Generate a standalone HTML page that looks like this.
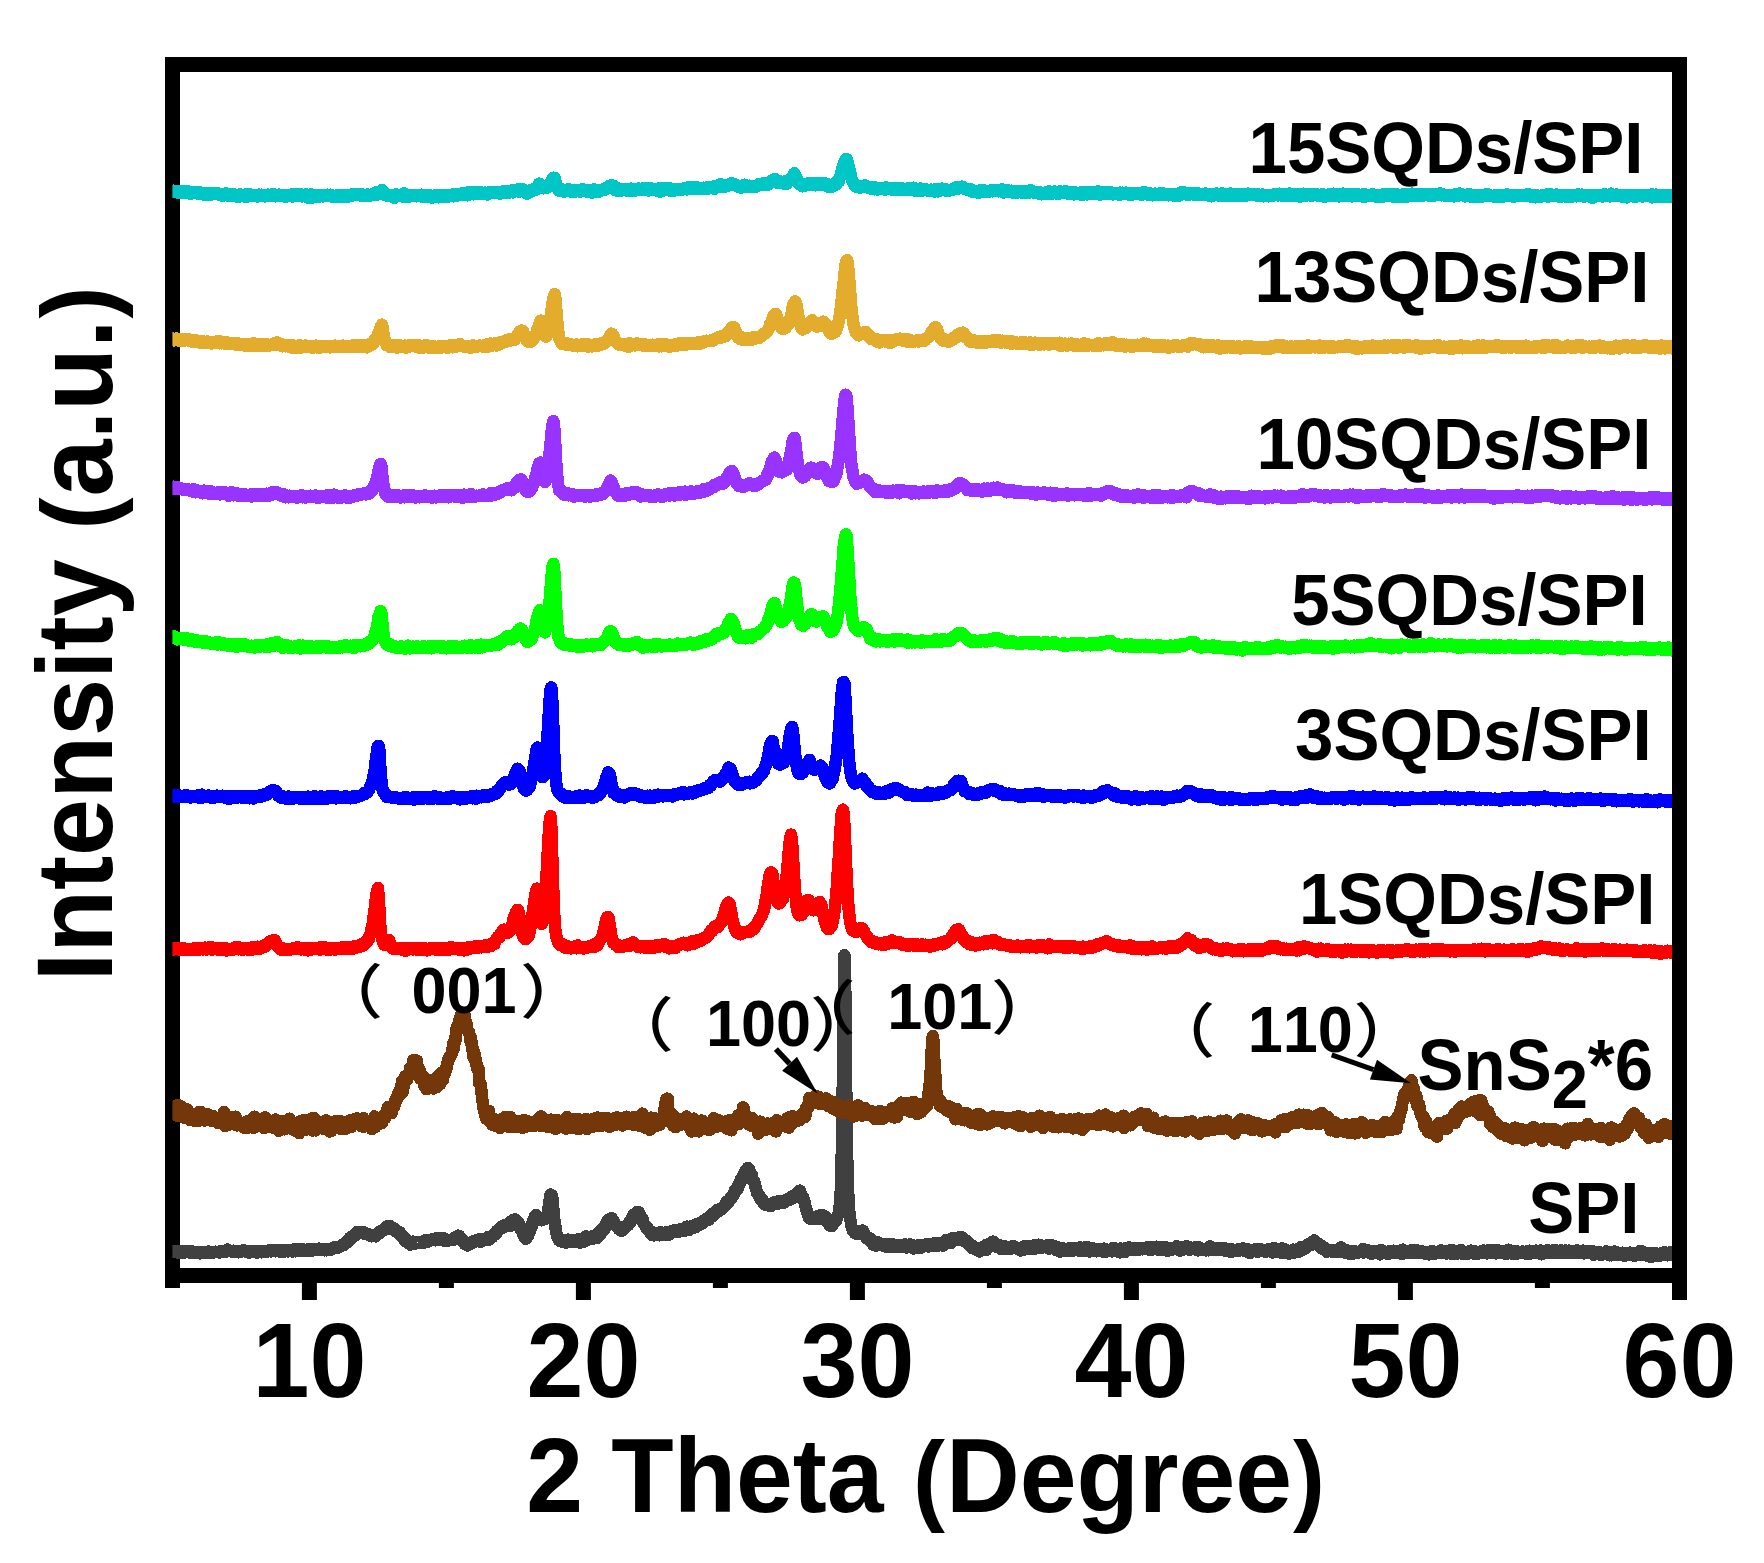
<!DOCTYPE html>
<html><head><meta charset="utf-8"><title>XRD</title>
<style>html,body{margin:0;padding:0;background:#fff}svg{display:block}</style></head>
<body>
<svg width="1764" height="1563" viewBox="0 0 1764 1563">
<rect width="1764" height="1563" fill="#fff"/>
<g fill="#000">
<rect x="165" y="57" width="15" height="1231"/>
</g>
<clipPath id="cp"><rect x="172.4" y="60" width="1507.0" height="1215"/></clipPath>
<g fill="none" stroke-linejoin="round" stroke-linecap="butt" clip-path="url(#cp)" shape-rendering="crispEdges">
<polyline stroke="#404040" stroke-width="12.5" points="172.4,1251.3 173.1,1251.3 173.8,1251.3 174.5,1252.2 175.1,1251.3 175.8,1251.5 176.5,1252.2 177.2,1252.3 177.9,1252.2 178.6,1251.8 179.3,1252.7 179.9,1253.2 180.6,1251.7 181.3,1252.0 182.0,1252.1 182.7,1252.1 183.4,1251.7 184.0,1250.9 184.7,1252.4 185.4,1252.1 186.1,1252.0 186.8,1251.5 187.5,1252.1 188.2,1252.2 188.8,1252.3 189.5,1252.5 190.2,1251.6 190.9,1250.9 191.6,1252.2 192.3,1252.1 193.0,1252.5 193.6,1252.3 194.3,1253.2 195.0,1253.0 195.7,1252.8 196.4,1252.5 197.1,1252.3 197.7,1252.8 198.4,1252.3 199.1,1252.3 199.8,1253.4 200.5,1253.0 201.2,1252.7 201.9,1252.1 202.5,1252.3 203.2,1252.4 203.9,1252.5 204.6,1251.9 205.3,1252.7 206.0,1252.5 206.7,1252.4 207.3,1252.8 208.0,1252.7 208.7,1251.5 209.4,1252.0 210.1,1252.4 210.8,1252.5 211.4,1253.0 212.1,1252.0 212.8,1252.4 213.5,1252.4 214.2,1252.1 214.9,1251.9 215.6,1251.7 216.2,1252.0 216.9,1251.8 217.6,1252.2 218.3,1251.8 219.0,1252.3 219.7,1252.4 220.4,1251.7 221.0,1251.2 221.7,1251.9 222.4,1251.9 223.1,1252.1 223.8,1251.2 224.5,1251.4 225.1,1251.4 225.8,1251.5 226.5,1251.1 227.2,1249.6 227.9,1251.3 228.6,1250.4 229.3,1251.1 229.9,1250.7 230.6,1251.1 231.3,1251.4 232.0,1251.4 232.7,1251.2 233.4,1250.8 234.1,1251.4 234.7,1251.6 235.4,1251.8 236.1,1251.5 236.8,1251.9 237.5,1251.1 238.2,1251.2 238.8,1252.3 239.5,1250.8 240.2,1250.8 240.9,1251.0 241.6,1250.9 242.3,1251.3 243.0,1250.7 243.6,1250.2 244.3,1250.7 245.0,1251.4 245.7,1251.0 246.4,1251.2 247.1,1251.4 247.8,1251.7 248.4,1252.2 249.1,1252.7 249.8,1251.4 250.5,1251.1 251.2,1251.3 251.9,1251.6 252.5,1251.3 253.2,1251.2 253.9,1251.2 254.6,1251.0 255.3,1251.1 256.0,1252.1 256.7,1252.0 257.3,1252.5 258.0,1251.1 258.7,1251.0 259.4,1251.6 260.1,1251.7 260.8,1252.0 261.5,1252.3 262.1,1251.7 262.8,1251.4 263.5,1251.0 264.2,1251.9 264.9,1251.4 265.6,1251.0 266.2,1251.9 266.9,1250.9 267.6,1250.8 268.3,1250.5 269.0,1251.1 269.7,1250.0 270.4,1250.4 271.0,1251.4 271.7,1250.6 272.4,1249.9 273.1,1250.7 273.8,1250.5 274.5,1250.2 275.2,1250.4 275.8,1251.2 276.5,1250.9 277.2,1250.5 277.9,1250.3 278.6,1251.2 279.3,1251.5 279.9,1251.0 280.6,1250.5 281.3,1250.2 282.0,1251.7 282.7,1250.9 283.4,1250.7 284.1,1250.8 284.7,1251.3 285.4,1250.8 286.1,1250.6 286.8,1249.8 287.5,1251.0 288.2,1251.3 288.9,1250.5 289.5,1250.2 290.2,1250.7 290.9,1250.8 291.6,1251.3 292.3,1251.4 293.0,1250.1 293.6,1249.4 294.3,1249.6 295.0,1249.7 295.7,1251.3 296.4,1249.9 297.1,1250.0 297.8,1249.5 298.4,1250.1 299.1,1250.4 299.8,1249.6 300.5,1249.9 301.2,1250.5 301.9,1250.1 302.6,1249.0 303.2,1249.8 303.9,1250.4 304.6,1249.7 305.3,1250.8 306.0,1249.8 306.7,1250.2 307.3,1249.6 308.0,1250.4 308.7,1250.5 309.4,1249.7 310.1,1249.4 310.8,1250.4 311.5,1249.5 312.1,1249.6 312.8,1250.4 313.5,1249.9 314.2,1249.3 314.9,1249.4 315.6,1250.1 316.3,1250.0 316.9,1249.4 317.6,1249.8 318.3,1250.0 319.0,1248.7 319.7,1249.6 320.4,1250.0 321.0,1249.8 321.7,1249.9 322.4,1250.1 323.1,1250.0 323.8,1249.7 324.5,1250.3 325.2,1249.1 325.8,1249.3 326.5,1250.3 327.2,1249.6 327.9,1249.2 328.6,1249.1 329.3,1248.9 330.0,1249.2 330.6,1248.9 331.3,1249.5 332.0,1248.5 332.7,1248.2 333.4,1247.9 334.1,1248.0 334.7,1248.3 335.4,1247.0 336.1,1247.1 336.8,1247.6 337.5,1247.8 338.2,1247.0 338.9,1246.8 339.5,1246.5 340.2,1246.6 340.9,1246.5 341.6,1245.6 342.3,1244.9 343.0,1245.4 343.7,1244.2 344.3,1244.0 345.0,1243.0 345.7,1242.9 346.4,1241.6 347.1,1241.7 347.8,1240.8 348.4,1241.8 349.1,1239.1 349.8,1237.9 350.5,1239.0 351.2,1237.4 351.9,1236.2 352.6,1237.4 353.2,1235.8 353.9,1235.2 354.6,1234.9 355.3,1235.5 356.0,1233.7 356.7,1233.8 357.4,1232.1 358.0,1232.2 358.7,1232.2 359.4,1233.0 360.1,1232.7 360.8,1232.6 361.5,1232.9 362.1,1232.4 362.8,1232.9 363.5,1232.1 364.2,1233.5 364.9,1233.5 365.6,1233.4 366.3,1234.0 366.9,1233.9 367.6,1234.1 368.3,1234.0 369.0,1234.7 369.7,1234.9 370.4,1235.7 371.1,1236.3 371.7,1235.3 372.4,1235.7 373.1,1235.7 373.8,1235.9 374.5,1236.1 375.2,1235.7 375.8,1236.4 376.5,1234.4 377.2,1234.5 377.9,1233.9 378.6,1233.2 379.3,1233.3 380.0,1231.7 380.6,1231.1 381.3,1230.8 382.0,1230.5 382.7,1230.5 383.4,1229.4 384.1,1229.5 384.8,1229.6 385.4,1229.1 386.1,1227.0 386.8,1226.9 387.5,1226.9 388.2,1226.0 388.9,1227.5 389.5,1228.4 390.2,1226.2 390.9,1227.1 391.6,1227.2 392.3,1227.9 393.0,1228.7 393.7,1229.1 394.3,1229.7 395.0,1229.1 395.7,1229.9 396.4,1231.8 397.1,1231.3 397.8,1232.4 398.5,1233.5 399.1,1233.7 399.8,1232.2 400.5,1235.0 401.2,1235.9 401.9,1236.5 402.6,1236.6 403.2,1238.3 403.9,1237.1 404.6,1238.8 405.3,1241.4 406.0,1239.0 406.7,1241.1 407.4,1241.4 408.0,1241.0 408.7,1242.3 409.4,1242.7 410.1,1244.5 410.8,1242.3 411.5,1242.7 412.2,1242.4 412.8,1241.6 413.5,1241.8 414.2,1242.3 414.9,1242.4 415.6,1243.4 416.3,1242.9 416.9,1243.2 417.6,1242.6 418.3,1241.9 419.0,1242.7 419.7,1242.9 420.4,1243.0 421.1,1242.5 421.7,1241.9 422.4,1241.9 423.1,1243.2 423.8,1241.2 424.5,1241.5 425.2,1241.2 425.9,1241.9 426.5,1239.9 427.2,1242.2 427.9,1241.2 428.6,1240.8 429.3,1240.3 430.0,1240.4 430.6,1239.9 431.3,1239.5 432.0,1239.5 432.7,1239.0 433.4,1238.9 434.1,1239.6 434.8,1239.5 435.4,1240.3 436.1,1238.9 436.8,1238.2 437.5,1239.5 438.2,1240.0 438.9,1238.1 439.6,1240.1 440.2,1240.2 440.9,1239.9 441.6,1237.8 442.3,1239.0 443.0,1240.2 443.7,1240.4 444.3,1239.9 445.0,1238.6 445.7,1240.1 446.4,1239.5 447.1,1241.2 447.8,1240.2 448.5,1240.5 449.1,1240.0 449.8,1240.3 450.5,1239.8 451.2,1239.6 451.9,1239.3 452.6,1239.8 453.3,1239.9 453.9,1238.4 454.6,1238.6 455.3,1238.5 456.0,1236.8 456.7,1237.4 457.4,1237.5 458.0,1235.6 458.7,1235.9 459.4,1236.1 460.1,1238.3 460.8,1238.6 461.5,1239.2 462.2,1241.1 462.8,1240.1 463.5,1241.0 464.2,1242.6 464.9,1244.2 465.6,1244.5 466.3,1243.3 467.0,1245.0 467.6,1245.5 468.3,1243.9 469.0,1243.7 469.7,1242.7 470.4,1244.0 471.1,1243.5 471.7,1242.8 472.4,1242.9 473.1,1241.8 473.8,1241.7 474.5,1240.7 475.2,1241.1 475.9,1241.1 476.5,1241.3 477.2,1240.3 477.9,1239.7 478.6,1240.9 479.3,1239.5 480.0,1240.1 480.7,1241.7 481.3,1240.2 482.0,1240.6 482.7,1239.8 483.4,1239.4 484.1,1239.6 484.8,1240.2 485.4,1238.8 486.1,1238.4 486.8,1238.9 487.5,1237.3 488.2,1238.1 488.9,1239.7 489.6,1238.7 490.2,1237.0 490.9,1237.0 491.6,1237.7 492.3,1236.1 493.0,1234.9 493.7,1235.5 494.4,1233.6 495.0,1232.9 495.7,1233.4 496.4,1233.7 497.1,1230.7 497.8,1230.5 498.5,1230.1 499.1,1229.1 499.8,1229.0 500.5,1228.0 501.2,1227.0 501.9,1228.4 502.6,1226.2 503.3,1226.6 503.9,1225.3 504.6,1226.4 505.3,1225.5 506.0,1226.2 506.7,1225.7 507.4,1225.0 508.1,1225.3 508.7,1225.7 509.4,1226.2 510.1,1221.9 510.8,1224.3 511.5,1223.2 512.2,1222.0 512.8,1222.8 513.5,1219.9 514.2,1219.6 514.9,1219.5 515.6,1219.8 516.3,1221.4 517.0,1221.7 517.6,1222.1 518.3,1222.6 519.0,1224.5 519.7,1226.7 520.4,1228.8 521.1,1230.2 521.8,1231.0 522.4,1232.2 523.1,1234.0 523.8,1235.5 524.5,1236.7 525.2,1238.4 525.9,1238.9 526.5,1237.7 527.2,1235.5 527.9,1236.4 528.6,1232.5 529.3,1232.7 530.0,1230.1 530.7,1226.2 531.3,1227.7 532.0,1225.9 532.7,1222.3 533.4,1219.7 534.1,1218.7 534.8,1216.3 535.5,1217.0 536.1,1215.1 536.8,1216.5 537.5,1216.8 538.2,1219.3 538.9,1219.2 539.6,1219.0 540.2,1219.3 540.9,1219.0 541.6,1220.3 542.3,1219.5 543.0,1219.6 543.7,1219.1 544.4,1218.9 545.0,1217.4 545.7,1218.7 546.4,1216.7 547.1,1215.2 547.8,1212.0 548.5,1209.0 549.2,1203.1 549.8,1199.0 550.5,1194.6 551.2,1194.9 551.9,1195.7 552.6,1200.1 553.3,1209.1 553.9,1215.7 554.6,1222.4 555.3,1226.1 556.0,1231.1 556.7,1234.4 557.4,1237.3 558.1,1238.3 558.7,1240.1 559.4,1239.7 560.1,1240.7 560.8,1241.4 561.5,1241.4 562.2,1241.8 562.9,1242.1 563.5,1241.2 564.2,1241.3 564.9,1242.0 565.6,1239.9 566.3,1242.7 567.0,1241.1 567.6,1241.0 568.3,1239.7 569.0,1241.7 569.7,1241.5 570.4,1241.8 571.1,1241.7 571.8,1240.6 572.4,1241.7 573.1,1240.6 573.8,1241.0 574.5,1242.0 575.2,1241.4 575.9,1241.2 576.6,1240.1 577.2,1240.4 577.9,1241.0 578.6,1239.3 579.3,1239.9 580.0,1242.5 580.7,1240.0 581.3,1240.9 582.0,1241.8 582.7,1239.8 583.4,1240.1 584.1,1239.0 584.8,1241.4 585.5,1239.7 586.1,1236.3 586.8,1238.6 587.5,1239.3 588.2,1239.5 588.9,1239.2 589.6,1239.1 590.3,1238.1 590.9,1236.7 591.6,1237.5 592.3,1238.8 593.0,1238.4 593.7,1237.0 594.4,1236.9 595.0,1236.3 595.7,1236.9 596.4,1237.3 597.1,1237.9 597.8,1233.4 598.5,1235.0 599.2,1233.3 599.8,1231.3 600.5,1234.2 601.2,1231.3 601.9,1229.6 602.6,1230.3 603.3,1227.8 604.0,1230.0 604.6,1228.3 605.3,1227.0 606.0,1226.6 606.7,1222.2 607.4,1221.0 608.1,1222.7 608.7,1219.7 609.4,1221.7 610.1,1220.1 610.8,1220.1 611.5,1218.0 612.2,1221.2 612.9,1221.1 613.5,1220.5 614.2,1222.4 614.9,1223.8 615.6,1224.6 616.3,1226.4 617.0,1225.9 617.7,1226.3 618.3,1227.2 619.0,1229.3 619.7,1229.1 620.4,1230.4 621.1,1229.9 621.8,1230.7 622.4,1228.9 623.1,1229.3 623.8,1229.1 624.5,1227.8 625.2,1227.8 625.9,1227.0 626.6,1226.2 627.2,1224.7 627.9,1224.4 628.6,1224.8 629.3,1221.7 630.0,1222.3 630.7,1221.8 631.4,1219.2 632.0,1219.7 632.7,1218.0 633.4,1214.9 634.1,1215.3 634.8,1214.3 635.5,1214.1 636.1,1213.0 636.8,1212.0 637.5,1212.5 638.2,1213.3 638.9,1212.2 639.6,1215.7 640.3,1215.8 640.9,1217.3 641.6,1219.2 642.3,1218.0 643.0,1220.6 643.7,1223.5 644.4,1224.3 645.1,1225.6 645.7,1226.0 646.4,1227.8 647.1,1228.7 647.8,1227.9 648.5,1230.6 649.2,1230.9 649.8,1231.3 650.5,1233.7 651.2,1231.4 651.9,1235.1 652.6,1233.9 653.3,1235.3 654.0,1235.0 654.6,1235.3 655.3,1233.7 656.0,1234.0 656.7,1234.9 657.4,1233.8 658.1,1233.4 658.8,1232.8 659.4,1235.3 660.1,1234.8 660.8,1232.2 661.5,1234.6 662.2,1235.2 662.9,1233.6 663.5,1233.7 664.2,1234.8 664.9,1234.1 665.6,1232.6 666.3,1234.4 667.0,1233.4 667.7,1234.6 668.3,1234.7 669.0,1233.5 669.7,1233.0 670.4,1233.7 671.1,1231.5 671.8,1232.0 672.5,1230.8 673.1,1231.4 673.8,1231.1 674.5,1231.7 675.2,1229.8 675.9,1230.0 676.6,1231.3 677.2,1231.1 677.9,1231.9 678.6,1230.1 679.3,1230.7 680.0,1230.8 680.7,1229.1 681.4,1230.4 682.0,1230.2 682.7,1230.3 683.4,1230.5 684.1,1230.7 684.8,1229.2 685.5,1229.5 686.2,1229.3 686.8,1226.7 687.5,1228.9 688.2,1228.2 688.9,1228.6 689.6,1229.7 690.3,1227.3 690.9,1227.5 691.6,1226.3 692.3,1227.8 693.0,1227.8 693.7,1226.1 694.4,1226.2 695.1,1226.1 695.7,1227.1 696.4,1224.2 697.1,1226.0 697.8,1225.5 698.5,1224.5 699.2,1223.8 699.9,1223.4 700.5,1222.9 701.2,1223.6 701.9,1223.5 702.6,1223.1 703.3,1220.6 704.0,1222.2 704.6,1220.8 705.3,1221.2 706.0,1219.1 706.7,1219.5 707.4,1218.3 708.1,1218.8 708.8,1219.7 709.4,1217.0 710.1,1216.2 710.8,1216.2 711.5,1216.3 712.2,1214.1 712.9,1215.4 713.6,1215.7 714.2,1213.8 714.9,1212.3 715.6,1212.9 716.3,1211.8 717.0,1212.1 717.7,1209.7 718.3,1211.4 719.0,1211.0 719.7,1209.6 720.4,1209.4 721.1,1209.5 721.8,1209.1 722.5,1207.8 723.1,1207.5 723.8,1206.5 724.5,1205.7 725.2,1205.0 725.9,1204.9 726.6,1201.5 727.3,1202.0 727.9,1202.6 728.6,1201.8 729.3,1200.7 730.0,1200.0 730.7,1197.9 731.4,1197.9 732.0,1197.4 732.7,1196.4 733.4,1195.5 734.1,1193.5 734.8,1190.7 735.5,1191.2 736.2,1189.6 736.8,1188.0 737.5,1188.9 738.2,1186.9 738.9,1183.7 739.6,1182.5 740.3,1183.1 741.0,1179.3 741.6,1178.4 742.3,1179.0 743.0,1175.4 743.7,1176.9 744.4,1174.1 745.1,1171.4 745.7,1172.6 746.4,1172.6 747.1,1171.6 747.8,1167.9 748.5,1168.7 749.2,1169.7 749.9,1171.6 750.5,1173.1 751.2,1175.0 751.9,1175.0 752.6,1180.3 753.3,1181.3 754.0,1180.8 754.7,1184.2 755.3,1186.0 756.0,1188.9 756.7,1190.9 757.4,1193.6 758.1,1194.5 758.8,1195.8 759.4,1195.4 760.1,1197.9 760.8,1200.0 761.5,1199.2 762.2,1200.7 762.9,1200.6 763.6,1203.1 764.2,1203.4 764.9,1204.6 765.6,1203.3 766.3,1204.9 767.0,1205.2 767.7,1205.1 768.4,1204.9 769.0,1205.5 769.7,1205.0 770.4,1205.8 771.1,1206.2 771.8,1204.0 772.5,1204.3 773.1,1204.1 773.8,1204.0 774.5,1202.2 775.2,1203.3 775.9,1202.9 776.6,1202.4 777.3,1204.2 777.9,1202.4 778.6,1201.1 779.3,1201.7 780.0,1201.9 780.7,1201.8 781.4,1201.6 782.1,1201.5 782.7,1202.4 783.4,1203.0 784.1,1201.8 784.8,1201.2 785.5,1201.6 786.2,1201.3 786.8,1199.7 787.5,1200.3 788.2,1198.8 788.9,1200.0 789.6,1199.7 790.3,1198.1 791.0,1197.0 791.6,1198.6 792.3,1197.8 793.0,1198.1 793.7,1195.4 794.4,1197.3 795.1,1196.8 795.8,1194.6 796.4,1193.4 797.1,1193.7 797.8,1193.3 798.5,1193.0 799.2,1193.1 799.9,1190.6 800.5,1192.7 801.2,1195.3 801.9,1195.9 802.6,1196.6 803.3,1197.9 804.0,1200.2 804.7,1202.9 805.3,1205.3 806.0,1209.2 806.7,1209.6 807.4,1212.8 808.1,1214.7 808.8,1217.8 809.5,1216.8 810.1,1217.9 810.8,1216.2 811.5,1219.2 812.2,1217.3 812.9,1217.7 813.6,1218.4 814.2,1219.0 814.9,1219.0 815.6,1217.3 816.3,1216.8 817.0,1216.5 817.7,1217.4 818.4,1217.3 819.0,1216.0 819.7,1218.8 820.4,1216.2 821.1,1214.9 821.8,1215.3 822.5,1215.9 823.2,1215.6 823.8,1216.2 824.5,1217.6 825.2,1217.8 825.9,1216.8 826.6,1219.3 827.3,1220.0 827.9,1222.4 828.6,1222.5 829.3,1223.4 830.0,1225.8 830.7,1225.1 831.4,1224.2 832.1,1226.0 832.7,1223.3 833.4,1221.7 834.1,1221.7 834.8,1222.1 835.5,1219.8 836.2,1220.3 836.9,1218.5 837.5,1216.7 838.2,1214.2 838.9,1212.3 839.6,1207.2 840.3,1199.7 841.0,1186.3 841.6,1163.3 842.3,1124.2 843.0,1067.1 843.7,997.7 844.4,955.3 845.1,976.1 845.8,1040.7 846.4,1106.2 847.1,1152.7 847.8,1183.1 848.5,1199.8 849.2,1211.0 849.9,1218.2 850.6,1220.7 851.2,1225.7 851.9,1227.5 852.6,1230.0 853.3,1229.9 854.0,1231.1 854.7,1232.9 855.3,1233.0 856.0,1232.6 856.7,1232.5 857.4,1234.1 858.1,1231.1 858.8,1232.5 859.5,1232.8 860.1,1234.2 860.8,1234.0 861.5,1232.9 862.2,1232.8 862.9,1230.6 863.6,1233.3 864.3,1233.7 864.9,1235.3 865.6,1236.1 866.3,1238.2 867.0,1237.5 867.7,1239.2 868.4,1237.9 869.0,1238.9 869.7,1238.4 870.4,1238.9 871.1,1241.4 871.8,1240.0 872.5,1241.9 873.2,1244.6 873.8,1243.5 874.5,1243.9 875.2,1244.5 875.9,1245.6 876.6,1242.0 877.3,1244.7 878.0,1244.7 878.6,1245.0 879.3,1245.1 880.0,1243.4 880.7,1244.6 881.4,1243.7 882.1,1243.8 882.7,1244.8 883.4,1245.9 884.1,1245.9 884.8,1244.1 885.5,1244.9 886.2,1244.0 886.9,1246.9 887.5,1246.8 888.2,1245.2 888.9,1245.3 889.6,1246.8 890.3,1246.5 891.0,1244.9 891.7,1243.9 892.3,1245.3 893.0,1246.5 893.7,1244.7 894.4,1245.2 895.1,1245.5 895.8,1245.2 896.4,1245.5 897.1,1246.9 897.8,1246.2 898.5,1245.2 899.2,1246.9 899.9,1246.7 900.6,1246.4 901.2,1246.4 901.9,1246.7 902.6,1245.1 903.3,1245.4 904.0,1245.4 904.7,1244.3 905.4,1245.3 906.0,1246.8 906.7,1247.5 907.4,1247.2 908.1,1245.5 908.8,1245.3 909.5,1245.6 910.1,1244.4 910.8,1245.7 911.5,1246.0 912.2,1245.0 912.9,1245.5 913.6,1248.4 914.3,1248.2 914.9,1246.5 915.6,1247.8 916.3,1246.2 917.0,1245.7 917.7,1246.1 918.4,1246.6 919.1,1247.6 919.7,1248.1 920.4,1245.1 921.1,1245.7 921.8,1245.0 922.5,1246.6 923.2,1246.1 923.8,1246.4 924.5,1245.3 925.2,1245.2 925.9,1244.6 926.6,1245.0 927.3,1246.3 928.0,1246.4 928.6,1244.1 929.3,1245.1 930.0,1246.3 930.7,1245.3 931.4,1244.4 932.1,1245.5 932.8,1245.9 933.4,1245.1 934.1,1245.8 934.8,1243.1 935.5,1245.7 936.2,1245.2 936.9,1246.2 937.5,1243.5 938.2,1243.6 938.9,1245.2 939.6,1244.0 940.3,1243.4 941.0,1243.8 941.7,1244.5 942.3,1243.5 943.0,1245.6 943.7,1243.5 944.4,1243.2 945.1,1242.8 945.8,1243.8 946.5,1239.8 947.1,1242.6 947.8,1243.1 948.5,1241.4 949.2,1241.3 949.9,1242.1 950.6,1241.9 951.2,1242.8 951.9,1241.2 952.6,1238.0 953.3,1238.8 954.0,1240.2 954.7,1239.4 955.4,1239.6 956.0,1239.1 956.7,1238.3 957.4,1238.9 958.1,1238.7 958.8,1239.7 959.5,1237.1 960.2,1238.0 960.8,1239.9 961.5,1238.1 962.2,1239.7 962.9,1237.7 963.6,1239.1 964.3,1240.8 964.9,1240.7 965.6,1240.0 966.3,1240.9 967.0,1242.0 967.7,1243.4 968.4,1243.1 969.1,1243.7 969.7,1244.7 970.4,1245.8 971.1,1244.8 971.8,1247.8 972.5,1245.8 973.2,1247.3 973.9,1247.5 974.5,1247.2 975.2,1249.4 975.9,1249.6 976.6,1248.8 977.3,1250.4 978.0,1250.4 978.6,1248.7 979.3,1251.4 980.0,1247.9 980.7,1249.0 981.4,1249.9 982.1,1248.9 982.8,1246.8 983.4,1248.7 984.1,1246.3 984.8,1247.3 985.5,1247.2 986.2,1250.1 986.9,1244.6 987.6,1244.8 988.2,1245.0 988.9,1243.9 989.6,1243.5 990.3,1244.1 991.0,1243.1 991.7,1242.1 992.3,1242.7 993.0,1241.6 993.7,1243.3 994.4,1243.4 995.1,1243.5 995.8,1245.7 996.5,1246.8 997.1,1245.0 997.8,1247.3 998.5,1245.9 999.2,1247.7 999.9,1245.7 1000.6,1245.6 1001.3,1249.0 1001.9,1246.3 1002.6,1248.7 1003.3,1247.9 1004.0,1246.6 1004.7,1246.4 1005.4,1248.0 1006.0,1248.5 1006.7,1248.4 1007.4,1247.5 1008.1,1247.5 1008.8,1248.2 1009.5,1249.0 1010.2,1248.9 1010.8,1247.5 1011.5,1247.4 1012.2,1246.1 1012.9,1246.0 1013.6,1247.5 1014.3,1247.4 1015.0,1247.8 1015.6,1247.3 1016.3,1248.5 1017.0,1247.9 1017.7,1248.4 1018.4,1248.8 1019.1,1248.5 1019.7,1249.1 1020.4,1250.4 1021.1,1249.3 1021.8,1249.3 1022.5,1247.3 1023.2,1250.0 1023.9,1246.3 1024.5,1247.9 1025.2,1247.1 1025.9,1248.4 1026.6,1249.2 1027.3,1246.2 1028.0,1248.0 1028.7,1247.0 1029.3,1246.7 1030.0,1247.6 1030.7,1248.1 1031.4,1248.9 1032.1,1248.5 1032.8,1246.5 1033.4,1245.6 1034.1,1247.2 1034.8,1246.9 1035.5,1248.4 1036.2,1246.8 1036.9,1245.1 1037.6,1246.9 1038.2,1244.7 1038.9,1246.9 1039.6,1244.8 1040.3,1248.2 1041.0,1245.6 1041.7,1247.0 1042.4,1245.7 1043.0,1245.7 1043.7,1246.2 1044.4,1247.2 1045.1,1246.5 1045.8,1247.2 1046.5,1246.0 1047.1,1245.2 1047.8,1247.7 1048.5,1248.6 1049.2,1245.5 1049.9,1245.7 1050.6,1245.4 1051.3,1245.2 1051.9,1245.6 1052.6,1247.1 1053.3,1246.4 1054.0,1246.9 1054.7,1246.1 1055.4,1246.5 1056.1,1249.9 1056.7,1249.5 1057.4,1248.6 1058.1,1247.4 1058.8,1251.2 1059.5,1248.9 1060.2,1251.7 1060.8,1250.4 1061.5,1250.1 1062.2,1248.2 1062.9,1249.2 1063.6,1250.8 1064.3,1249.3 1065.0,1250.8 1065.6,1249.7 1066.3,1250.4 1067.0,1250.0 1067.7,1248.7 1068.4,1249.6 1069.1,1250.2 1069.8,1248.3 1070.4,1251.2 1071.1,1250.2 1071.8,1251.0 1072.5,1248.6 1073.2,1248.9 1073.9,1249.8 1074.5,1249.1 1075.2,1248.7 1075.9,1248.8 1076.6,1248.1 1077.3,1248.8 1078.0,1248.7 1078.7,1248.3 1079.3,1250.6 1080.0,1247.5 1080.7,1248.7 1081.4,1249.9 1082.1,1248.8 1082.8,1248.3 1083.5,1250.7 1084.1,1247.6 1084.8,1248.4 1085.5,1248.7 1086.2,1249.3 1086.9,1248.7 1087.6,1247.3 1088.2,1248.6 1088.9,1250.1 1089.6,1251.5 1090.3,1248.9 1091.0,1248.2 1091.7,1250.8 1092.4,1251.1 1093.0,1248.4 1093.7,1249.1 1094.4,1248.8 1095.1,1250.1 1095.8,1250.6 1096.5,1251.3 1097.2,1250.2 1097.8,1251.1 1098.5,1250.2 1099.2,1249.4 1099.9,1250.7 1100.6,1250.1 1101.3,1250.1 1101.9,1249.4 1102.6,1249.3 1103.3,1251.8 1104.0,1248.6 1104.7,1252.2 1105.4,1250.3 1106.1,1251.5 1106.7,1251.4 1107.4,1250.3 1108.1,1250.4 1108.8,1250.3 1109.5,1249.7 1110.2,1250.5 1110.9,1250.2 1111.5,1249.7 1112.2,1251.4 1112.9,1250.9 1113.6,1247.9 1114.3,1251.2 1115.0,1250.1 1115.6,1249.6 1116.3,1249.6 1117.0,1249.5 1117.7,1251.6 1118.4,1250.3 1119.1,1249.6 1119.8,1252.4 1120.4,1248.5 1121.1,1249.0 1121.8,1250.1 1122.5,1249.2 1123.2,1248.9 1123.9,1249.0 1124.6,1248.6 1125.2,1251.8 1125.9,1249.0 1126.6,1250.4 1127.3,1249.3 1128.0,1248.5 1128.7,1247.4 1129.3,1249.1 1130.0,1250.2 1130.7,1250.1 1131.4,1247.9 1132.1,1248.9 1132.8,1248.2 1133.5,1248.3 1134.1,1249.2 1134.8,1249.9 1135.5,1249.3 1136.2,1248.6 1136.9,1248.8 1137.6,1248.1 1138.3,1250.0 1138.9,1248.9 1139.6,1247.8 1140.3,1248.8 1141.0,1249.1 1141.7,1248.9 1142.4,1249.3 1143.0,1249.2 1143.7,1247.8 1144.4,1248.4 1145.1,1248.0 1145.8,1248.8 1146.5,1248.1 1147.2,1248.8 1147.8,1246.9 1148.5,1249.5 1149.2,1249.1 1149.9,1248.4 1150.6,1248.5 1151.3,1248.4 1152.0,1249.7 1152.6,1247.3 1153.3,1249.3 1154.0,1249.3 1154.7,1247.6 1155.4,1247.8 1156.1,1247.3 1156.7,1246.7 1157.4,1247.9 1158.1,1249.6 1158.8,1249.6 1159.5,1247.4 1160.2,1249.0 1160.9,1249.1 1161.5,1248.7 1162.2,1249.6 1162.9,1248.7 1163.6,1247.4 1164.3,1248.6 1165.0,1249.5 1165.7,1249.4 1166.3,1248.8 1167.0,1247.6 1167.7,1250.8 1168.4,1249.2 1169.1,1250.3 1169.8,1248.3 1170.4,1249.7 1171.1,1248.2 1171.8,1249.2 1172.5,1248.5 1173.2,1247.7 1173.9,1249.3 1174.6,1248.6 1175.2,1247.9 1175.9,1248.7 1176.6,1246.2 1177.3,1249.3 1178.0,1246.8 1178.7,1249.3 1179.4,1248.0 1180.0,1250.6 1180.7,1248.7 1181.4,1247.0 1182.1,1249.3 1182.8,1248.2 1183.5,1249.5 1184.1,1247.8 1184.8,1247.7 1185.5,1246.5 1186.2,1249.0 1186.9,1246.2 1187.6,1248.3 1188.3,1247.4 1188.9,1248.2 1189.6,1249.8 1190.3,1248.4 1191.0,1248.9 1191.7,1247.7 1192.4,1248.2 1193.1,1247.9 1193.7,1248.8 1194.4,1248.0 1195.1,1249.1 1195.8,1247.3 1196.5,1248.7 1197.2,1249.1 1197.8,1250.4 1198.5,1247.7 1199.2,1247.6 1199.9,1249.2 1200.6,1248.5 1201.3,1249.0 1202.0,1249.8 1202.6,1249.9 1203.3,1250.1 1204.0,1249.5 1204.7,1250.0 1205.4,1249.6 1206.1,1250.3 1206.8,1250.0 1207.4,1248.8 1208.1,1248.6 1208.8,1250.3 1209.5,1249.8 1210.2,1246.3 1210.9,1248.4 1211.5,1247.5 1212.2,1250.1 1212.9,1249.0 1213.6,1249.7 1214.3,1249.1 1215.0,1249.7 1215.7,1248.4 1216.3,1248.2 1217.0,1248.5 1217.7,1250.2 1218.4,1248.5 1219.1,1249.4 1219.8,1250.0 1220.5,1248.2 1221.1,1249.3 1221.8,1249.4 1222.5,1249.1 1223.2,1249.3 1223.9,1248.6 1224.6,1248.1 1225.2,1249.5 1225.9,1251.1 1226.6,1250.5 1227.3,1249.3 1228.0,1250.4 1228.7,1250.3 1229.4,1249.3 1230.0,1251.6 1230.7,1251.0 1231.4,1251.5 1232.1,1249.5 1232.8,1250.0 1233.5,1251.3 1234.2,1250.0 1234.8,1250.7 1235.5,1249.8 1236.2,1250.7 1236.9,1251.0 1237.6,1251.1 1238.3,1249.3 1238.9,1249.0 1239.6,1249.1 1240.3,1249.4 1241.0,1250.2 1241.7,1249.3 1242.4,1249.9 1243.1,1248.5 1243.7,1249.5 1244.4,1251.0 1245.1,1249.2 1245.8,1250.1 1246.5,1250.2 1247.2,1250.7 1247.9,1251.6 1248.5,1249.4 1249.2,1252.8 1249.9,1252.9 1250.6,1250.6 1251.3,1251.3 1252.0,1250.6 1252.6,1250.7 1253.3,1250.8 1254.0,1250.6 1254.7,1250.7 1255.4,1249.0 1256.1,1250.4 1256.8,1250.2 1257.4,1251.8 1258.1,1250.9 1258.8,1251.0 1259.5,1250.9 1260.2,1249.4 1260.9,1250.8 1261.6,1249.6 1262.2,1250.8 1262.9,1249.9 1263.6,1250.7 1264.3,1251.5 1265.0,1250.4 1265.7,1251.6 1266.3,1250.8 1267.0,1251.3 1267.7,1250.0 1268.4,1250.7 1269.1,1248.8 1269.8,1249.2 1270.5,1248.8 1271.1,1251.7 1271.8,1248.7 1272.5,1252.4 1273.2,1249.5 1273.9,1248.9 1274.6,1248.2 1275.3,1251.4 1275.9,1249.1 1276.6,1249.5 1277.3,1251.5 1278.0,1250.1 1278.7,1250.7 1279.4,1249.9 1280.0,1250.2 1280.7,1250.1 1281.4,1252.9 1282.1,1248.5 1282.8,1250.9 1283.5,1249.8 1284.2,1251.0 1284.8,1249.4 1285.5,1253.2 1286.2,1250.0 1286.9,1251.9 1287.6,1250.9 1288.3,1251.9 1289.0,1253.5 1289.6,1252.3 1290.3,1252.2 1291.0,1251.7 1291.7,1251.8 1292.4,1252.7 1293.1,1249.6 1293.7,1251.4 1294.4,1251.2 1295.1,1252.3 1295.8,1252.3 1296.5,1249.6 1297.2,1250.2 1297.9,1250.7 1298.5,1252.1 1299.2,1249.9 1299.9,1249.1 1300.6,1248.0 1301.3,1246.8 1302.0,1250.1 1302.7,1249.7 1303.3,1248.3 1304.0,1248.2 1304.7,1248.2 1305.4,1248.7 1306.1,1247.1 1306.8,1245.2 1307.4,1245.1 1308.1,1244.6 1308.8,1244.4 1309.5,1243.5 1310.2,1244.5 1310.9,1245.0 1311.6,1243.5 1312.2,1243.7 1312.9,1244.4 1313.6,1243.3 1314.3,1240.4 1315.0,1242.1 1315.7,1242.6 1316.4,1243.1 1317.0,1244.7 1317.7,1243.2 1318.4,1245.0 1319.1,1244.5 1319.8,1245.2 1320.5,1245.2 1321.1,1248.3 1321.8,1247.8 1322.5,1247.4 1323.2,1247.0 1323.9,1249.4 1324.6,1248.0 1325.3,1248.9 1325.9,1249.6 1326.6,1251.9 1327.3,1250.7 1328.0,1250.7 1328.7,1251.0 1329.4,1250.2 1330.1,1250.9 1330.7,1249.8 1331.4,1251.0 1332.1,1251.0 1332.8,1251.8 1333.5,1251.0 1334.2,1251.7 1334.8,1252.2 1335.5,1251.5 1336.2,1251.3 1336.9,1249.8 1337.6,1251.0 1338.3,1251.7 1339.0,1252.1 1339.6,1251.4 1340.3,1250.6 1341.0,1247.4 1341.7,1250.3 1342.4,1250.7 1343.1,1251.7 1343.8,1252.3 1344.4,1251.9 1345.1,1252.4 1345.8,1252.3 1346.5,1250.4 1347.2,1253.3 1347.9,1252.8 1348.5,1251.4 1349.2,1252.3 1349.9,1252.8 1350.6,1254.1 1351.3,1252.1 1352.0,1254.0 1352.7,1253.1 1353.3,1251.9 1354.0,1251.2 1354.7,1251.9 1355.4,1253.0 1356.1,1252.3 1356.8,1252.3 1357.5,1252.9 1358.1,1251.7 1358.8,1251.7 1359.5,1251.5 1360.2,1252.0 1360.9,1251.0 1361.6,1250.7 1362.2,1249.8 1362.9,1249.0 1363.6,1252.4 1364.3,1251.9 1365.0,1252.1 1365.7,1250.6 1366.4,1250.7 1367.0,1250.4 1367.7,1251.8 1368.4,1251.5 1369.1,1250.7 1369.8,1251.5 1370.5,1252.0 1371.2,1253.8 1371.8,1251.9 1372.5,1253.2 1373.2,1252.4 1373.9,1251.1 1374.6,1252.8 1375.3,1252.4 1375.9,1251.2 1376.6,1252.7 1377.3,1252.8 1378.0,1251.2 1378.7,1252.4 1379.4,1252.8 1380.1,1254.3 1380.7,1250.0 1381.4,1252.6 1382.1,1251.9 1382.8,1252.1 1383.5,1251.5 1384.2,1253.0 1384.9,1251.6 1385.5,1252.3 1386.2,1252.7 1386.9,1252.3 1387.6,1251.8 1388.3,1254.2 1389.0,1251.5 1389.6,1252.1 1390.3,1252.4 1391.0,1251.1 1391.7,1251.5 1392.4,1251.3 1393.1,1250.7 1393.8,1252.3 1394.4,1252.1 1395.1,1252.4 1395.8,1251.7 1396.5,1251.6 1397.2,1251.2 1397.9,1253.2 1398.6,1252.0 1399.2,1252.9 1399.9,1250.7 1400.6,1251.6 1401.3,1253.7 1402.0,1254.0 1402.7,1249.7 1403.3,1250.7 1404.0,1253.1 1404.7,1251.8 1405.4,1251.5 1406.1,1253.0 1406.8,1252.7 1407.5,1253.1 1408.1,1252.4 1408.8,1252.3 1409.5,1251.6 1410.2,1250.5 1410.9,1250.6 1411.6,1251.0 1412.3,1251.6 1412.9,1253.1 1413.6,1250.6 1414.3,1251.6 1415.0,1252.3 1415.7,1252.5 1416.4,1250.4 1417.0,1251.1 1417.7,1251.9 1418.4,1250.7 1419.1,1251.1 1419.8,1253.1 1420.5,1251.4 1421.2,1251.7 1421.8,1253.0 1422.5,1252.4 1423.2,1251.7 1423.9,1252.7 1424.6,1253.4 1425.3,1252.9 1426.0,1253.3 1426.6,1251.9 1427.3,1253.7 1428.0,1253.1 1428.7,1254.4 1429.4,1254.4 1430.1,1253.3 1430.7,1252.9 1431.4,1252.6 1432.1,1251.1 1432.8,1252.3 1433.5,1253.0 1434.2,1252.5 1434.9,1253.6 1435.5,1251.9 1436.2,1252.5 1436.9,1251.8 1437.6,1251.8 1438.3,1251.6 1439.0,1252.1 1439.7,1252.9 1440.3,1252.0 1441.0,1250.5 1441.7,1252.0 1442.4,1252.6 1443.1,1251.8 1443.8,1251.0 1444.4,1251.8 1445.1,1252.6 1445.8,1250.8 1446.5,1253.6 1447.2,1251.8 1447.9,1252.6 1448.6,1252.7 1449.2,1252.7 1449.9,1253.4 1450.6,1252.7 1451.3,1249.9 1452.0,1254.0 1452.7,1251.5 1453.4,1252.4 1454.0,1253.2 1454.7,1251.9 1455.4,1254.0 1456.1,1251.9 1456.8,1250.8 1457.5,1253.2 1458.1,1253.4 1458.8,1252.3 1459.5,1252.8 1460.2,1252.2 1460.9,1249.9 1461.6,1253.5 1462.3,1252.5 1462.9,1254.1 1463.6,1252.0 1464.3,1252.2 1465.0,1252.8 1465.7,1252.5 1466.4,1252.9 1467.1,1252.7 1467.7,1253.0 1468.4,1253.6 1469.1,1251.3 1469.8,1252.2 1470.5,1251.2 1471.2,1250.6 1471.8,1252.6 1472.5,1252.5 1473.2,1252.9 1473.9,1251.7 1474.6,1253.9 1475.3,1251.8 1476.0,1251.7 1476.6,1252.5 1477.3,1252.6 1478.0,1253.7 1478.7,1253.2 1479.4,1251.8 1480.1,1252.2 1480.8,1252.9 1481.4,1251.6 1482.1,1251.8 1482.8,1253.0 1483.5,1250.6 1484.2,1250.7 1484.9,1251.2 1485.5,1251.3 1486.2,1251.2 1486.9,1253.3 1487.6,1251.7 1488.3,1252.0 1489.0,1250.2 1489.7,1250.5 1490.3,1250.5 1491.0,1252.0 1491.7,1252.8 1492.4,1250.0 1493.1,1250.6 1493.8,1251.9 1494.5,1250.1 1495.1,1253.3 1495.8,1250.1 1496.5,1253.3 1497.2,1250.6 1497.9,1250.2 1498.6,1252.2 1499.2,1251.1 1499.9,1252.5 1500.6,1253.0 1501.3,1252.7 1502.0,1252.4 1502.7,1250.9 1503.4,1253.0 1504.0,1251.4 1504.7,1252.5 1505.4,1253.9 1506.1,1252.7 1506.8,1250.7 1507.5,1253.5 1508.2,1249.7 1508.8,1252.4 1509.5,1251.5 1510.2,1253.3 1510.9,1251.8 1511.6,1252.7 1512.3,1253.6 1512.9,1253.8 1513.6,1251.9 1514.3,1251.2 1515.0,1252.2 1515.7,1252.0 1516.4,1251.2 1517.1,1253.7 1517.7,1252.3 1518.4,1252.7 1519.1,1252.6 1519.8,1252.3 1520.5,1252.0 1521.2,1251.8 1521.9,1252.3 1522.5,1251.5 1523.2,1251.8 1523.9,1253.2 1524.6,1252.7 1525.3,1253.6 1526.0,1252.9 1526.6,1253.5 1527.3,1251.4 1528.0,1253.0 1528.7,1251.7 1529.4,1250.7 1530.1,1253.7 1530.8,1252.8 1531.4,1252.7 1532.1,1252.1 1532.8,1252.4 1533.5,1251.9 1534.2,1252.9 1534.9,1251.4 1535.6,1251.0 1536.2,1250.6 1536.9,1253.2 1537.6,1253.0 1538.3,1252.3 1539.0,1251.9 1539.7,1250.9 1540.3,1250.6 1541.0,1252.2 1541.7,1254.3 1542.4,1250.9 1543.1,1252.6 1543.8,1251.6 1544.5,1251.2 1545.1,1252.3 1545.8,1251.8 1546.5,1250.6 1547.2,1252.7 1547.9,1250.4 1548.6,1252.1 1549.3,1251.7 1549.9,1252.5 1550.6,1253.2 1551.3,1251.9 1552.0,1252.8 1552.7,1250.5 1553.4,1252.2 1554.0,1252.9 1554.7,1249.8 1555.4,1251.8 1556.1,1250.7 1556.8,1252.0 1557.5,1252.2 1558.2,1251.5 1558.8,1252.5 1559.5,1251.4 1560.2,1251.7 1560.9,1250.5 1561.6,1251.9 1562.3,1253.0 1563.0,1253.1 1563.6,1251.6 1564.3,1252.2 1565.0,1252.7 1565.7,1250.5 1566.4,1251.1 1567.1,1251.9 1567.7,1251.0 1568.4,1250.9 1569.1,1250.6 1569.8,1252.8 1570.5,1252.7 1571.2,1250.9 1571.9,1252.6 1572.5,1251.9 1573.2,1251.7 1573.9,1251.2 1574.6,1252.0 1575.3,1252.6 1576.0,1252.4 1576.7,1250.4 1577.3,1252.8 1578.0,1251.1 1578.7,1251.5 1579.4,1252.1 1580.1,1252.1 1580.8,1252.8 1581.4,1251.5 1582.1,1251.6 1582.8,1250.6 1583.5,1253.2 1584.2,1253.3 1584.9,1252.5 1585.6,1251.3 1586.2,1252.9 1586.9,1251.3 1587.6,1252.6 1588.3,1251.4 1589.0,1251.1 1589.7,1251.2 1590.4,1252.9 1591.0,1252.7 1591.7,1252.4 1592.4,1251.5 1593.1,1253.1 1593.8,1254.9 1594.5,1251.7 1595.1,1251.8 1595.8,1252.8 1596.5,1253.3 1597.2,1251.9 1597.9,1253.8 1598.6,1253.7 1599.3,1252.1 1599.9,1254.3 1600.6,1253.4 1601.3,1255.1 1602.0,1253.1 1602.7,1253.3 1603.4,1254.2 1604.1,1252.9 1604.7,1254.0 1605.4,1253.3 1606.1,1251.5 1606.8,1253.9 1607.5,1253.4 1608.2,1254.7 1608.8,1253.0 1609.5,1255.3 1610.2,1254.2 1610.9,1253.8 1611.6,1255.3 1612.3,1253.7 1613.0,1251.9 1613.6,1254.8 1614.3,1251.6 1615.0,1254.5 1615.7,1254.3 1616.4,1254.8 1617.1,1253.8 1617.8,1253.9 1618.4,1252.7 1619.1,1253.5 1619.8,1254.4 1620.5,1254.7 1621.2,1253.3 1621.9,1253.1 1622.5,1252.7 1623.2,1254.6 1623.9,1253.2 1624.6,1255.8 1625.3,1255.0 1626.0,1254.1 1626.7,1255.3 1627.3,1253.7 1628.0,1253.9 1628.7,1253.2 1629.4,1253.0 1630.1,1252.6 1630.8,1255.2 1631.5,1253.1 1632.1,1254.2 1632.8,1253.1 1633.5,1255.6 1634.2,1253.8 1634.9,1255.8 1635.6,1252.8 1636.2,1252.8 1636.9,1252.9 1637.6,1252.5 1638.3,1253.9 1639.0,1254.2 1639.7,1254.3 1640.4,1250.9 1641.0,1254.0 1641.7,1255.1 1642.4,1252.1 1643.1,1254.7 1643.8,1253.9 1644.5,1252.6 1645.2,1253.4 1645.8,1253.6 1646.5,1255.4 1647.2,1253.9 1647.9,1252.8 1648.6,1255.1 1649.3,1255.1 1649.9,1253.0 1650.6,1257.1 1651.3,1254.6 1652.0,1253.0 1652.7,1255.2 1653.4,1254.2 1654.1,1255.4 1654.7,1253.5 1655.4,1255.8 1656.1,1254.5 1656.8,1253.6 1657.5,1255.9 1658.2,1255.7 1658.9,1255.7 1659.5,1255.8 1660.2,1254.0 1660.9,1253.4 1661.6,1254.8 1662.3,1254.7 1663.0,1253.9 1663.6,1253.3 1664.3,1252.2 1665.0,1254.6 1665.7,1254.6 1666.4,1253.1 1667.1,1255.3 1667.8,1255.0 1668.4,1254.5 1669.1,1253.5 1669.8,1252.7 1670.5,1252.4 1671.2,1254.2 1671.9,1255.2 1672.6,1254.7 1673.2,1253.8 1673.9,1255.5 1674.6,1254.5 1675.3,1255.3 1676.0,1254.2 1676.7,1255.8 1677.3,1254.4 1678.0,1255.8 1678.7,1255.0 1679.4,1255.0"/>
<polyline stroke="#73370a" stroke-width="12.5" points="172.4,1106.8 173.1,1106.8 173.8,1107.5 174.5,1108.9 175.1,1112.4 175.8,1108.0 176.5,1108.5 177.2,1115.7 177.9,1104.8 178.6,1108.9 179.3,1113.3 179.9,1109.8 180.6,1110.1 181.3,1106.9 182.0,1106.8 182.7,1115.6 183.4,1117.4 184.0,1113.9 184.7,1111.5 185.4,1109.5 186.1,1113.7 186.8,1115.3 187.5,1109.6 188.2,1116.5 188.8,1114.2 189.5,1119.7 190.2,1117.5 190.9,1118.3 191.6,1115.9 192.3,1115.0 193.0,1114.3 193.6,1120.6 194.3,1118.5 195.0,1117.0 195.7,1116.6 196.4,1116.5 197.1,1119.8 197.7,1120.6 198.4,1121.1 199.1,1111.9 199.8,1117.4 200.5,1111.8 201.2,1116.2 201.9,1118.2 202.5,1115.9 203.2,1116.3 203.9,1117.9 204.6,1120.4 205.3,1115.8 206.0,1119.0 206.7,1113.9 207.3,1115.2 208.0,1119.8 208.7,1119.3 209.4,1116.2 210.1,1119.7 210.8,1115.7 211.4,1115.9 212.1,1121.2 212.8,1116.0 213.5,1116.6 214.2,1117.7 214.9,1120.0 215.6,1119.5 216.2,1121.0 216.9,1120.8 217.6,1122.7 218.3,1117.9 219.0,1119.4 219.7,1118.9 220.4,1121.8 221.0,1117.8 221.7,1121.2 222.4,1121.5 223.1,1120.1 223.8,1112.0 224.5,1118.9 225.1,1126.1 225.8,1122.4 226.5,1118.0 227.2,1119.1 227.9,1118.6 228.6,1116.6 229.3,1124.5 229.9,1121.7 230.6,1122.1 231.3,1121.8 232.0,1121.0 232.7,1120.2 233.4,1123.0 234.1,1119.3 234.7,1123.9 235.4,1116.7 236.1,1120.4 236.8,1125.4 237.5,1121.0 238.2,1124.4 238.8,1122.7 239.5,1124.0 240.2,1123.8 240.9,1124.6 241.6,1125.9 242.3,1125.4 243.0,1124.7 243.6,1127.4 244.3,1124.3 245.0,1122.4 245.7,1127.6 246.4,1121.6 247.1,1127.8 247.8,1127.2 248.4,1125.0 249.1,1120.8 249.8,1122.9 250.5,1122.9 251.2,1126.9 251.9,1120.7 252.5,1119.0 253.2,1127.8 253.9,1124.0 254.6,1116.7 255.3,1126.0 256.0,1121.4 256.7,1126.4 257.3,1121.1 258.0,1123.0 258.7,1123.7 259.4,1122.8 260.1,1119.3 260.8,1126.0 261.5,1122.5 262.1,1125.2 262.8,1123.4 263.5,1124.9 264.2,1128.1 264.9,1117.5 265.6,1123.8 266.2,1122.0 266.9,1123.2 267.6,1121.4 268.3,1124.9 269.0,1126.2 269.7,1122.4 270.4,1121.3 271.0,1125.0 271.7,1125.9 272.4,1120.9 273.1,1127.8 273.8,1121.2 274.5,1127.7 275.2,1121.2 275.8,1119.6 276.5,1126.2 277.2,1125.4 277.9,1126.3 278.6,1130.7 279.3,1122.1 279.9,1127.1 280.6,1128.4 281.3,1121.8 282.0,1125.7 282.7,1121.2 283.4,1126.4 284.1,1129.3 284.7,1124.2 285.4,1121.7 286.1,1124.4 286.8,1124.4 287.5,1124.9 288.2,1126.8 288.9,1124.5 289.5,1118.7 290.2,1123.7 290.9,1128.2 291.6,1128.7 292.3,1128.8 293.0,1123.7 293.6,1123.3 294.3,1130.4 295.0,1128.3 295.7,1130.7 296.4,1124.9 297.1,1127.6 297.8,1129.0 298.4,1128.4 299.1,1133.2 299.8,1121.7 300.5,1125.6 301.2,1128.4 301.9,1120.6 302.6,1125.8 303.2,1120.3 303.9,1127.8 304.6,1125.6 305.3,1127.0 306.0,1129.6 306.7,1129.2 307.3,1120.5 308.0,1122.8 308.7,1122.8 309.4,1124.1 310.1,1123.1 310.8,1123.7 311.5,1118.5 312.1,1122.5 312.8,1130.5 313.5,1117.8 314.2,1126.2 314.9,1125.4 315.6,1130.4 316.3,1124.3 316.9,1123.0 317.6,1124.9 318.3,1121.5 319.0,1122.0 319.7,1127.6 320.4,1127.5 321.0,1122.2 321.7,1126.0 322.4,1124.6 323.1,1122.2 323.8,1129.1 324.5,1126.6 325.2,1122.4 325.8,1120.4 326.5,1122.1 327.2,1128.6 327.9,1122.7 328.6,1123.6 329.3,1131.5 330.0,1124.0 330.6,1126.9 331.3,1130.9 332.0,1126.5 332.7,1124.7 333.4,1128.5 334.1,1123.5 334.7,1121.4 335.4,1127.5 336.1,1125.4 336.8,1125.9 337.5,1120.9 338.2,1122.4 338.9,1125.2 339.5,1126.4 340.2,1128.8 340.9,1124.0 341.6,1121.5 342.3,1126.1 343.0,1123.8 343.7,1124.9 344.3,1123.1 345.0,1129.0 345.7,1123.7 346.4,1124.0 347.1,1124.3 347.8,1127.2 348.4,1122.3 349.1,1123.6 349.8,1124.4 350.5,1120.1 351.2,1127.0 351.9,1122.6 352.6,1123.4 353.2,1121.4 353.9,1124.5 354.6,1121.1 355.3,1118.7 356.0,1121.4 356.7,1118.4 357.4,1120.0 358.0,1121.4 358.7,1120.9 359.4,1122.3 360.1,1121.4 360.8,1121.8 361.5,1120.2 362.1,1126.5 362.8,1123.9 363.5,1118.4 364.2,1121.1 364.9,1126.5 365.6,1124.5 366.3,1123.8 366.9,1125.2 367.6,1122.6 368.3,1123.8 369.0,1124.3 369.7,1122.3 370.4,1123.3 371.1,1120.2 371.7,1129.1 372.4,1121.7 373.1,1122.1 373.8,1126.4 374.5,1116.4 375.2,1127.0 375.8,1120.8 376.5,1119.6 377.2,1123.4 377.9,1120.6 378.6,1120.9 379.3,1118.4 380.0,1120.4 380.6,1122.8 381.3,1123.3 382.0,1122.7 382.7,1117.0 383.4,1115.9 384.1,1118.3 384.8,1118.5 385.4,1116.0 386.1,1113.4 386.8,1113.8 387.5,1108.4 388.2,1107.0 388.9,1110.2 389.5,1109.2 390.2,1107.9 390.9,1110.5 391.6,1113.2 392.3,1108.0 393.0,1107.0 393.7,1105.8 394.3,1106.8 395.0,1100.7 395.7,1102.5 396.4,1098.8 397.1,1098.9 397.8,1093.9 398.5,1094.5 399.1,1095.7 399.8,1090.4 400.5,1089.4 401.2,1089.9 401.9,1081.6 402.6,1092.4 403.2,1089.1 403.9,1084.8 404.6,1080.7 405.3,1076.3 406.0,1077.6 406.7,1076.0 407.4,1079.1 408.0,1075.6 408.7,1075.3 409.4,1074.4 410.1,1067.7 410.8,1070.3 411.5,1069.3 412.2,1065.0 412.8,1065.2 413.5,1060.0 414.2,1062.0 414.9,1064.7 415.6,1060.3 416.3,1065.3 416.9,1060.9 417.6,1067.9 418.3,1069.0 419.0,1076.3 419.7,1070.0 420.4,1079.0 421.1,1077.2 421.7,1075.5 422.4,1080.7 423.1,1076.6 423.8,1080.0 424.5,1086.6 425.2,1081.5 425.9,1086.7 426.5,1089.1 427.2,1086.7 427.9,1086.7 428.6,1083.7 429.3,1080.6 430.0,1086.6 430.6,1086.6 431.3,1082.4 432.0,1081.9 432.7,1080.6 433.4,1088.5 434.1,1080.1 434.8,1081.9 435.4,1081.9 436.1,1078.5 436.8,1087.0 437.5,1081.7 438.2,1076.1 438.9,1082.0 439.6,1081.1 440.2,1084.0 440.9,1073.2 441.6,1079.5 442.3,1077.4 443.0,1079.6 443.7,1073.4 444.3,1075.1 445.0,1071.9 445.7,1070.9 446.4,1068.3 447.1,1063.7 447.8,1062.6 448.5,1059.1 449.1,1059.1 449.8,1056.0 450.5,1055.7 451.2,1055.1 451.9,1052.6 452.6,1048.7 453.3,1042.6 453.9,1048.5 454.6,1040.7 455.3,1041.2 456.0,1032.2 456.7,1027.9 457.4,1028.3 458.0,1026.0 458.7,1022.4 459.4,1020.0 460.1,1021.0 460.8,1014.9 461.5,1019.1 462.2,1015.5 462.8,1014.1 463.5,1018.8 464.2,1013.8 464.9,1015.4 465.6,1022.3 466.3,1022.8 467.0,1030.2 467.6,1030.7 468.3,1031.4 469.0,1032.2 469.7,1035.1 470.4,1041.7 471.1,1038.5 471.7,1045.4 472.4,1046.7 473.1,1056.6 473.8,1054.8 474.5,1053.2 475.2,1060.2 475.9,1060.3 476.5,1064.4 477.2,1069.0 477.9,1069.6 478.6,1068.5 479.3,1083.6 480.0,1082.9 480.7,1084.4 481.3,1090.0 482.0,1097.6 482.7,1102.6 483.4,1107.8 484.1,1108.1 484.8,1114.4 485.4,1114.4 486.1,1118.6 486.8,1115.4 487.5,1115.2 488.2,1115.5 488.9,1110.8 489.6,1121.4 490.2,1118.2 490.9,1119.9 491.6,1121.1 492.3,1124.9 493.0,1119.1 493.7,1120.3 494.4,1119.0 495.0,1120.8 495.7,1125.9 496.4,1121.4 497.1,1122.7 497.8,1121.2 498.5,1122.9 499.1,1120.0 499.8,1127.8 500.5,1119.5 501.2,1120.1 501.9,1118.8 502.6,1119.7 503.3,1121.7 503.9,1121.4 504.6,1123.4 505.3,1116.8 506.0,1122.4 506.7,1120.1 507.4,1119.4 508.1,1120.7 508.7,1123.2 509.4,1127.1 510.1,1117.2 510.8,1123.7 511.5,1119.3 512.2,1123.0 512.8,1124.6 513.5,1127.0 514.2,1124.9 514.9,1120.8 515.6,1122.6 516.3,1126.3 517.0,1123.2 517.6,1122.1 518.3,1122.3 519.0,1121.9 519.7,1127.2 520.4,1124.4 521.1,1121.1 521.8,1123.0 522.4,1127.7 523.1,1120.4 523.8,1124.0 524.5,1120.2 525.2,1122.8 525.9,1126.9 526.5,1125.4 527.2,1121.1 527.9,1121.8 528.6,1124.3 529.3,1123.4 530.0,1124.3 530.7,1125.6 531.3,1123.3 532.0,1124.7 532.7,1122.2 533.4,1124.8 534.1,1124.3 534.8,1122.4 535.5,1125.6 536.1,1122.1 536.8,1124.9 537.5,1122.8 538.2,1119.6 538.9,1118.5 539.6,1125.5 540.2,1117.7 540.9,1116.4 541.6,1123.2 542.3,1123.0 543.0,1125.9 543.7,1119.1 544.4,1122.4 545.0,1126.2 545.7,1125.0 546.4,1125.4 547.1,1122.4 547.8,1123.8 548.5,1127.1 549.2,1125.2 549.8,1123.2 550.5,1120.6 551.2,1119.7 551.9,1125.2 552.6,1124.3 553.3,1121.5 553.9,1121.0 554.6,1120.6 555.3,1128.7 556.0,1120.8 556.7,1121.3 557.4,1119.9 558.1,1121.2 558.7,1127.5 559.4,1121.2 560.1,1123.5 560.8,1125.6 561.5,1124.1 562.2,1122.9 562.9,1122.3 563.5,1120.6 564.2,1125.6 564.9,1120.9 565.6,1120.9 566.3,1128.6 567.0,1116.8 567.6,1124.7 568.3,1124.1 569.0,1122.5 569.7,1127.9 570.4,1126.5 571.1,1125.0 571.8,1121.1 572.4,1119.7 573.1,1123.6 573.8,1119.3 574.5,1128.0 575.2,1127.0 575.9,1119.5 576.6,1125.0 577.2,1124.6 577.9,1129.3 578.6,1124.0 579.3,1119.4 580.0,1119.8 580.7,1120.6 581.3,1128.4 582.0,1124.7 582.7,1124.0 583.4,1123.4 584.1,1120.9 584.8,1122.2 585.5,1121.2 586.1,1119.1 586.8,1129.1 587.5,1125.3 588.2,1124.5 588.9,1120.0 589.6,1121.5 590.3,1120.8 590.9,1122.3 591.6,1120.1 592.3,1126.9 593.0,1121.9 593.7,1118.8 594.4,1118.6 595.0,1125.0 595.7,1122.8 596.4,1126.0 597.1,1120.4 597.8,1117.5 598.5,1122.4 599.2,1119.9 599.8,1123.7 600.5,1125.9 601.2,1126.2 601.9,1121.9 602.6,1125.0 603.3,1119.4 604.0,1122.9 604.6,1124.6 605.3,1117.8 606.0,1119.2 606.7,1117.9 607.4,1124.5 608.1,1120.6 608.7,1124.0 609.4,1127.0 610.1,1122.0 610.8,1123.0 611.5,1119.3 612.2,1122.2 612.9,1123.2 613.5,1118.6 614.2,1120.1 614.9,1125.2 615.6,1120.4 616.3,1118.7 617.0,1117.5 617.7,1122.5 618.3,1117.6 619.0,1119.7 619.7,1121.5 620.4,1122.4 621.1,1124.2 621.8,1122.0 622.4,1125.4 623.1,1122.4 623.8,1118.0 624.5,1120.9 625.2,1121.7 625.9,1117.8 626.6,1116.7 627.2,1124.0 627.9,1119.9 628.6,1120.5 629.3,1119.3 630.0,1121.5 630.7,1121.1 631.4,1119.2 632.0,1117.6 632.7,1119.7 633.4,1123.8 634.1,1125.0 634.8,1116.8 635.5,1121.1 636.1,1124.0 636.8,1122.0 637.5,1123.8 638.2,1121.8 638.9,1122.2 639.6,1119.4 640.3,1126.1 640.9,1123.5 641.6,1123.5 642.3,1113.6 643.0,1125.1 643.7,1121.7 644.4,1121.0 645.1,1127.6 645.7,1126.6 646.4,1125.1 647.1,1125.2 647.8,1120.6 648.5,1123.0 649.2,1120.3 649.8,1129.8 650.5,1126.7 651.2,1117.6 651.9,1123.7 652.6,1125.5 653.3,1121.1 654.0,1119.7 654.6,1118.3 655.3,1126.4 656.0,1123.2 656.7,1122.7 657.4,1122.2 658.1,1120.4 658.8,1121.2 659.4,1121.5 660.1,1124.5 660.8,1122.4 661.5,1120.8 662.2,1118.5 662.9,1119.5 663.5,1121.1 664.2,1111.4 664.9,1106.4 665.6,1102.3 666.3,1099.3 667.0,1098.6 667.7,1098.8 668.3,1109.0 669.0,1116.4 669.7,1114.7 670.4,1121.9 671.1,1117.1 671.8,1117.7 672.5,1114.7 673.1,1125.5 673.8,1122.8 674.5,1116.9 675.2,1127.1 675.9,1119.1 676.6,1119.5 677.2,1120.7 677.9,1124.9 678.6,1125.0 679.3,1119.9 680.0,1125.2 680.7,1118.9 681.4,1123.0 682.0,1119.9 682.7,1122.8 683.4,1120.1 684.1,1119.2 684.8,1124.3 685.5,1119.9 686.2,1116.6 686.8,1123.4 687.5,1119.3 688.2,1123.5 688.9,1124.6 689.6,1119.1 690.3,1126.2 690.9,1125.5 691.6,1131.5 692.3,1124.8 693.0,1128.9 693.7,1118.6 694.4,1119.1 695.1,1126.3 695.7,1122.5 696.4,1120.7 697.1,1126.9 697.8,1125.7 698.5,1131.4 699.2,1127.2 699.9,1126.9 700.5,1121.9 701.2,1128.7 701.9,1120.5 702.6,1128.6 703.3,1127.0 704.0,1124.7 704.6,1126.5 705.3,1125.2 706.0,1123.5 706.7,1129.3 707.4,1128.0 708.1,1129.4 708.8,1127.6 709.4,1129.7 710.1,1129.5 710.8,1127.6 711.5,1123.1 712.2,1125.7 712.9,1125.7 713.6,1118.3 714.2,1124.9 714.9,1123.1 715.6,1127.1 716.3,1123.5 717.0,1119.6 717.7,1126.2 718.3,1122.5 719.0,1121.3 719.7,1120.6 720.4,1126.1 721.1,1123.7 721.8,1123.1 722.5,1124.2 723.1,1125.6 723.8,1124.9 724.5,1122.6 725.2,1126.5 725.9,1121.5 726.6,1120.9 727.3,1128.9 727.9,1124.9 728.6,1123.0 729.3,1124.8 730.0,1123.1 730.7,1119.8 731.4,1130.4 732.0,1122.1 732.7,1122.8 733.4,1122.5 734.1,1125.4 734.8,1123.5 735.5,1123.3 736.2,1121.9 736.8,1118.5 737.5,1121.7 738.2,1115.3 738.9,1124.0 739.6,1120.0 740.3,1120.9 741.0,1119.2 741.6,1114.3 742.3,1112.7 743.0,1107.4 743.7,1108.5 744.4,1113.1 745.1,1113.9 745.7,1121.6 746.4,1118.8 747.1,1117.9 747.8,1122.1 748.5,1124.1 749.2,1123.3 749.9,1121.8 750.5,1125.0 751.2,1125.1 751.9,1118.1 752.6,1126.4 753.3,1123.6 754.0,1123.2 754.7,1127.1 755.3,1121.1 756.0,1124.9 756.7,1125.0 757.4,1128.5 758.1,1133.7 758.8,1131.0 759.4,1124.8 760.1,1121.6 760.8,1129.0 761.5,1122.8 762.2,1123.3 762.9,1126.4 763.6,1127.3 764.2,1125.1 764.9,1126.4 765.6,1129.8 766.3,1124.4 767.0,1127.4 767.7,1123.6 768.4,1127.7 769.0,1125.7 769.7,1124.5 770.4,1124.0 771.1,1124.1 771.8,1126.8 772.5,1123.2 773.1,1125.8 773.8,1128.7 774.5,1123.3 775.2,1124.9 775.9,1131.4 776.6,1120.3 777.3,1122.0 777.9,1123.9 778.6,1122.6 779.3,1123.9 780.0,1122.0 780.7,1126.2 781.4,1125.6 782.1,1123.6 782.7,1125.7 783.4,1124.0 784.1,1124.2 784.8,1120.8 785.5,1126.4 786.2,1126.9 786.8,1126.5 787.5,1118.0 788.2,1126.7 788.9,1127.6 789.6,1123.5 790.3,1116.9 791.0,1118.7 791.6,1120.4 792.3,1116.1 793.0,1120.4 793.7,1122.6 794.4,1120.4 795.1,1120.6 795.8,1120.3 796.4,1119.6 797.1,1118.8 797.8,1119.1 798.5,1116.9 799.2,1120.4 799.9,1119.6 800.5,1118.7 801.2,1117.7 801.9,1114.1 802.6,1117.7 803.3,1117.5 804.0,1116.6 804.7,1115.0 805.3,1116.7 806.0,1108.1 806.7,1107.1 807.4,1105.9 808.1,1105.8 808.8,1106.7 809.5,1097.8 810.1,1102.5 810.8,1100.0 811.5,1097.8 812.2,1100.0 812.9,1098.1 813.6,1097.3 814.2,1099.5 814.9,1101.8 815.6,1095.7 816.3,1096.1 817.0,1102.8 817.7,1098.6 818.4,1099.9 819.0,1097.1 819.7,1104.2 820.4,1099.0 821.1,1100.7 821.8,1101.3 822.5,1099.5 823.2,1102.2 823.8,1098.8 824.5,1099.1 825.2,1099.3 825.9,1098.4 826.6,1101.0 827.3,1101.9 827.9,1106.1 828.6,1100.8 829.3,1102.3 830.0,1101.0 830.7,1106.5 831.4,1102.3 832.1,1108.4 832.7,1103.5 833.4,1102.1 834.1,1106.8 834.8,1109.1 835.5,1104.9 836.2,1110.2 836.9,1108.0 837.5,1105.0 838.2,1105.3 838.9,1106.0 839.6,1112.5 840.3,1112.2 841.0,1110.8 841.6,1110.5 842.3,1107.4 843.0,1107.5 843.7,1108.4 844.4,1109.9 845.1,1112.8 845.8,1110.5 846.4,1108.3 847.1,1108.3 847.8,1109.6 848.5,1107.6 849.2,1105.6 849.9,1106.2 850.6,1110.3 851.2,1111.5 851.9,1106.9 852.6,1109.4 853.3,1110.9 854.0,1116.4 854.7,1109.2 855.3,1112.2 856.0,1110.7 856.7,1110.7 857.4,1108.5 858.1,1105.5 858.8,1108.7 859.5,1110.2 860.1,1110.9 860.8,1111.9 861.5,1110.4 862.2,1115.7 862.9,1111.7 863.6,1110.2 864.3,1107.8 864.9,1112.3 865.6,1108.8 866.3,1113.8 867.0,1112.8 867.7,1111.2 868.4,1114.5 869.0,1110.7 869.7,1115.3 870.4,1111.5 871.1,1111.0 871.8,1111.9 872.5,1113.7 873.2,1114.1 873.8,1112.0 874.5,1115.9 875.2,1119.0 875.9,1112.5 876.6,1115.8 877.3,1115.0 878.0,1118.6 878.6,1112.4 879.3,1114.3 880.0,1111.0 880.7,1111.2 881.4,1111.4 882.1,1114.2 882.7,1118.8 883.4,1114.2 884.1,1113.2 884.8,1115.5 885.5,1115.3 886.2,1115.3 886.9,1113.5 887.5,1112.1 888.2,1112.5 888.9,1115.6 889.6,1114.1 890.3,1115.3 891.0,1116.3 891.7,1114.5 892.3,1108.3 893.0,1109.6 893.7,1108.3 894.4,1117.5 895.1,1109.9 895.8,1116.5 896.4,1116.6 897.1,1117.1 897.8,1111.4 898.5,1106.0 899.2,1110.7 899.9,1108.8 900.6,1106.7 901.2,1102.6 901.9,1110.4 902.6,1107.6 903.3,1106.5 904.0,1103.8 904.7,1106.4 905.4,1106.6 906.0,1108.8 906.7,1108.3 907.4,1106.6 908.1,1102.9 908.8,1106.3 909.5,1106.4 910.1,1106.3 910.8,1112.2 911.5,1103.5 912.2,1107.0 912.9,1104.1 913.6,1101.8 914.3,1103.6 914.9,1108.0 915.6,1105.9 916.3,1108.4 917.0,1114.1 917.7,1113.8 918.4,1110.9 919.1,1108.6 919.7,1106.5 920.4,1105.3 921.1,1112.0 921.8,1106.0 922.5,1103.8 923.2,1106.9 923.8,1104.8 924.5,1108.1 925.2,1103.2 925.9,1105.8 926.6,1103.2 927.3,1105.6 928.0,1101.9 928.6,1092.0 929.3,1092.6 930.0,1078.0 930.7,1071.5 931.4,1053.4 932.1,1045.2 932.8,1036.1 933.4,1040.8 934.1,1055.3 934.8,1070.7 935.5,1075.9 936.2,1089.8 936.9,1097.2 937.5,1099.2 938.2,1101.2 938.9,1102.0 939.6,1105.1 940.3,1100.7 941.0,1106.7 941.7,1104.7 942.3,1104.8 943.0,1104.1 943.7,1105.5 944.4,1108.8 945.1,1109.1 945.8,1109.5 946.5,1110.2 947.1,1110.1 947.8,1108.8 948.5,1108.1 949.2,1106.6 949.9,1112.3 950.6,1110.0 951.2,1112.3 951.9,1108.2 952.6,1112.1 953.3,1112.8 954.0,1111.6 954.7,1109.7 955.4,1119.3 956.0,1116.0 956.7,1109.0 957.4,1114.7 958.1,1118.6 958.8,1116.6 959.5,1115.9 960.2,1115.8 960.8,1113.1 961.5,1117.4 962.2,1119.6 962.9,1113.5 963.6,1117.9 964.3,1120.3 964.9,1113.0 965.6,1115.3 966.3,1118.6 967.0,1113.5 967.7,1119.3 968.4,1120.5 969.1,1117.5 969.7,1116.4 970.4,1118.2 971.1,1122.6 971.8,1117.1 972.5,1120.4 973.2,1120.1 973.9,1120.4 974.5,1123.3 975.2,1121.7 975.9,1117.0 976.6,1120.2 977.3,1114.2 978.0,1119.8 978.6,1124.6 979.3,1118.7 980.0,1114.5 980.7,1124.6 981.4,1117.3 982.1,1119.6 982.8,1117.2 983.4,1118.2 984.1,1119.3 984.8,1121.0 985.5,1118.1 986.2,1121.3 986.9,1124.4 987.6,1119.4 988.2,1119.8 988.9,1119.1 989.6,1120.7 990.3,1118.2 991.0,1121.4 991.7,1122.5 992.3,1119.3 993.0,1116.4 993.7,1117.8 994.4,1118.5 995.1,1119.9 995.8,1120.9 996.5,1119.5 997.1,1120.9 997.8,1117.3 998.5,1119.3 999.2,1119.0 999.9,1118.1 1000.6,1119.3 1001.3,1121.3 1001.9,1117.4 1002.6,1119.8 1003.3,1119.2 1004.0,1123.0 1004.7,1123.4 1005.4,1118.0 1006.0,1122.8 1006.7,1121.4 1007.4,1117.8 1008.1,1120.5 1008.8,1117.9 1009.5,1118.9 1010.2,1118.4 1010.8,1121.9 1011.5,1119.9 1012.2,1117.8 1012.9,1121.6 1013.6,1123.1 1014.3,1118.0 1015.0,1117.0 1015.6,1119.2 1016.3,1121.4 1017.0,1124.6 1017.7,1120.8 1018.4,1116.1 1019.1,1118.6 1019.7,1122.1 1020.4,1126.2 1021.1,1122.7 1021.8,1120.1 1022.5,1117.3 1023.2,1122.3 1023.9,1122.8 1024.5,1121.0 1025.2,1120.5 1025.9,1123.6 1026.6,1121.1 1027.3,1124.5 1028.0,1122.0 1028.7,1121.6 1029.3,1121.4 1030.0,1119.7 1030.7,1126.7 1031.4,1118.1 1032.1,1121.5 1032.8,1120.0 1033.4,1121.9 1034.1,1123.2 1034.8,1124.1 1035.5,1119.0 1036.2,1121.1 1036.9,1124.4 1037.6,1121.8 1038.2,1124.2 1038.9,1123.1 1039.6,1115.7 1040.3,1125.4 1041.0,1123.8 1041.7,1119.4 1042.4,1118.0 1043.0,1128.1 1043.7,1127.1 1044.4,1124.2 1045.1,1119.4 1045.8,1121.9 1046.5,1121.2 1047.1,1122.2 1047.8,1124.0 1048.5,1124.1 1049.2,1124.4 1049.9,1116.8 1050.6,1125.0 1051.3,1120.8 1051.9,1124.5 1052.6,1126.1 1053.3,1126.6 1054.0,1123.0 1054.7,1125.2 1055.4,1119.8 1056.1,1124.1 1056.7,1121.2 1057.4,1120.1 1058.1,1127.3 1058.8,1123.5 1059.5,1123.9 1060.2,1124.6 1060.8,1119.4 1061.5,1126.3 1062.2,1121.4 1062.9,1125.7 1063.6,1119.4 1064.3,1120.6 1065.0,1124.6 1065.6,1126.4 1066.3,1127.2 1067.0,1124.5 1067.7,1123.6 1068.4,1123.5 1069.1,1122.0 1069.8,1119.3 1070.4,1125.3 1071.1,1123.9 1071.8,1124.7 1072.5,1123.2 1073.2,1128.4 1073.9,1122.3 1074.5,1125.9 1075.2,1122.7 1075.9,1118.8 1076.6,1125.3 1077.3,1123.8 1078.0,1120.4 1078.7,1118.5 1079.3,1126.0 1080.0,1123.8 1080.7,1126.0 1081.4,1119.8 1082.1,1129.8 1082.8,1126.2 1083.5,1120.9 1084.1,1124.5 1084.8,1122.3 1085.5,1126.2 1086.2,1124.8 1086.9,1119.3 1087.6,1122.7 1088.2,1122.8 1088.9,1120.3 1089.6,1119.3 1090.3,1123.8 1091.0,1122.0 1091.7,1123.7 1092.4,1123.6 1093.0,1121.9 1093.7,1118.7 1094.4,1123.3 1095.1,1121.7 1095.8,1123.6 1096.5,1118.3 1097.2,1118.0 1097.8,1124.9 1098.5,1124.7 1099.2,1115.6 1099.9,1123.1 1100.6,1124.5 1101.3,1121.1 1101.9,1118.3 1102.6,1118.9 1103.3,1120.3 1104.0,1120.2 1104.7,1122.3 1105.4,1114.5 1106.1,1123.2 1106.7,1118.8 1107.4,1119.3 1108.1,1124.8 1108.8,1117.0 1109.5,1121.6 1110.2,1122.1 1110.9,1120.2 1111.5,1117.6 1112.2,1123.2 1112.9,1126.3 1113.6,1121.8 1114.3,1121.6 1115.0,1119.7 1115.6,1121.1 1116.3,1122.5 1117.0,1124.2 1117.7,1118.4 1118.4,1124.0 1119.1,1121.2 1119.8,1123.7 1120.4,1124.4 1121.1,1122.5 1121.8,1123.0 1122.5,1122.2 1123.2,1115.7 1123.9,1127.8 1124.6,1120.6 1125.2,1121.9 1125.9,1120.8 1126.6,1124.5 1127.3,1125.7 1128.0,1121.7 1128.7,1119.8 1129.3,1122.6 1130.0,1122.4 1130.7,1125.3 1131.4,1120.5 1132.1,1122.6 1132.8,1123.4 1133.5,1118.0 1134.1,1117.0 1134.8,1119.6 1135.5,1121.1 1136.2,1116.3 1136.9,1120.5 1137.6,1116.9 1138.3,1117.0 1138.9,1117.8 1139.6,1118.0 1140.3,1118.3 1141.0,1113.4 1141.7,1114.3 1142.4,1116.0 1143.0,1114.6 1143.7,1119.2 1144.4,1117.5 1145.1,1118.7 1145.8,1119.3 1146.5,1113.8 1147.2,1120.9 1147.8,1126.2 1148.5,1118.6 1149.2,1126.2 1149.9,1119.7 1150.6,1122.7 1151.3,1119.7 1152.0,1123.4 1152.6,1123.9 1153.3,1117.7 1154.0,1123.5 1154.7,1128.1 1155.4,1121.4 1156.1,1122.0 1156.7,1125.3 1157.4,1124.5 1158.1,1125.2 1158.8,1126.5 1159.5,1128.9 1160.2,1128.8 1160.9,1124.8 1161.5,1129.0 1162.2,1126.0 1162.9,1124.2 1163.6,1125.5 1164.3,1122.0 1165.0,1125.6 1165.7,1121.6 1166.3,1129.5 1167.0,1130.8 1167.7,1127.4 1168.4,1129.4 1169.1,1127.1 1169.8,1127.8 1170.4,1128.0 1171.1,1129.3 1171.8,1128.6 1172.5,1125.1 1173.2,1123.3 1173.9,1128.7 1174.6,1125.1 1175.2,1131.2 1175.9,1123.6 1176.6,1125.2 1177.3,1127.8 1178.0,1124.7 1178.7,1127.9 1179.4,1123.2 1180.0,1128.9 1180.7,1125.6 1181.4,1127.3 1182.1,1128.5 1182.8,1128.6 1183.5,1127.2 1184.1,1131.1 1184.8,1125.6 1185.5,1131.5 1186.2,1122.4 1186.9,1124.4 1187.6,1124.0 1188.3,1126.2 1188.9,1128.5 1189.6,1128.5 1190.3,1127.2 1191.0,1125.6 1191.7,1121.4 1192.4,1124.8 1193.1,1127.4 1193.7,1128.5 1194.4,1127.7 1195.1,1131.1 1195.8,1131.3 1196.5,1131.8 1197.2,1127.2 1197.8,1125.5 1198.5,1125.7 1199.2,1133.7 1199.9,1127.3 1200.6,1125.1 1201.3,1123.4 1202.0,1129.5 1202.6,1123.4 1203.3,1126.1 1204.0,1129.5 1204.7,1122.5 1205.4,1124.6 1206.1,1123.9 1206.8,1128.8 1207.4,1130.8 1208.1,1129.3 1208.8,1121.7 1209.5,1129.4 1210.2,1126.4 1210.9,1125.0 1211.5,1128.1 1212.2,1126.0 1212.9,1123.8 1213.6,1129.7 1214.3,1126.0 1215.0,1126.0 1215.7,1123.2 1216.3,1128.0 1217.0,1128.1 1217.7,1124.8 1218.4,1124.6 1219.1,1127.4 1219.8,1129.1 1220.5,1120.7 1221.1,1128.4 1221.8,1121.7 1222.5,1128.9 1223.2,1127.6 1223.9,1127.6 1224.6,1122.2 1225.2,1127.0 1225.9,1125.4 1226.6,1120.5 1227.3,1128.4 1228.0,1127.5 1228.7,1125.6 1229.4,1124.2 1230.0,1124.9 1230.7,1124.9 1231.4,1130.5 1232.1,1129.2 1232.8,1127.8 1233.5,1124.9 1234.2,1131.3 1234.8,1133.5 1235.5,1126.9 1236.2,1126.9 1236.9,1126.7 1237.6,1123.7 1238.3,1124.1 1238.9,1121.0 1239.6,1125.8 1240.3,1123.4 1241.0,1119.5 1241.7,1128.1 1242.4,1125.1 1243.1,1127.6 1243.7,1125.0 1244.4,1127.6 1245.1,1124.6 1245.8,1125.8 1246.5,1123.2 1247.2,1120.6 1247.9,1120.3 1248.5,1124.3 1249.2,1123.8 1249.9,1126.7 1250.6,1129.5 1251.3,1123.7 1252.0,1122.1 1252.6,1129.0 1253.3,1128.7 1254.0,1129.7 1254.7,1126.8 1255.4,1123.7 1256.1,1127.0 1256.8,1124.5 1257.4,1127.3 1258.1,1123.5 1258.8,1129.3 1259.5,1124.6 1260.2,1128.4 1260.9,1125.3 1261.6,1131.4 1262.2,1125.5 1262.9,1126.5 1263.6,1126.8 1264.3,1130.7 1265.0,1125.4 1265.7,1129.0 1266.3,1128.5 1267.0,1129.8 1267.7,1126.4 1268.4,1127.9 1269.1,1130.2 1269.8,1128.9 1270.5,1128.6 1271.1,1126.7 1271.8,1129.2 1272.5,1127.6 1273.2,1127.2 1273.9,1124.7 1274.6,1127.8 1275.3,1132.4 1275.9,1124.2 1276.6,1125.4 1277.3,1127.6 1278.0,1127.0 1278.7,1125.3 1279.4,1124.9 1280.0,1125.9 1280.7,1124.4 1281.4,1120.1 1282.1,1126.4 1282.8,1123.9 1283.5,1120.3 1284.2,1121.2 1284.8,1118.8 1285.5,1127.0 1286.2,1121.5 1286.9,1122.7 1287.6,1122.0 1288.3,1119.3 1289.0,1121.3 1289.6,1121.3 1290.3,1124.0 1291.0,1122.2 1291.7,1120.0 1292.4,1117.5 1293.1,1117.5 1293.7,1119.5 1294.4,1118.3 1295.1,1121.7 1295.8,1120.2 1296.5,1122.8 1297.2,1118.7 1297.9,1122.8 1298.5,1114.6 1299.2,1118.7 1299.9,1119.9 1300.6,1119.5 1301.3,1121.5 1302.0,1119.6 1302.7,1118.3 1303.3,1114.7 1304.0,1115.8 1304.7,1117.3 1305.4,1115.6 1306.1,1120.4 1306.8,1119.5 1307.4,1124.0 1308.1,1115.4 1308.8,1117.3 1309.5,1118.2 1310.2,1119.5 1310.9,1123.0 1311.6,1123.6 1312.2,1118.0 1312.9,1117.9 1313.6,1118.9 1314.3,1118.9 1315.0,1118.6 1315.7,1118.5 1316.4,1118.4 1317.0,1115.6 1317.7,1118.3 1318.4,1124.1 1319.1,1114.2 1319.8,1117.8 1320.5,1119.4 1321.1,1122.8 1321.8,1113.1 1322.5,1118.9 1323.2,1117.2 1323.9,1121.4 1324.6,1116.4 1325.3,1120.0 1325.9,1118.9 1326.6,1118.3 1327.3,1117.1 1328.0,1116.8 1328.7,1121.2 1329.4,1124.9 1330.1,1122.3 1330.7,1130.3 1331.4,1122.2 1332.1,1129.0 1332.8,1122.9 1333.5,1128.8 1334.2,1130.0 1334.8,1122.3 1335.5,1131.5 1336.2,1131.7 1336.9,1130.2 1337.6,1129.9 1338.3,1129.5 1339.0,1125.7 1339.6,1130.6 1340.3,1127.6 1341.0,1129.5 1341.7,1127.9 1342.4,1124.9 1343.1,1127.4 1343.8,1127.6 1344.4,1131.7 1345.1,1127.2 1345.8,1124.4 1346.5,1127.9 1347.2,1128.9 1347.9,1129.4 1348.5,1133.1 1349.2,1127.0 1349.9,1128.8 1350.6,1129.3 1351.3,1126.4 1352.0,1125.9 1352.7,1128.7 1353.3,1130.5 1354.0,1124.0 1354.7,1133.4 1355.4,1125.2 1356.1,1133.2 1356.8,1126.6 1357.5,1125.2 1358.1,1131.2 1358.8,1130.6 1359.5,1127.8 1360.2,1128.9 1360.9,1125.4 1361.6,1122.3 1362.2,1130.3 1362.9,1123.3 1363.6,1130.8 1364.3,1130.9 1365.0,1126.8 1365.7,1132.8 1366.4,1125.9 1367.0,1127.9 1367.7,1128.5 1368.4,1126.3 1369.1,1126.9 1369.8,1129.6 1370.5,1128.0 1371.2,1127.9 1371.8,1124.9 1372.5,1130.4 1373.2,1127.3 1373.9,1128.4 1374.6,1131.5 1375.3,1126.0 1375.9,1128.0 1376.6,1127.7 1377.3,1126.1 1378.0,1131.7 1378.7,1129.1 1379.4,1132.1 1380.1,1129.4 1380.7,1125.5 1381.4,1132.2 1382.1,1132.0 1382.8,1127.0 1383.5,1130.9 1384.2,1128.9 1384.9,1122.0 1385.5,1125.6 1386.2,1128.6 1386.9,1129.4 1387.6,1129.7 1388.3,1127.7 1389.0,1128.6 1389.6,1127.9 1390.3,1127.1 1391.0,1130.0 1391.7,1127.3 1392.4,1127.6 1393.1,1125.7 1393.8,1121.6 1394.4,1122.9 1395.1,1126.0 1395.8,1123.2 1396.5,1128.8 1397.2,1117.1 1397.9,1120.4 1398.6,1120.7 1399.2,1117.6 1399.9,1112.4 1400.6,1112.2 1401.3,1110.9 1402.0,1104.5 1402.7,1101.9 1403.3,1099.2 1404.0,1094.6 1404.7,1096.4 1405.4,1094.7 1406.1,1091.9 1406.8,1092.5 1407.5,1092.5 1408.1,1091.5 1408.8,1086.3 1409.5,1089.4 1410.2,1082.2 1410.9,1089.8 1411.6,1080.3 1412.3,1092.5 1412.9,1093.8 1413.6,1087.7 1414.3,1093.2 1415.0,1098.5 1415.7,1100.7 1416.4,1095.6 1417.0,1103.7 1417.7,1106.8 1418.4,1107.5 1419.1,1104.2 1419.8,1110.7 1420.5,1113.1 1421.2,1115.5 1421.8,1116.1 1422.5,1118.5 1423.2,1116.8 1423.9,1117.7 1424.6,1126.8 1425.3,1125.1 1426.0,1121.5 1426.6,1125.3 1427.3,1128.0 1428.0,1132.0 1428.7,1126.9 1429.4,1131.2 1430.1,1132.5 1430.7,1131.8 1431.4,1133.2 1432.1,1128.6 1432.8,1131.7 1433.5,1126.8 1434.2,1129.8 1434.9,1131.9 1435.5,1131.0 1436.2,1128.7 1436.9,1136.6 1437.6,1130.1 1438.3,1131.0 1439.0,1123.1 1439.7,1129.3 1440.3,1128.4 1441.0,1125.6 1441.7,1127.1 1442.4,1126.7 1443.1,1128.1 1443.8,1125.9 1444.4,1128.6 1445.1,1125.4 1445.8,1125.9 1446.5,1120.9 1447.2,1128.5 1447.9,1125.8 1448.6,1123.2 1449.2,1119.8 1449.9,1120.1 1450.6,1123.9 1451.3,1121.1 1452.0,1122.1 1452.7,1119.5 1453.4,1116.3 1454.0,1120.8 1454.7,1113.6 1455.4,1122.8 1456.1,1121.0 1456.8,1115.0 1457.5,1118.7 1458.1,1115.4 1458.8,1109.4 1459.5,1111.6 1460.2,1113.0 1460.9,1111.5 1461.6,1106.6 1462.3,1108.8 1462.9,1112.3 1463.6,1112.3 1464.3,1112.3 1465.0,1108.2 1465.7,1107.1 1466.4,1109.7 1467.1,1107.4 1467.7,1109.2 1468.4,1110.9 1469.1,1109.7 1469.8,1109.4 1470.5,1103.5 1471.2,1104.1 1471.8,1105.6 1472.5,1103.9 1473.2,1110.4 1473.9,1101.6 1474.6,1109.3 1475.3,1103.0 1476.0,1108.7 1476.6,1103.5 1477.3,1110.3 1478.0,1107.2 1478.7,1107.7 1479.4,1100.2 1480.1,1115.0 1480.8,1104.5 1481.4,1100.6 1482.1,1110.8 1482.8,1105.6 1483.5,1114.8 1484.2,1108.2 1484.9,1112.1 1485.5,1109.4 1486.2,1113.9 1486.9,1112.5 1487.6,1113.1 1488.3,1111.4 1489.0,1114.6 1489.7,1115.1 1490.3,1124.4 1491.0,1121.6 1491.7,1122.2 1492.4,1125.7 1493.1,1127.4 1493.8,1121.4 1494.5,1123.3 1495.1,1122.4 1495.8,1128.2 1496.5,1127.6 1497.2,1124.4 1497.9,1126.2 1498.6,1131.3 1499.2,1131.5 1499.9,1130.2 1500.6,1127.6 1501.3,1133.7 1502.0,1132.6 1502.7,1131.1 1503.4,1130.4 1504.0,1127.9 1504.7,1133.3 1505.4,1135.7 1506.1,1131.2 1506.8,1132.1 1507.5,1130.5 1508.2,1131.3 1508.8,1135.0 1509.5,1130.7 1510.2,1137.2 1510.9,1137.4 1511.6,1131.2 1512.3,1138.5 1512.9,1129.9 1513.6,1138.3 1514.3,1133.2 1515.0,1127.6 1515.7,1134.2 1516.4,1136.0 1517.1,1130.9 1517.7,1134.6 1518.4,1130.5 1519.1,1135.2 1519.8,1135.1 1520.5,1138.1 1521.2,1129.0 1521.9,1132.6 1522.5,1131.1 1523.2,1137.3 1523.9,1132.1 1524.6,1140.3 1525.3,1132.7 1526.0,1136.6 1526.6,1134.9 1527.3,1134.3 1528.0,1129.7 1528.7,1137.4 1529.4,1133.7 1530.1,1135.8 1530.8,1135.8 1531.4,1137.5 1532.1,1132.3 1532.8,1135.6 1533.5,1127.2 1534.2,1135.3 1534.9,1133.0 1535.6,1135.6 1536.2,1134.5 1536.9,1131.6 1537.6,1131.7 1538.3,1133.0 1539.0,1132.1 1539.7,1131.3 1540.3,1131.8 1541.0,1138.0 1541.7,1135.2 1542.4,1140.8 1543.1,1131.6 1543.8,1128.6 1544.5,1133.4 1545.1,1133.3 1545.8,1135.9 1546.5,1134.2 1547.2,1134.1 1547.9,1133.2 1548.6,1129.3 1549.3,1136.5 1549.9,1133.7 1550.6,1134.9 1551.3,1131.8 1552.0,1131.5 1552.7,1129.7 1553.4,1132.0 1554.0,1128.9 1554.7,1134.5 1555.4,1140.0 1556.1,1136.3 1556.8,1130.6 1557.5,1137.0 1558.2,1139.9 1558.8,1137.7 1559.5,1131.7 1560.2,1134.8 1560.9,1134.7 1561.6,1135.4 1562.3,1133.9 1563.0,1137.4 1563.6,1134.0 1564.3,1133.6 1565.0,1143.3 1565.7,1134.6 1566.4,1134.6 1567.1,1128.7 1567.7,1131.0 1568.4,1137.3 1569.1,1135.8 1569.8,1132.2 1570.5,1132.1 1571.2,1132.3 1571.9,1131.3 1572.5,1127.8 1573.2,1132.0 1573.9,1129.3 1574.6,1131.5 1575.3,1134.5 1576.0,1128.6 1576.7,1131.9 1577.3,1132.0 1578.0,1134.1 1578.7,1131.0 1579.4,1130.0 1580.1,1129.8 1580.8,1127.9 1581.4,1130.1 1582.1,1128.1 1582.8,1128.4 1583.5,1130.3 1584.2,1128.7 1584.9,1135.4 1585.6,1129.6 1586.2,1134.2 1586.9,1133.9 1587.6,1124.0 1588.3,1134.1 1589.0,1128.9 1589.7,1128.8 1590.4,1129.0 1591.0,1134.5 1591.7,1129.8 1592.4,1128.8 1593.1,1133.6 1593.8,1129.1 1594.5,1130.3 1595.1,1134.0 1595.8,1131.0 1596.5,1134.0 1597.2,1130.8 1597.9,1135.3 1598.6,1133.4 1599.3,1136.5 1599.9,1133.0 1600.6,1127.9 1601.3,1136.5 1602.0,1136.6 1602.7,1132.1 1603.4,1131.5 1604.1,1134.5 1604.7,1136.7 1605.4,1131.7 1606.1,1137.1 1606.8,1133.7 1607.5,1137.9 1608.2,1132.8 1608.8,1131.8 1609.5,1139.7 1610.2,1127.9 1610.9,1132.9 1611.6,1127.5 1612.3,1133.9 1613.0,1132.7 1613.6,1134.4 1614.3,1129.9 1615.0,1134.6 1615.7,1130.5 1616.4,1131.6 1617.1,1133.6 1617.8,1132.8 1618.4,1131.5 1619.1,1136.5 1619.8,1132.0 1620.5,1132.2 1621.2,1132.5 1621.9,1132.7 1622.5,1135.5 1623.2,1128.4 1623.9,1130.7 1624.6,1133.8 1625.3,1127.0 1626.0,1128.0 1626.7,1124.7 1627.3,1129.5 1628.0,1127.1 1628.7,1125.1 1629.4,1118.8 1630.1,1122.7 1630.8,1122.0 1631.5,1121.0 1632.1,1115.1 1632.8,1120.8 1633.5,1117.3 1634.2,1113.3 1634.9,1114.4 1635.6,1119.5 1636.2,1117.5 1636.9,1120.6 1637.6,1121.3 1638.3,1122.6 1639.0,1117.8 1639.7,1123.2 1640.4,1127.1 1641.0,1124.1 1641.7,1125.4 1642.4,1127.5 1643.1,1128.1 1643.8,1132.2 1644.5,1133.4 1645.2,1130.3 1645.8,1124.5 1646.5,1131.2 1647.2,1132.2 1647.9,1134.0 1648.6,1137.8 1649.3,1129.7 1649.9,1129.8 1650.6,1132.6 1651.3,1130.0 1652.0,1130.6 1652.7,1134.4 1653.4,1132.9 1654.1,1133.2 1654.7,1130.6 1655.4,1131.8 1656.1,1132.8 1656.8,1134.5 1657.5,1130.2 1658.2,1136.8 1658.9,1132.0 1659.5,1133.9 1660.2,1126.5 1660.9,1129.0 1661.6,1131.5 1662.3,1132.1 1663.0,1132.8 1663.6,1131.8 1664.3,1124.1 1665.0,1132.3 1665.7,1130.0 1666.4,1132.5 1667.1,1129.5 1667.8,1129.8 1668.4,1126.7 1669.1,1131.0 1669.8,1133.5 1670.5,1126.2 1671.2,1125.9 1671.9,1128.0 1672.6,1131.3 1673.2,1130.2 1673.9,1128.5 1674.6,1133.8 1675.3,1127.3 1676.0,1130.0 1676.7,1130.6 1677.3,1126.0 1678.0,1133.3 1678.7,1123.6 1679.4,1123.6"/>
<polyline stroke="#ff0000" stroke-width="12.5" points="172.4,948.4 173.1,948.4 173.8,949.4 174.5,948.8 175.1,947.8 175.8,949.1 176.5,948.5 177.2,948.7 177.9,948.7 178.6,948.5 179.3,949.4 179.9,949.6 180.6,949.2 181.3,949.0 182.0,948.6 182.7,949.2 183.4,948.3 184.0,949.1 184.7,949.1 185.4,950.1 186.1,950.0 186.8,949.7 187.5,949.3 188.2,949.9 188.8,949.8 189.5,948.9 190.2,949.7 190.9,948.9 191.6,949.5 192.3,948.9 193.0,949.6 193.6,949.8 194.3,948.3 195.0,949.0 195.7,949.0 196.4,947.9 197.1,950.1 197.7,949.3 198.4,948.3 199.1,949.2 199.8,949.4 200.5,948.7 201.2,948.2 201.9,949.3 202.5,949.3 203.2,949.4 203.9,948.5 204.6,948.5 205.3,947.6 206.0,948.7 206.7,949.5 207.3,948.5 208.0,949.0 208.7,948.3 209.4,947.3 210.1,949.2 210.8,949.4 211.4,948.9 212.1,947.5 212.8,949.5 213.5,948.7 214.2,948.8 214.9,949.2 215.6,947.8 216.2,948.9 216.9,948.8 217.6,948.6 218.3,949.4 219.0,949.9 219.7,948.5 220.4,948.1 221.0,949.3 221.7,949.4 222.4,949.0 223.1,948.7 223.8,949.8 224.5,948.8 225.1,948.2 225.8,948.7 226.5,950.4 227.2,949.7 227.9,949.0 228.6,948.8 229.3,949.5 229.9,948.9 230.6,949.1 231.3,949.7 232.0,950.0 232.7,948.8 233.4,949.0 234.1,947.6 234.7,949.0 235.4,949.0 236.1,948.4 236.8,949.2 237.5,947.6 238.2,949.3 238.8,948.9 239.5,947.6 240.2,949.2 240.9,948.8 241.6,949.4 242.3,949.0 243.0,949.7 243.6,949.0 244.3,948.8 245.0,948.3 245.7,947.9 246.4,948.0 247.1,948.1 247.8,949.5 248.4,948.4 249.1,948.6 249.8,949.3 250.5,948.8 251.2,947.6 251.9,949.7 252.5,949.1 253.2,948.3 253.9,948.5 254.6,948.4 255.3,947.1 256.0,947.7 256.7,948.5 257.3,946.7 258.0,947.3 258.7,948.2 259.4,948.9 260.1,947.3 260.8,946.9 261.5,947.3 262.1,946.9 262.8,947.4 263.5,947.3 264.2,945.3 264.9,946.5 265.6,944.6 266.2,945.1 266.9,944.5 267.6,943.3 268.3,943.7 269.0,943.4 269.7,942.6 270.4,941.2 271.0,942.6 271.7,941.6 272.4,941.9 273.1,941.3 273.8,940.6 274.5,939.9 275.2,941.0 275.8,942.5 276.5,944.9 277.2,945.7 277.9,946.8 278.6,947.3 279.3,947.9 279.9,948.4 280.6,949.2 281.3,949.6 282.0,949.5 282.7,949.7 283.4,949.5 284.1,948.7 284.7,949.7 285.4,949.5 286.1,949.4 286.8,949.4 287.5,948.8 288.2,949.0 288.9,949.7 289.5,949.2 290.2,949.6 290.9,949.2 291.6,949.1 292.3,948.9 293.0,949.0 293.6,948.3 294.3,948.1 295.0,948.6 295.7,948.5 296.4,949.2 297.1,947.4 297.8,948.2 298.4,947.7 299.1,948.3 299.8,949.0 300.5,948.8 301.2,949.4 301.9,948.7 302.6,948.4 303.2,949.3 303.9,948.6 304.6,948.5 305.3,948.9 306.0,948.8 306.7,948.2 307.3,949.3 308.0,950.4 308.7,948.3 309.4,948.4 310.1,950.0 310.8,948.3 311.5,948.8 312.1,949.0 312.8,948.1 313.5,948.3 314.2,948.4 314.9,948.3 315.6,948.0 316.3,948.8 316.9,947.8 317.6,949.0 318.3,948.4 319.0,948.4 319.7,947.4 320.4,949.6 321.0,947.5 321.7,948.6 322.4,948.7 323.1,948.0 323.8,947.0 324.5,949.1 325.2,949.0 325.8,947.7 326.5,949.6 327.2,949.7 327.9,949.1 328.6,950.2 329.3,948.5 330.0,948.5 330.6,948.7 331.3,948.6 332.0,948.0 332.7,947.8 333.4,948.5 334.1,948.5 334.7,949.0 335.4,949.5 336.1,949.0 336.8,949.0 337.5,949.1 338.2,948.1 338.9,947.9 339.5,948.2 340.2,948.7 340.9,948.2 341.6,949.1 342.3,948.2 343.0,947.1 343.7,946.9 344.3,948.1 345.0,948.3 345.7,948.9 346.4,946.9 347.1,948.4 347.8,948.5 348.4,948.0 349.1,947.7 349.8,948.1 350.5,947.0 351.2,947.4 351.9,949.0 352.6,947.6 353.2,947.3 353.9,946.6 354.6,947.0 355.3,948.0 356.0,946.8 356.7,946.2 357.4,946.4 358.0,946.4 358.7,946.8 359.4,945.9 360.1,944.9 360.8,944.6 361.5,946.2 362.1,946.0 362.8,944.1 363.5,945.5 364.2,943.6 364.9,943.4 365.6,942.4 366.3,942.5 366.9,940.3 367.6,941.3 368.3,939.8 369.0,938.8 369.7,935.3 370.4,934.3 371.1,932.4 371.7,927.5 372.4,925.6 373.1,920.8 373.8,914.8 374.5,910.6 375.2,904.7 375.8,899.0 376.5,894.1 377.2,891.8 377.9,888.0 378.6,896.3 379.3,908.0 380.0,921.1 380.6,929.7 381.3,934.7 382.0,938.2 382.7,940.5 383.4,942.8 384.1,944.7 384.8,944.3 385.4,943.2 386.1,943.8 386.8,943.6 387.5,941.3 388.2,940.9 388.9,939.9 389.5,942.2 390.2,945.5 390.9,946.1 391.6,946.9 392.3,948.3 393.0,948.0 393.7,949.0 394.3,947.7 395.0,948.6 395.7,949.1 396.4,948.2 397.1,948.3 397.8,947.9 398.5,949.1 399.1,948.5 399.8,949.2 400.5,948.3 401.2,948.9 401.9,949.0 402.6,949.7 403.2,949.0 403.9,949.5 404.6,948.3 405.3,948.2 406.0,950.9 406.7,948.7 407.4,949.3 408.0,948.1 408.7,949.1 409.4,949.0 410.1,948.5 410.8,949.0 411.5,948.3 412.2,949.2 412.8,949.3 413.5,947.8 414.2,948.4 414.9,948.4 415.6,948.6 416.3,948.8 416.9,949.3 417.6,949.2 418.3,950.0 419.0,948.3 419.7,948.4 420.4,949.3 421.1,948.0 421.7,949.5 422.4,948.2 423.1,948.4 423.8,948.0 424.5,949.7 425.2,948.4 425.9,949.2 426.5,949.2 427.2,950.4 427.9,949.4 428.6,948.8 429.3,949.1 430.0,948.9 430.6,948.2 431.3,948.9 432.0,947.8 432.7,948.9 433.4,948.7 434.1,948.7 434.8,949.2 435.4,949.3 436.1,949.3 436.8,949.8 437.5,948.2 438.2,948.7 438.9,948.4 439.6,949.7 440.2,948.3 440.9,949.1 441.6,949.4 442.3,947.8 443.0,948.7 443.7,950.0 444.3,947.8 445.0,948.7 445.7,949.2 446.4,948.3 447.1,949.0 447.8,949.8 448.5,948.5 449.1,949.7 449.8,949.1 450.5,947.3 451.2,949.1 451.9,948.9 452.6,947.5 453.3,948.5 453.9,948.6 454.6,949.0 455.3,948.8 456.0,948.8 456.7,947.9 457.4,948.5 458.0,948.3 458.7,949.5 459.4,948.4 460.1,947.8 460.8,948.5 461.5,949.5 462.2,949.3 462.8,948.9 463.5,948.7 464.2,950.4 464.9,949.2 465.6,949.1 466.3,949.1 467.0,949.5 467.6,947.4 468.3,948.7 469.0,947.8 469.7,948.6 470.4,947.8 471.1,948.3 471.7,946.9 472.4,947.1 473.1,948.0 473.8,947.9 474.5,947.4 475.2,946.1 475.9,947.1 476.5,948.1 477.2,947.3 477.9,947.2 478.6,946.6 479.3,947.3 480.0,946.3 480.7,946.8 481.3,947.2 482.0,946.7 482.7,947.2 483.4,946.3 484.1,946.9 484.8,945.4 485.4,946.5 486.1,945.7 486.8,946.2 487.5,947.1 488.2,945.2 488.9,944.8 489.6,945.9 490.2,944.2 490.9,945.9 491.6,944.2 492.3,943.4 493.0,943.0 493.7,942.9 494.4,944.0 495.0,941.4 495.7,941.2 496.4,938.8 497.1,938.4 497.8,937.0 498.5,937.5 499.1,937.7 499.8,934.7 500.5,934.4 501.2,933.5 501.9,932.4 502.6,930.8 503.3,929.8 503.9,929.6 504.6,930.7 505.3,930.0 506.0,930.6 506.7,931.3 507.4,933.0 508.1,932.6 508.7,930.8 509.4,930.8 510.1,931.0 510.8,928.6 511.5,927.3 512.2,924.2 512.8,922.6 513.5,919.2 514.2,917.1 514.9,914.9 515.6,913.1 516.3,912.5 517.0,910.6 517.6,909.8 518.3,910.7 519.0,914.0 519.7,918.2 520.4,923.0 521.1,926.0 521.8,929.6 522.4,934.0 523.1,936.5 523.8,937.2 524.5,938.2 525.2,938.9 525.9,938.3 526.5,938.7 527.2,937.3 527.9,935.7 528.6,936.2 529.3,933.0 530.0,930.2 530.7,926.5 531.3,922.4 532.0,917.8 532.7,913.3 533.4,907.1 534.1,903.6 534.8,898.1 535.5,894.1 536.1,891.0 536.8,888.7 537.5,889.8 538.2,897.3 538.9,905.9 539.6,913.6 540.2,918.5 540.9,922.2 541.6,923.8 542.3,922.8 543.0,919.3 543.7,916.8 544.4,908.3 545.0,900.6 545.7,891.1 546.4,878.8 547.1,865.2 547.8,851.0 548.5,838.8 549.2,827.3 549.8,820.5 550.5,816.2 551.2,824.8 551.9,844.8 552.6,868.5 553.3,891.1 553.9,908.9 554.6,920.8 555.3,930.2 556.0,933.8 556.7,938.4 557.4,940.0 558.1,942.5 558.7,942.5 559.4,943.2 560.1,944.9 560.8,943.5 561.5,945.2 562.2,944.0 562.9,944.9 563.5,946.2 564.2,947.1 564.9,947.0 565.6,947.6 566.3,947.3 567.0,947.6 567.6,946.2 568.3,946.5 569.0,947.2 569.7,947.4 570.4,948.1 571.1,948.3 571.8,947.7 572.4,947.8 573.1,947.5 573.8,947.3 574.5,946.8 575.2,948.1 575.9,946.0 576.6,948.3 577.2,946.9 577.9,945.5 578.6,947.5 579.3,946.9 580.0,947.5 580.7,947.6 581.3,947.5 582.0,947.0 582.7,947.9 583.4,948.4 584.1,947.7 584.8,948.2 585.5,947.1 586.1,948.1 586.8,947.3 587.5,946.7 588.2,947.0 588.9,946.6 589.6,946.7 590.3,946.6 590.9,947.2 591.6,946.6 592.3,945.6 593.0,946.2 593.7,944.5 594.4,946.3 595.0,946.7 595.7,945.5 596.4,943.8 597.1,943.8 597.8,945.0 598.5,942.6 599.2,941.8 599.8,940.7 600.5,939.5 601.2,939.0 601.9,937.6 602.6,937.1 603.3,933.2 604.0,930.2 604.6,927.4 605.3,924.9 606.0,920.3 606.7,919.5 607.4,917.2 608.1,917.1 608.7,918.3 609.4,923.0 610.1,927.6 610.8,931.4 611.5,936.7 612.2,939.1 612.9,940.3 613.5,942.9 614.2,942.1 614.9,943.4 615.6,944.8 616.3,944.6 617.0,945.9 617.7,947.0 618.3,945.8 619.0,946.5 619.7,945.5 620.4,945.9 621.1,946.0 621.8,946.8 622.4,946.8 623.1,945.8 623.8,946.3 624.5,946.2 625.2,945.3 625.9,944.9 626.6,945.2 627.2,944.6 627.9,946.0 628.6,944.3 629.3,944.1 630.0,945.5 630.7,943.9 631.4,943.1 632.0,943.3 632.7,942.3 633.4,943.8 634.1,944.7 634.8,944.4 635.5,945.4 636.1,945.5 636.8,945.5 637.5,946.7 638.2,946.0 638.9,945.9 639.6,946.7 640.3,947.1 640.9,946.4 641.6,945.9 642.3,947.0 643.0,946.3 643.7,946.4 644.4,945.8 645.1,947.4 645.7,948.1 646.4,946.2 647.1,947.1 647.8,947.6 648.5,947.8 649.2,947.5 649.8,946.7 650.5,946.5 651.2,946.2 651.9,947.7 652.6,946.5 653.3,946.6 654.0,947.7 654.6,946.0 655.3,947.3 656.0,945.3 656.7,946.2 657.4,946.1 658.1,945.3 658.8,945.7 659.4,946.5 660.1,946.2 660.8,944.8 661.5,946.0 662.2,945.7 662.9,944.9 663.5,943.9 664.2,946.4 664.9,945.0 665.6,945.9 666.3,945.4 667.0,945.5 667.7,946.0 668.3,946.0 669.0,948.4 669.7,946.1 670.4,946.2 671.1,947.2 671.8,946.7 672.5,946.7 673.1,946.7 673.8,945.9 674.5,945.9 675.2,948.2 675.9,946.2 676.6,946.2 677.2,945.2 677.9,945.8 678.6,944.9 679.3,944.4 680.0,943.9 680.7,944.1 681.4,943.9 682.0,943.9 682.7,943.8 683.4,942.7 684.1,943.8 684.8,943.6 685.5,943.8 686.2,943.3 686.8,943.4 687.5,945.3 688.2,943.7 688.9,943.4 689.6,944.2 690.3,942.1 690.9,943.3 691.6,943.1 692.3,941.3 693.0,942.8 693.7,943.7 694.4,942.6 695.1,942.2 695.7,942.2 696.4,941.3 697.1,941.9 697.8,940.2 698.5,941.4 699.2,941.2 699.9,940.0 700.5,940.3 701.2,940.5 701.9,939.7 702.6,938.9 703.3,938.6 704.0,938.7 704.6,938.0 705.3,937.2 706.0,936.8 706.7,937.0 707.4,936.2 708.1,935.9 708.8,934.6 709.4,933.1 710.1,932.5 710.8,930.9 711.5,931.0 712.2,931.3 712.9,929.7 713.6,929.5 714.2,927.4 714.9,926.7 715.6,926.2 716.3,926.2 717.0,926.6 717.7,925.3 718.3,926.7 719.0,924.8 719.7,924.0 720.4,923.3 721.1,921.5 721.8,921.5 722.5,919.0 723.1,917.0 723.8,914.6 724.5,913.3 725.2,909.6 725.9,907.8 726.6,905.9 727.3,903.9 727.9,903.5 728.6,902.5 729.3,903.3 730.0,905.6 730.7,909.9 731.4,913.4 732.0,917.4 732.7,920.8 733.4,923.3 734.1,925.7 734.8,928.5 735.5,928.5 736.2,931.1 736.8,932.4 737.5,933.0 738.2,933.4 738.9,932.1 739.6,933.0 740.3,934.3 741.0,933.2 741.6,933.1 742.3,932.6 743.0,933.0 743.7,932.6 744.4,932.5 745.1,931.9 745.7,932.3 746.4,932.1 747.1,931.9 747.8,932.0 748.5,931.2 749.2,931.9 749.9,930.7 750.5,931.0 751.2,930.8 751.9,930.0 752.6,928.6 753.3,929.3 754.0,927.8 754.7,927.5 755.3,927.0 756.0,925.2 756.7,924.4 757.4,923.5 758.1,922.2 758.8,920.8 759.4,918.7 760.1,918.3 760.8,917.1 761.5,915.9 762.2,914.6 762.9,911.9 763.6,910.4 764.2,909.2 764.9,904.6 765.6,900.7 766.3,896.8 767.0,892.7 767.7,886.9 768.4,882.3 769.0,879.6 769.7,874.7 770.4,872.8 771.1,872.5 771.8,874.0 772.5,874.0 773.1,879.3 773.8,885.4 774.5,889.1 775.2,894.4 775.9,898.5 776.6,900.1 777.3,902.0 777.9,902.5 778.6,903.4 779.3,903.2 780.0,902.6 780.7,901.8 781.4,900.9 782.1,898.9 782.7,899.5 783.4,896.9 784.1,894.9 784.8,891.8 785.5,887.0 786.2,880.6 786.8,873.8 787.5,867.8 788.2,856.8 788.9,849.3 789.6,842.2 790.3,838.0 791.0,834.6 791.6,838.2 792.3,845.7 793.0,857.8 793.7,870.4 794.4,881.0 795.1,891.8 795.8,898.1 796.4,904.5 797.1,909.6 797.8,912.3 798.5,913.1 799.2,915.2 799.9,915.3 800.5,915.1 801.2,914.7 801.9,914.5 802.6,913.4 803.3,912.0 804.0,908.7 804.7,906.3 805.3,906.3 806.0,904.1 806.7,902.0 807.4,900.2 808.1,900.6 808.8,900.1 809.5,901.9 810.1,902.5 810.8,905.9 811.5,907.8 812.2,907.1 812.9,909.9 813.6,910.2 814.2,909.4 814.9,909.3 815.6,907.5 816.3,907.0 817.0,905.9 817.7,903.8 818.4,902.7 819.0,903.0 819.7,901.9 820.4,903.3 821.1,904.0 821.8,907.3 822.5,911.0 823.2,912.7 823.8,917.2 824.5,919.8 825.2,922.5 825.9,924.6 826.6,927.0 827.3,927.5 827.9,928.8 828.6,929.2 829.3,929.0 830.0,927.2 830.7,927.2 831.4,926.3 832.1,924.4 832.7,921.3 833.4,918.0 834.1,914.2 834.8,908.6 835.5,901.9 836.2,895.4 836.9,886.9 837.5,875.6 838.2,868.0 838.9,855.4 839.6,843.4 840.3,832.7 841.0,823.2 841.6,814.4 842.3,810.9 843.0,809.7 843.7,814.3 844.4,825.4 845.1,841.9 845.8,855.3 846.4,872.3 847.1,885.5 847.8,897.1 848.5,907.3 849.2,913.8 849.9,919.9 850.6,924.0 851.2,925.2 851.9,928.9 852.6,930.6 853.3,930.2 854.0,930.6 854.7,931.3 855.3,931.9 856.0,931.2 856.7,931.8 857.4,930.8 858.1,930.7 858.8,929.0 859.5,928.5 860.1,929.4 860.8,929.3 861.5,928.4 862.2,928.4 862.9,929.5 863.6,930.6 864.3,932.1 864.9,933.5 865.6,934.6 866.3,935.8 867.0,936.2 867.7,937.2 868.4,939.6 869.0,939.5 869.7,940.2 870.4,940.3 871.1,942.0 871.8,941.6 872.5,941.3 873.2,942.9 873.8,941.6 874.5,942.8 875.2,943.0 875.9,942.3 876.6,944.1 877.3,943.7 878.0,943.7 878.6,944.3 879.3,944.1 880.0,943.9 880.7,944.1 881.4,943.6 882.1,944.7 882.7,943.8 883.4,943.6 884.1,944.2 884.8,943.6 885.5,942.3 886.2,944.3 886.9,944.2 887.5,942.8 888.2,943.4 888.9,943.3 889.6,942.4 890.3,941.2 891.0,941.8 891.7,940.4 892.3,942.3 893.0,942.2 893.7,942.8 894.4,942.5 895.1,941.6 895.8,942.4 896.4,942.4 897.1,943.0 897.8,943.0 898.5,942.7 899.2,941.8 899.9,943.7 900.6,943.3 901.2,944.4 901.9,944.1 902.6,944.3 903.3,944.2 904.0,945.0 904.7,944.9 905.4,944.3 906.0,944.6 906.7,944.1 907.4,944.0 908.1,946.0 908.8,944.5 909.5,943.8 910.1,944.4 910.8,944.8 911.5,944.9 912.2,945.0 912.9,944.7 913.6,945.7 914.3,944.5 914.9,944.5 915.6,945.3 916.3,944.6 917.0,944.4 917.7,945.5 918.4,945.2 919.1,945.6 919.7,945.5 920.4,944.7 921.1,945.5 921.8,944.3 922.5,945.0 923.2,945.8 923.8,945.1 924.5,945.4 925.2,944.7 925.9,945.4 926.6,945.6 927.3,945.5 928.0,945.6 928.6,945.9 929.3,945.7 930.0,946.6 930.7,945.9 931.4,946.2 932.1,944.8 932.8,945.2 933.4,945.8 934.1,944.7 934.8,944.0 935.5,944.4 936.2,944.9 936.9,944.2 937.5,944.2 938.2,943.9 938.9,943.9 939.6,943.2 940.3,943.4 941.0,942.5 941.7,943.8 942.3,944.3 943.0,943.6 943.7,943.4 944.4,942.7 945.1,943.3 945.8,942.0 946.5,942.4 947.1,940.8 947.8,940.9 948.5,940.4 949.2,939.9 949.9,939.2 950.6,938.4 951.2,937.1 951.9,936.7 952.6,937.7 953.3,934.5 954.0,934.3 954.7,932.5 955.4,930.6 956.0,930.2 956.7,930.1 957.4,929.7 958.1,929.2 958.8,929.5 959.5,931.2 960.2,932.3 960.8,933.3 961.5,935.1 962.2,935.7 962.9,938.3 963.6,938.9 964.3,940.6 964.9,938.9 965.6,940.4 966.3,941.9 967.0,942.7 967.7,942.7 968.4,942.1 969.1,943.3 969.7,944.2 970.4,941.7 971.1,944.5 971.8,943.6 972.5,943.9 973.2,943.3 973.9,943.6 974.5,943.9 975.2,945.4 975.9,943.9 976.6,943.5 977.3,943.5 978.0,943.5 978.6,944.8 979.3,942.7 980.0,943.5 980.7,944.0 981.4,944.0 982.1,943.8 982.8,943.5 983.4,944.3 984.1,943.2 984.8,942.4 985.5,941.1 986.2,942.0 986.9,943.5 987.6,943.2 988.2,941.2 988.9,941.5 989.6,940.9 990.3,942.0 991.0,942.4 991.7,940.5 992.3,943.3 993.0,941.7 993.7,939.9 994.4,941.5 995.1,942.0 995.8,941.4 996.5,942.4 997.1,942.1 997.8,942.4 998.5,942.2 999.2,943.1 999.9,944.5 1000.6,944.2 1001.3,943.7 1001.9,943.9 1002.6,943.9 1003.3,945.2 1004.0,944.3 1004.7,945.1 1005.4,945.2 1006.0,945.3 1006.7,945.4 1007.4,946.0 1008.1,945.3 1008.8,945.2 1009.5,945.5 1010.2,945.5 1010.8,945.6 1011.5,947.1 1012.2,946.1 1012.9,945.9 1013.6,946.4 1014.3,946.2 1015.0,946.8 1015.6,947.1 1016.3,947.1 1017.0,945.7 1017.7,945.6 1018.4,946.6 1019.1,945.8 1019.7,946.3 1020.4,947.3 1021.1,945.8 1021.8,946.6 1022.5,946.3 1023.2,945.9 1023.9,947.0 1024.5,946.5 1025.2,946.3 1025.9,947.2 1026.6,945.9 1027.3,946.6 1028.0,945.0 1028.7,946.9 1029.3,947.2 1030.0,946.2 1030.7,945.7 1031.4,946.4 1032.1,947.0 1032.8,947.0 1033.4,945.8 1034.1,946.3 1034.8,945.9 1035.5,945.8 1036.2,947.4 1036.9,945.6 1037.6,945.5 1038.2,945.8 1038.9,945.2 1039.6,946.4 1040.3,945.4 1041.0,946.8 1041.7,946.1 1042.4,946.1 1043.0,947.0 1043.7,945.5 1044.4,945.9 1045.1,947.1 1045.8,947.2 1046.5,946.8 1047.1,948.3 1047.8,946.6 1048.5,947.9 1049.2,944.5 1049.9,946.5 1050.6,947.5 1051.3,946.5 1051.9,946.6 1052.6,945.7 1053.3,947.1 1054.0,946.4 1054.7,946.5 1055.4,946.9 1056.1,946.6 1056.7,946.4 1057.4,946.6 1058.1,947.1 1058.8,946.6 1059.5,946.3 1060.2,947.2 1060.8,946.8 1061.5,947.0 1062.2,947.2 1062.9,946.9 1063.6,947.7 1064.3,946.7 1065.0,945.9 1065.6,946.3 1066.3,947.0 1067.0,947.3 1067.7,947.6 1068.4,947.1 1069.1,946.2 1069.8,946.8 1070.4,947.4 1071.1,946.7 1071.8,947.2 1072.5,946.2 1073.2,946.3 1073.9,947.3 1074.5,946.6 1075.2,947.0 1075.9,947.8 1076.6,947.0 1077.3,947.8 1078.0,947.5 1078.7,947.1 1079.3,947.2 1080.0,947.7 1080.7,948.0 1081.4,947.1 1082.1,949.0 1082.8,946.7 1083.5,948.7 1084.1,947.5 1084.8,947.4 1085.5,947.5 1086.2,947.1 1086.9,947.3 1087.6,947.3 1088.2,947.9 1088.9,947.0 1089.6,946.8 1090.3,946.5 1091.0,946.2 1091.7,948.0 1092.4,946.1 1093.0,947.4 1093.7,946.9 1094.4,946.2 1095.1,945.4 1095.8,946.2 1096.5,946.2 1097.2,944.3 1097.8,945.7 1098.5,945.0 1099.2,944.8 1099.9,944.7 1100.6,944.3 1101.3,944.0 1101.9,943.6 1102.6,942.8 1103.3,942.9 1104.0,942.4 1104.7,942.2 1105.4,942.6 1106.1,943.2 1106.7,941.2 1107.4,942.8 1108.1,942.9 1108.8,943.4 1109.5,943.5 1110.2,944.5 1110.9,943.9 1111.5,943.8 1112.2,943.9 1112.9,944.8 1113.6,945.5 1114.3,944.8 1115.0,945.8 1115.6,946.2 1116.3,946.0 1117.0,945.1 1117.7,945.0 1118.4,946.6 1119.1,945.4 1119.8,946.6 1120.4,946.9 1121.1,946.6 1121.8,946.0 1122.5,947.0 1123.2,946.7 1123.9,946.7 1124.6,946.2 1125.2,946.6 1125.9,946.3 1126.6,946.5 1127.3,946.9 1128.0,946.3 1128.7,947.9 1129.3,947.6 1130.0,945.2 1130.7,946.9 1131.4,947.7 1132.1,945.8 1132.8,946.9 1133.5,949.1 1134.1,947.6 1134.8,947.6 1135.5,948.3 1136.2,948.4 1136.9,947.9 1137.6,947.8 1138.3,947.6 1138.9,948.3 1139.6,947.4 1140.3,949.2 1141.0,949.1 1141.7,949.3 1142.4,947.5 1143.0,948.3 1143.7,947.7 1144.4,948.1 1145.1,948.7 1145.8,947.7 1146.5,948.2 1147.2,949.6 1147.8,947.7 1148.5,947.4 1149.2,947.6 1149.9,947.7 1150.6,949.0 1151.3,948.7 1152.0,946.3 1152.6,947.2 1153.3,948.1 1154.0,947.3 1154.7,948.3 1155.4,948.5 1156.1,947.9 1156.7,948.0 1157.4,948.5 1158.1,948.1 1158.8,947.9 1159.5,947.7 1160.2,947.8 1160.9,947.2 1161.5,947.7 1162.2,948.3 1162.9,948.0 1163.6,947.0 1164.3,947.8 1165.0,948.4 1165.7,948.6 1166.3,948.1 1167.0,947.3 1167.7,947.8 1168.4,947.6 1169.1,946.2 1169.8,947.1 1170.4,948.0 1171.1,946.7 1171.8,948.0 1172.5,947.4 1173.2,946.8 1173.9,946.1 1174.6,946.9 1175.2,947.7 1175.9,946.2 1176.6,945.6 1177.3,947.4 1178.0,946.2 1178.7,945.8 1179.4,946.4 1180.0,944.4 1180.7,945.4 1181.4,944.5 1182.1,943.9 1182.8,944.0 1183.5,943.5 1184.1,942.7 1184.8,942.0 1185.5,940.7 1186.2,941.0 1186.9,939.5 1187.6,938.3 1188.3,941.0 1188.9,939.5 1189.6,939.9 1190.3,940.1 1191.0,940.1 1191.7,940.3 1192.4,941.8 1193.1,942.6 1193.7,944.7 1194.4,944.4 1195.1,945.8 1195.8,945.9 1196.5,945.9 1197.2,945.8 1197.8,945.4 1198.5,944.6 1199.2,948.1 1199.9,947.1 1200.6,945.5 1201.3,946.1 1202.0,945.6 1202.6,945.4 1203.3,945.8 1204.0,946.8 1204.7,943.9 1205.4,945.3 1206.1,944.0 1206.8,945.2 1207.4,944.9 1208.1,946.4 1208.8,944.9 1209.5,945.4 1210.2,946.3 1210.9,947.8 1211.5,947.2 1212.2,948.4 1212.9,949.3 1213.6,948.8 1214.3,948.6 1215.0,948.3 1215.7,948.3 1216.3,949.9 1217.0,949.4 1217.7,949.8 1218.4,949.5 1219.1,950.0 1219.8,950.5 1220.5,949.0 1221.1,949.9 1221.8,949.0 1222.5,950.5 1223.2,948.7 1223.9,949.8 1224.6,949.7 1225.2,948.8 1225.9,949.7 1226.6,948.4 1227.3,949.9 1228.0,949.5 1228.7,949.3 1229.4,949.8 1230.0,949.6 1230.7,949.4 1231.4,950.4 1232.1,949.6 1232.8,951.3 1233.5,950.7 1234.2,950.5 1234.8,951.2 1235.5,949.9 1236.2,950.3 1236.9,951.0 1237.6,950.3 1238.3,950.5 1238.9,949.3 1239.6,949.7 1240.3,949.5 1241.0,948.9 1241.7,950.9 1242.4,950.1 1243.1,949.3 1243.7,951.3 1244.4,951.2 1245.1,950.1 1245.8,950.2 1246.5,950.5 1247.2,950.2 1247.9,950.1 1248.5,950.9 1249.2,950.0 1249.9,949.9 1250.6,949.0 1251.3,949.4 1252.0,950.4 1252.6,949.9 1253.3,950.9 1254.0,948.8 1254.7,950.8 1255.4,949.7 1256.1,949.8 1256.8,950.7 1257.4,949.2 1258.1,949.2 1258.8,949.6 1259.5,950.3 1260.2,951.0 1260.9,949.2 1261.6,950.8 1262.2,949.5 1262.9,949.5 1263.6,948.8 1264.3,948.9 1265.0,949.5 1265.7,948.7 1266.3,948.3 1267.0,948.9 1267.7,949.0 1268.4,947.8 1269.1,947.5 1269.8,946.5 1270.5,947.1 1271.1,946.5 1271.8,946.8 1272.5,947.6 1273.2,945.9 1273.9,947.1 1274.6,946.1 1275.3,946.7 1275.9,947.7 1276.6,948.3 1277.3,946.6 1278.0,947.7 1278.7,947.6 1279.4,947.9 1280.0,947.8 1280.7,949.3 1281.4,949.2 1282.1,948.9 1282.8,948.2 1283.5,949.1 1284.2,949.9 1284.8,949.5 1285.5,949.4 1286.2,948.7 1286.9,949.3 1287.6,949.6 1288.3,949.4 1289.0,949.9 1289.6,949.2 1290.3,949.3 1291.0,949.0 1291.7,949.2 1292.4,949.5 1293.1,949.0 1293.7,949.8 1294.4,949.8 1295.1,949.6 1295.8,950.1 1296.5,950.4 1297.2,949.7 1297.9,947.6 1298.5,948.9 1299.2,950.3 1299.9,948.6 1300.6,947.8 1301.3,947.4 1302.0,947.6 1302.7,949.0 1303.3,946.9 1304.0,946.4 1304.7,947.7 1305.4,947.5 1306.1,948.3 1306.8,946.8 1307.4,947.3 1308.1,947.9 1308.8,947.8 1309.5,948.7 1310.2,948.1 1310.9,949.0 1311.6,948.9 1312.2,948.8 1312.9,948.9 1313.6,949.9 1314.3,948.9 1315.0,950.3 1315.7,950.8 1316.4,949.0 1317.0,951.7 1317.7,950.4 1318.4,948.7 1319.1,949.6 1319.8,949.7 1320.5,950.2 1321.1,948.7 1321.8,950.6 1322.5,949.6 1323.2,951.0 1323.9,950.8 1324.6,950.1 1325.3,950.1 1325.9,950.1 1326.6,949.6 1327.3,949.2 1328.0,950.0 1328.7,950.8 1329.4,950.3 1330.1,949.8 1330.7,951.7 1331.4,950.8 1332.1,950.4 1332.8,950.5 1333.5,951.5 1334.2,951.5 1334.8,949.9 1335.5,951.5 1336.2,951.0 1336.9,950.8 1337.6,951.1 1338.3,950.3 1339.0,951.1 1339.6,951.2 1340.3,951.2 1341.0,951.2 1341.7,952.6 1342.4,950.1 1343.1,949.8 1343.8,951.4 1344.4,950.4 1345.1,949.7 1345.8,950.0 1346.5,951.6 1347.2,951.2 1347.9,949.7 1348.5,950.6 1349.2,950.8 1349.9,951.2 1350.6,950.9 1351.3,949.7 1352.0,950.1 1352.7,950.0 1353.3,952.1 1354.0,951.2 1354.7,950.3 1355.4,951.5 1356.1,950.9 1356.8,950.8 1357.5,951.2 1358.1,950.7 1358.8,951.0 1359.5,950.1 1360.2,951.3 1360.9,950.2 1361.6,950.4 1362.2,952.0 1362.9,951.0 1363.6,949.8 1364.3,950.6 1365.0,951.4 1365.7,951.9 1366.4,949.8 1367.0,950.5 1367.7,950.6 1368.4,951.2 1369.1,952.3 1369.8,950.2 1370.5,950.3 1371.2,949.9 1371.8,951.6 1372.5,950.5 1373.2,950.9 1373.9,950.7 1374.6,951.8 1375.3,951.0 1375.9,951.0 1376.6,952.1 1377.3,952.6 1378.0,950.8 1378.7,951.1 1379.4,950.4 1380.1,951.7 1380.7,951.4 1381.4,951.5 1382.1,951.4 1382.8,950.5 1383.5,951.6 1384.2,950.6 1384.9,951.6 1385.5,952.1 1386.2,951.7 1386.9,951.7 1387.6,952.2 1388.3,950.2 1389.0,950.6 1389.6,951.5 1390.3,951.8 1391.0,952.7 1391.7,952.6 1392.4,950.5 1393.1,950.9 1393.8,951.4 1394.4,950.9 1395.1,951.3 1395.8,951.4 1396.5,950.6 1397.2,950.3 1397.9,951.6 1398.6,950.8 1399.2,951.9 1399.9,950.6 1400.6,950.0 1401.3,950.7 1402.0,951.4 1402.7,950.3 1403.3,950.5 1404.0,950.0 1404.7,950.0 1405.4,949.6 1406.1,950.6 1406.8,949.3 1407.5,949.5 1408.1,949.5 1408.8,950.7 1409.5,950.7 1410.2,950.8 1410.9,951.5 1411.6,951.6 1412.3,952.0 1412.9,950.5 1413.6,951.9 1414.3,951.1 1415.0,950.2 1415.7,949.6 1416.4,950.9 1417.0,950.5 1417.7,950.1 1418.4,950.4 1419.1,949.9 1419.8,951.4 1420.5,949.2 1421.2,951.1 1421.8,951.1 1422.5,950.1 1423.2,949.6 1423.9,951.5 1424.6,950.4 1425.3,951.1 1426.0,948.9 1426.6,950.4 1427.3,950.6 1428.0,950.1 1428.7,950.5 1429.4,951.3 1430.1,950.7 1430.7,950.5 1431.4,950.8 1432.1,950.3 1432.8,949.3 1433.5,950.3 1434.2,950.8 1434.9,950.8 1435.5,950.1 1436.2,950.6 1436.9,949.3 1437.6,949.1 1438.3,950.8 1439.0,950.0 1439.7,950.1 1440.3,949.7 1441.0,949.4 1441.7,949.4 1442.4,951.0 1443.1,950.6 1443.8,950.2 1444.4,950.7 1445.1,950.6 1445.8,949.9 1446.5,950.0 1447.2,950.2 1447.9,950.5 1448.6,950.5 1449.2,950.9 1449.9,951.4 1450.6,950.1 1451.3,950.0 1452.0,951.0 1452.7,950.4 1453.4,950.3 1454.0,950.8 1454.7,951.6 1455.4,951.5 1456.1,951.0 1456.8,950.8 1457.5,950.5 1458.1,950.9 1458.8,951.0 1459.5,951.2 1460.2,950.1 1460.9,950.7 1461.6,950.8 1462.3,951.0 1462.9,950.2 1463.6,950.4 1464.3,950.7 1465.0,950.5 1465.7,950.8 1466.4,950.3 1467.1,950.4 1467.7,950.1 1468.4,950.4 1469.1,951.2 1469.8,951.1 1470.5,950.8 1471.2,950.0 1471.8,950.2 1472.5,949.8 1473.2,950.9 1473.9,949.4 1474.6,950.1 1475.3,950.1 1476.0,950.2 1476.6,949.8 1477.3,950.9 1478.0,949.7 1478.7,949.6 1479.4,949.7 1480.1,949.1 1480.8,950.6 1481.4,948.7 1482.1,950.5 1482.8,949.4 1483.5,949.9 1484.2,950.4 1484.9,951.4 1485.5,949.9 1486.2,949.4 1486.9,950.1 1487.6,951.2 1488.3,950.1 1489.0,949.4 1489.7,950.1 1490.3,949.9 1491.0,950.8 1491.7,950.1 1492.4,950.1 1493.1,950.6 1493.8,950.0 1494.5,950.5 1495.1,950.4 1495.8,949.7 1496.5,949.7 1497.2,949.3 1497.9,949.6 1498.6,951.2 1499.2,949.8 1499.9,949.7 1500.6,951.0 1501.3,950.3 1502.0,951.1 1502.7,950.2 1503.4,950.6 1504.0,949.6 1504.7,950.9 1505.4,949.9 1506.1,950.1 1506.8,950.8 1507.5,951.1 1508.2,950.1 1508.8,949.9 1509.5,951.1 1510.2,951.2 1510.9,949.7 1511.6,950.9 1512.3,949.1 1512.9,950.2 1513.6,951.0 1514.3,951.1 1515.0,950.2 1515.7,950.1 1516.4,949.8 1517.1,949.9 1517.7,950.9 1518.4,949.7 1519.1,950.7 1519.8,950.1 1520.5,950.4 1521.2,948.9 1521.9,950.5 1522.5,949.8 1523.2,949.7 1523.9,950.2 1524.6,950.7 1525.3,950.4 1526.0,949.9 1526.6,949.6 1527.3,951.6 1528.0,949.0 1528.7,949.1 1529.4,951.3 1530.1,950.0 1530.8,950.6 1531.4,949.3 1532.1,949.5 1532.8,949.9 1533.5,949.7 1534.2,948.5 1534.9,950.2 1535.6,948.6 1536.2,949.5 1536.9,948.6 1537.6,948.0 1538.3,948.0 1539.0,948.7 1539.7,947.5 1540.3,947.9 1541.0,946.5 1541.7,948.2 1542.4,947.0 1543.1,947.8 1543.8,948.0 1544.5,947.3 1545.1,947.5 1545.8,947.7 1546.5,948.3 1547.2,947.9 1547.9,946.8 1548.6,947.6 1549.3,948.8 1549.9,948.8 1550.6,948.3 1551.3,948.2 1552.0,948.6 1552.7,948.6 1553.4,948.9 1554.0,949.9 1554.7,948.2 1555.4,949.1 1556.1,949.8 1556.8,949.1 1557.5,949.3 1558.2,949.9 1558.8,950.1 1559.5,948.6 1560.2,950.0 1560.9,950.6 1561.6,950.3 1562.3,950.5 1563.0,949.6 1563.6,950.1 1564.3,950.6 1565.0,950.3 1565.7,950.3 1566.4,949.5 1567.1,950.0 1567.7,950.1 1568.4,949.8 1569.1,950.3 1569.8,950.4 1570.5,950.1 1571.2,950.7 1571.9,950.8 1572.5,950.2 1573.2,951.1 1573.9,949.6 1574.6,950.3 1575.3,949.9 1576.0,950.8 1576.7,948.2 1577.3,949.8 1578.0,948.6 1578.7,949.5 1579.4,950.3 1580.1,950.7 1580.8,949.1 1581.4,949.0 1582.1,950.3 1582.8,949.6 1583.5,949.7 1584.2,949.3 1584.9,951.5 1585.6,949.9 1586.2,949.0 1586.9,950.0 1587.6,950.3 1588.3,949.6 1589.0,949.0 1589.7,948.8 1590.4,950.7 1591.0,949.7 1591.7,949.5 1592.4,948.9 1593.1,949.6 1593.8,951.1 1594.5,950.4 1595.1,950.3 1595.8,950.4 1596.5,949.5 1597.2,950.2 1597.9,950.4 1598.6,949.7 1599.3,950.4 1599.9,950.1 1600.6,949.7 1601.3,949.8 1602.0,948.3 1602.7,949.5 1603.4,950.4 1604.1,949.9 1604.7,951.1 1605.4,950.7 1606.1,950.2 1606.8,951.0 1607.5,949.6 1608.2,950.3 1608.8,949.7 1609.5,949.8 1610.2,950.7 1610.9,950.8 1611.6,949.9 1612.3,950.3 1613.0,949.3 1613.6,950.6 1614.3,950.6 1615.0,951.1 1615.7,949.6 1616.4,950.5 1617.1,950.5 1617.8,951.0 1618.4,950.7 1619.1,950.0 1619.8,949.7 1620.5,950.7 1621.2,950.0 1621.9,950.6 1622.5,951.0 1623.2,949.8 1623.9,950.7 1624.6,951.0 1625.3,950.3 1626.0,950.3 1626.7,949.6 1627.3,950.5 1628.0,950.3 1628.7,950.4 1629.4,951.2 1630.1,950.4 1630.8,950.3 1631.5,950.8 1632.1,951.3 1632.8,950.6 1633.5,951.0 1634.2,951.7 1634.9,951.1 1635.6,950.4 1636.2,951.3 1636.9,950.7 1637.6,951.5 1638.3,951.0 1639.0,952.2 1639.7,950.8 1640.4,951.4 1641.0,951.9 1641.7,951.1 1642.4,951.5 1643.1,951.5 1643.8,951.9 1644.5,950.2 1645.2,950.6 1645.8,951.4 1646.5,952.0 1647.2,951.7 1647.9,951.9 1648.6,952.1 1649.3,951.5 1649.9,950.5 1650.6,950.6 1651.3,951.1 1652.0,952.5 1652.7,951.2 1653.4,952.0 1654.1,952.6 1654.7,950.6 1655.4,951.7 1656.1,952.4 1656.8,950.9 1657.5,951.5 1658.2,951.8 1658.9,951.1 1659.5,952.3 1660.2,953.9 1660.9,951.7 1661.6,952.4 1662.3,951.6 1663.0,952.2 1663.6,952.3 1664.3,951.7 1665.0,952.4 1665.7,952.0 1666.4,952.5 1667.1,951.4 1667.8,950.7 1668.4,951.4 1669.1,952.2 1669.8,951.1 1670.5,951.8 1671.2,952.2 1671.9,952.4 1672.6,953.3 1673.2,952.0 1673.9,951.4 1674.6,951.9 1675.3,953.1 1676.0,952.3 1676.7,952.7 1677.3,953.7 1678.0,951.8 1678.7,951.8 1679.4,951.8"/>
<polyline stroke="#0000ff" stroke-width="12.5" points="172.4,796.2 173.1,796.2 173.8,795.4 174.5,795.9 175.1,797.1 175.8,796.8 176.5,795.6 177.2,795.5 177.9,796.3 178.6,796.3 179.3,796.7 179.9,796.7 180.6,795.9 181.3,796.3 182.0,796.8 182.7,795.8 183.4,796.5 184.0,796.0 184.7,795.5 185.4,797.1 186.1,796.2 186.8,795.3 187.5,796.5 188.2,796.5 188.8,797.0 189.5,795.9 190.2,797.4 190.9,796.6 191.6,796.9 192.3,796.1 193.0,797.1 193.6,796.9 194.3,796.3 195.0,796.4 195.7,796.6 196.4,796.1 197.1,797.0 197.7,795.5 198.4,797.5 199.1,797.3 199.8,796.7 200.5,795.7 201.2,798.0 201.9,794.6 202.5,796.0 203.2,797.1 203.9,797.3 204.6,797.0 205.3,797.1 206.0,796.0 206.7,796.1 207.3,796.8 208.0,796.1 208.7,795.6 209.4,796.3 210.1,796.9 210.8,796.6 211.4,798.0 212.1,797.6 212.8,797.8 213.5,797.8 214.2,796.2 214.9,796.7 215.6,796.6 216.2,797.0 216.9,795.6 217.6,796.7 218.3,796.7 219.0,796.3 219.7,796.8 220.4,797.1 221.0,797.1 221.7,796.6 222.4,795.7 223.1,796.6 223.8,797.0 224.5,796.7 225.1,797.7 225.8,796.6 226.5,797.2 227.2,796.4 227.9,796.7 228.6,796.4 229.3,799.1 229.9,797.1 230.6,796.9 231.3,797.5 232.0,797.9 232.7,797.3 233.4,797.2 234.1,796.3 234.7,796.6 235.4,796.0 236.1,797.5 236.8,797.1 237.5,796.8 238.2,796.6 238.8,797.1 239.5,796.5 240.2,796.6 240.9,797.4 241.6,797.1 242.3,796.4 243.0,797.0 243.6,797.9 244.3,797.3 245.0,796.8 245.7,797.8 246.4,796.2 247.1,796.8 247.8,796.3 248.4,797.7 249.1,797.5 249.8,798.3 250.5,796.6 251.2,796.2 251.9,796.3 252.5,796.8 253.2,798.5 253.9,797.3 254.6,797.2 255.3,796.5 256.0,796.2 256.7,796.8 257.3,796.6 258.0,797.3 258.7,795.9 259.4,795.6 260.1,796.2 260.8,796.9 261.5,796.5 262.1,796.0 262.8,795.7 263.5,796.1 264.2,794.2 264.9,794.6 265.6,794.5 266.2,794.6 266.9,794.5 267.6,794.3 268.3,792.6 269.0,792.8 269.7,792.6 270.4,791.0 271.0,791.5 271.7,790.4 272.4,791.3 273.1,791.3 273.8,791.5 274.5,790.5 275.2,791.3 275.8,791.0 276.5,792.4 277.2,793.2 277.9,795.3 278.6,795.3 279.3,796.4 279.9,795.5 280.6,797.1 281.3,797.7 282.0,796.8 282.7,796.5 283.4,796.8 284.1,796.6 284.7,798.0 285.4,798.4 286.1,797.7 286.8,798.3 287.5,798.1 288.2,796.6 288.9,797.2 289.5,798.7 290.2,797.1 290.9,797.8 291.6,797.2 292.3,797.3 293.0,797.0 293.6,798.4 294.3,797.3 295.0,797.8 295.7,797.8 296.4,797.9 297.1,797.1 297.8,796.9 298.4,797.6 299.1,797.6 299.8,798.3 300.5,798.5 301.2,799.2 301.9,798.3 302.6,797.3 303.2,798.4 303.9,799.0 304.6,797.6 305.3,797.0 306.0,797.4 306.7,797.0 307.3,797.3 308.0,796.7 308.7,797.2 309.4,798.8 310.1,796.8 310.8,797.5 311.5,797.4 312.1,798.0 312.8,798.3 313.5,797.0 314.2,798.1 314.9,796.2 315.6,797.4 316.3,799.2 316.9,797.8 317.6,797.7 318.3,797.3 319.0,798.7 319.7,798.2 320.4,797.4 321.0,796.4 321.7,798.2 322.4,798.7 323.1,798.8 323.8,797.0 324.5,798.2 325.2,798.3 325.8,798.3 326.5,796.7 327.2,798.5 327.9,797.8 328.6,796.6 329.3,797.6 330.0,796.6 330.6,797.0 331.3,797.5 332.0,797.8 332.7,797.5 333.4,796.2 334.1,796.8 334.7,797.0 335.4,797.4 336.1,798.4 336.8,796.5 337.5,796.5 338.2,796.8 338.9,797.4 339.5,797.2 340.2,797.1 340.9,797.3 341.6,796.8 342.3,796.9 343.0,797.8 343.7,798.2 344.3,797.4 345.0,796.4 345.7,796.4 346.4,796.7 347.1,796.7 347.8,797.7 348.4,796.8 349.1,797.2 349.8,797.6 350.5,798.3 351.2,797.5 351.9,796.7 352.6,797.0 353.2,796.7 353.9,796.7 354.6,796.6 355.3,797.5 356.0,796.4 356.7,796.5 357.4,796.5 358.0,796.3 358.7,796.1 359.4,796.3 360.1,796.1 360.8,795.5 361.5,795.3 362.1,794.7 362.8,794.3 363.5,794.2 364.2,793.0 364.9,794.0 365.6,793.3 366.3,792.6 366.9,792.6 367.6,792.1 368.3,790.6 369.0,789.6 369.7,788.1 370.4,786.3 371.1,785.1 371.7,782.6 372.4,781.5 373.1,777.5 373.8,773.9 374.5,771.0 375.2,765.7 375.8,760.4 376.5,755.4 377.2,750.1 377.9,746.1 378.6,745.9 379.3,749.6 380.0,760.7 380.6,772.6 381.3,779.8 382.0,787.1 382.7,790.0 383.4,791.7 384.1,792.5 384.8,793.7 385.4,794.6 386.1,795.7 386.8,797.1 387.5,795.8 388.2,796.9 388.9,797.0 389.5,797.2 390.2,797.1 390.9,797.3 391.6,796.9 392.3,796.8 393.0,797.0 393.7,798.2 394.3,797.6 395.0,797.3 395.7,797.7 396.4,797.4 397.1,797.7 397.8,798.0 398.5,798.0 399.1,798.9 399.8,798.2 400.5,797.8 401.2,798.0 401.9,798.7 402.6,797.7 403.2,798.8 403.9,798.3 404.6,798.1 405.3,797.2 406.0,799.1 406.7,798.6 407.4,797.5 408.0,798.5 408.7,798.5 409.4,798.9 410.1,799.1 410.8,798.7 411.5,798.2 412.2,798.1 412.8,798.7 413.5,799.6 414.2,796.8 414.9,798.4 415.6,798.6 416.3,797.6 416.9,796.8 417.6,799.0 418.3,798.0 419.0,798.6 419.7,797.7 420.4,797.8 421.1,798.9 421.7,797.6 422.4,797.6 423.1,798.5 423.8,797.3 424.5,798.3 425.2,797.4 425.9,798.2 426.5,798.0 427.2,798.3 427.9,797.3 428.6,798.5 429.3,798.6 430.0,798.7 430.6,797.8 431.3,797.5 432.0,799.1 432.7,798.6 433.4,797.8 434.1,797.9 434.8,796.1 435.4,797.7 436.1,797.4 436.8,798.0 437.5,797.5 438.2,798.7 438.9,798.2 439.6,797.1 440.2,797.6 440.9,798.9 441.6,797.8 442.3,798.0 443.0,798.0 443.7,799.0 444.3,799.0 445.0,798.0 445.7,798.0 446.4,797.9 447.1,797.5 447.8,798.6 448.5,798.6 449.1,798.7 449.8,797.2 450.5,797.9 451.2,798.3 451.9,797.0 452.6,796.4 453.3,796.9 453.9,797.1 454.6,796.8 455.3,797.8 456.0,798.3 456.7,797.5 457.4,797.3 458.0,798.2 458.7,797.8 459.4,798.3 460.1,799.4 460.8,799.1 461.5,798.1 462.2,798.2 462.8,797.1 463.5,798.2 464.2,798.8 464.9,797.3 465.6,797.9 466.3,798.6 467.0,797.7 467.6,797.0 468.3,797.7 469.0,797.2 469.7,797.4 470.4,797.7 471.1,797.5 471.7,796.3 472.4,797.4 473.1,798.3 473.8,796.5 474.5,798.1 475.2,798.2 475.9,798.7 476.5,795.7 477.2,797.6 477.9,797.2 478.6,796.9 479.3,796.9 480.0,795.8 480.7,795.9 481.3,797.3 482.0,796.0 482.7,795.6 483.4,796.1 484.1,796.8 484.8,796.9 485.4,795.4 486.1,795.9 486.8,795.9 487.5,796.6 488.2,796.1 488.9,796.0 489.6,795.3 490.2,796.0 490.9,795.5 491.6,795.4 492.3,793.7 493.0,794.3 493.7,793.7 494.4,793.4 495.0,793.4 495.7,793.5 496.4,791.4 497.1,790.8 497.8,791.3 498.5,791.3 499.1,790.0 499.8,788.8 500.5,788.5 501.2,786.8 501.9,785.6 502.6,784.3 503.3,784.8 503.9,783.7 504.6,783.7 505.3,782.4 506.0,783.7 506.7,783.8 507.4,783.7 508.1,783.4 508.7,784.6 509.4,784.0 510.1,783.6 510.8,784.2 511.5,781.7 512.2,781.6 512.8,779.4 513.5,778.8 514.2,776.5 514.9,775.0 515.6,772.4 516.3,771.4 517.0,770.0 517.6,768.7 518.3,769.5 519.0,769.9 519.7,771.4 520.4,773.7 521.1,777.5 521.8,781.0 522.4,783.9 523.1,785.4 523.8,788.3 524.5,788.4 525.2,789.8 525.9,790.6 526.5,790.4 527.2,790.1 527.9,788.5 528.6,788.5 529.3,787.5 530.0,785.4 530.7,782.1 531.3,780.4 532.0,776.8 532.7,773.2 533.4,769.8 534.1,763.4 534.8,761.0 535.5,756.0 536.1,752.3 536.8,748.7 537.5,747.6 538.2,749.2 538.9,753.1 539.6,761.1 540.2,766.5 540.9,772.3 541.6,774.1 542.3,777.2 543.0,777.1 543.7,775.0 544.4,770.4 545.0,766.6 545.7,759.7 546.4,749.7 547.1,740.8 547.8,730.0 548.5,718.4 549.2,707.7 549.8,697.6 550.5,690.2 551.2,687.5 551.9,692.1 552.6,707.1 553.3,726.3 553.9,745.4 554.6,761.3 555.3,772.4 556.0,781.8 556.7,786.5 557.4,790.2 558.1,791.3 558.7,792.4 559.4,793.4 560.1,792.8 560.8,793.0 561.5,795.3 562.2,795.8 562.9,794.8 563.5,796.7 564.2,796.6 564.9,796.6 565.6,797.8 566.3,797.3 567.0,796.8 567.6,796.4 568.3,796.4 569.0,797.9 569.7,797.4 570.4,796.8 571.1,797.4 571.8,797.0 572.4,797.9 573.1,797.8 573.8,797.1 574.5,796.8 575.2,796.6 575.9,797.2 576.6,797.3 577.2,797.4 577.9,797.3 578.6,795.9 579.3,795.6 580.0,797.2 580.7,797.5 581.3,796.3 582.0,796.7 582.7,795.9 583.4,797.5 584.1,797.3 584.8,797.4 585.5,796.7 586.1,797.3 586.8,795.2 587.5,795.5 588.2,796.3 588.9,796.5 589.6,796.2 590.3,795.8 590.9,796.8 591.6,797.0 592.3,797.2 593.0,797.8 593.7,797.4 594.4,797.1 595.0,796.8 595.7,796.3 596.4,795.6 597.1,795.6 597.8,795.5 598.5,793.4 599.2,793.9 599.8,794.0 600.5,793.3 601.2,791.2 601.9,790.0 602.6,789.3 603.3,787.1 604.0,786.0 604.6,783.9 605.3,781.0 606.0,779.3 606.7,776.3 607.4,775.2 608.1,772.5 608.7,773.0 609.4,773.6 610.1,776.0 610.8,779.1 611.5,783.9 612.2,788.0 612.9,789.0 613.5,792.9 614.2,793.0 614.9,793.8 615.6,793.9 616.3,793.6 617.0,795.6 617.7,794.8 618.3,796.4 619.0,795.4 619.7,794.6 620.4,795.9 621.1,795.9 621.8,796.4 622.4,796.9 623.1,795.8 623.8,795.0 624.5,797.4 625.2,795.1 625.9,795.9 626.6,795.1 627.2,796.0 627.9,794.6 628.6,794.3 629.3,793.7 630.0,794.7 630.7,794.6 631.4,792.8 632.0,794.3 632.7,793.5 633.4,793.1 634.1,794.7 634.8,793.7 635.5,794.2 636.1,793.7 636.8,793.8 637.5,795.4 638.2,795.2 638.9,795.5 639.6,794.9 640.3,796.8 640.9,795.5 641.6,795.8 642.3,796.5 643.0,796.8 643.7,796.1 644.4,796.9 645.1,796.0 645.7,798.0 646.4,796.2 647.1,796.9 647.8,795.7 648.5,797.4 649.2,797.1 649.8,795.7 650.5,797.8 651.2,796.9 651.9,796.5 652.6,797.1 653.3,798.1 654.0,795.7 654.6,796.9 655.3,795.5 656.0,796.6 656.7,795.8 657.4,796.8 658.1,794.6 658.8,795.8 659.4,795.6 660.1,795.7 660.8,795.9 661.5,794.8 662.2,795.6 662.9,796.4 663.5,795.5 664.2,794.8 664.9,794.9 665.6,796.0 666.3,796.1 667.0,795.5 667.7,795.2 668.3,795.7 669.0,795.6 669.7,795.6 670.4,795.3 671.1,795.5 671.8,795.2 672.5,796.5 673.1,795.8 673.8,794.5 674.5,794.6 675.2,795.0 675.9,794.7 676.6,794.9 677.2,794.7 677.9,793.7 678.6,793.5 679.3,793.4 680.0,792.9 680.7,793.9 681.4,792.5 682.0,794.0 682.7,792.4 683.4,793.0 684.1,794.3 684.8,793.9 685.5,792.7 686.2,793.4 686.8,793.4 687.5,793.9 688.2,793.3 688.9,793.5 689.6,792.4 690.3,793.0 690.9,792.8 691.6,793.0 692.3,793.5 693.0,792.3 693.7,791.6 694.4,792.8 695.1,792.3 695.7,791.2 696.4,791.1 697.1,791.5 697.8,790.8 698.5,790.4 699.2,790.3 699.9,790.7 700.5,789.7 701.2,790.3 701.9,789.2 702.6,789.6 703.3,788.8 704.0,789.0 704.6,788.6 705.3,788.0 706.0,788.7 706.7,788.5 707.4,787.4 708.1,788.1 708.8,787.3 709.4,785.4 710.1,784.7 710.8,785.7 711.5,783.5 712.2,783.0 712.9,781.8 713.6,782.3 714.2,780.6 714.9,781.1 715.6,779.8 716.3,780.8 717.0,780.7 717.7,779.8 718.3,779.9 719.0,779.7 719.7,781.6 720.4,780.9 721.1,779.9 721.8,779.7 722.5,779.6 723.1,778.5 723.8,778.3 724.5,777.5 725.2,774.5 725.9,773.7 726.6,772.9 727.3,771.0 727.9,769.9 728.6,767.6 729.3,768.0 730.0,769.3 730.7,769.0 731.4,771.1 732.0,774.0 732.7,776.4 733.4,777.0 734.1,779.9 734.8,781.2 735.5,782.2 736.2,783.5 736.8,782.3 737.5,783.4 738.2,784.3 738.9,784.8 739.6,783.9 740.3,784.1 741.0,784.5 741.6,784.5 742.3,784.5 743.0,783.8 743.7,783.4 744.4,782.8 745.1,783.2 745.7,783.2 746.4,782.1 747.1,781.8 747.8,783.2 748.5,782.3 749.2,781.7 749.9,783.4 750.5,782.5 751.2,782.2 751.9,782.9 752.6,782.7 753.3,782.5 754.0,781.8 754.7,781.2 755.3,780.5 756.0,780.9 756.7,779.4 757.4,777.8 758.1,777.2 758.8,777.1 759.4,775.8 760.1,775.6 760.8,773.7 761.5,773.9 762.2,772.5 762.9,772.3 763.6,771.7 764.2,769.7 764.9,767.5 765.6,766.0 766.3,763.5 767.0,760.7 767.7,757.5 768.4,754.0 769.0,751.2 769.7,747.1 770.4,744.5 771.1,742.7 771.8,741.7 772.5,740.9 773.1,744.1 773.8,748.2 774.5,749.9 775.2,754.1 775.9,757.5 776.6,760.3 777.3,761.6 777.9,763.3 778.6,763.3 779.3,764.2 780.0,764.6 780.7,763.9 781.4,762.9 782.1,763.5 782.7,762.7 783.4,763.1 784.1,760.6 784.8,761.4 785.5,759.0 786.2,757.8 786.8,754.2 787.5,751.0 788.2,746.7 788.9,741.8 789.6,736.3 790.3,732.8 791.0,728.7 791.6,727.4 792.3,727.4 793.0,732.0 793.7,739.3 794.4,746.6 795.1,752.8 795.8,761.1 796.4,764.1 797.1,768.7 797.8,770.6 798.5,773.2 799.2,773.1 799.9,774.0 800.5,774.1 801.2,774.0 801.9,772.8 802.6,771.1 803.3,772.2 804.0,770.3 804.7,769.4 805.3,766.9 806.0,764.8 806.7,765.1 807.4,762.9 808.1,762.5 808.8,761.0 809.5,759.9 810.1,761.3 810.8,764.4 811.5,765.3 812.2,767.7 812.9,767.2 813.6,768.6 814.2,769.8 814.9,769.5 815.6,769.5 816.3,769.4 817.0,768.2 817.7,766.7 818.4,767.8 819.0,766.6 819.7,766.4 820.4,765.4 821.1,767.3 821.8,767.7 822.5,768.0 823.2,770.5 823.8,773.4 824.5,775.3 825.2,777.4 825.9,779.1 826.6,780.0 827.3,780.9 827.9,782.7 828.6,781.2 829.3,783.5 830.0,783.3 830.7,781.4 831.4,780.5 832.1,779.5 832.7,778.4 833.4,775.1 834.1,773.0 834.8,768.4 835.5,763.8 836.2,758.9 836.9,755.1 837.5,746.7 838.2,739.6 838.9,730.9 839.6,722.0 840.3,712.7 841.0,702.3 841.6,694.1 842.3,687.3 843.0,682.5 843.7,681.9 844.4,683.8 845.1,693.9 845.8,705.0 846.4,718.7 847.1,731.8 847.8,742.9 848.5,753.1 849.2,761.9 849.9,767.5 850.6,772.6 851.2,776.8 851.9,778.4 852.6,780.0 853.3,781.6 854.0,782.2 854.7,783.4 855.3,783.3 856.0,782.1 856.7,782.6 857.4,782.4 858.1,782.2 858.8,781.6 859.5,781.9 860.1,780.5 860.8,780.4 861.5,780.4 862.2,778.7 862.9,779.5 863.6,780.9 864.3,781.6 864.9,781.8 865.6,783.8 866.3,785.9 867.0,785.5 867.7,787.1 868.4,787.0 869.0,788.8 869.7,789.3 870.4,790.2 871.1,790.1 871.8,791.8 872.5,791.0 873.2,792.0 873.8,791.3 874.5,792.1 875.2,792.2 875.9,793.5 876.6,792.3 877.3,792.8 878.0,793.4 878.6,792.1 879.3,794.0 880.0,793.1 880.7,793.7 881.4,793.8 882.1,794.1 882.7,793.3 883.4,793.8 884.1,793.9 884.8,793.6 885.5,792.1 886.2,792.8 886.9,790.8 887.5,791.3 888.2,793.1 888.9,791.3 889.6,791.1 890.3,789.5 891.0,790.8 891.7,790.6 892.3,788.7 893.0,789.6 893.7,789.7 894.4,789.4 895.1,788.4 895.8,789.4 896.4,788.9 897.1,789.0 897.8,788.7 898.5,790.0 899.2,789.7 899.9,790.1 900.6,791.0 901.2,791.0 901.9,791.6 902.6,791.8 903.3,792.4 904.0,792.3 904.7,792.1 905.4,792.3 906.0,793.4 906.7,793.2 907.4,795.1 908.1,794.1 908.8,794.7 909.5,794.3 910.1,794.5 910.8,794.1 911.5,794.3 912.2,795.5 912.9,794.6 913.6,795.5 914.3,794.9 914.9,795.8 915.6,794.9 916.3,794.7 917.0,795.1 917.7,795.4 918.4,795.2 919.1,795.9 919.7,795.7 920.4,794.8 921.1,795.7 921.8,794.8 922.5,795.3 923.2,796.0 923.8,795.3 924.5,795.5 925.2,794.1 925.9,796.1 926.6,795.4 927.3,792.6 928.0,794.4 928.6,794.7 929.3,795.1 930.0,796.0 930.7,795.8 931.4,794.4 932.1,793.5 932.8,795.3 933.4,795.1 934.1,793.9 934.8,793.8 935.5,793.8 936.2,794.8 936.9,793.7 937.5,794.5 938.2,794.6 938.9,794.2 939.6,792.0 940.3,794.2 941.0,793.7 941.7,793.7 942.3,793.5 943.0,792.4 943.7,793.4 944.4,792.7 945.1,792.5 945.8,792.8 946.5,792.3 947.1,791.0 947.8,790.6 948.5,790.3 949.2,790.4 949.9,790.0 950.6,790.1 951.2,788.9 951.9,788.8 952.6,787.1 953.3,787.8 954.0,784.5 954.7,784.4 955.4,784.0 956.0,783.1 956.7,781.6 957.4,780.9 958.1,780.8 958.8,780.7 959.5,781.5 960.2,781.2 960.8,780.8 961.5,784.2 962.2,784.1 962.9,787.2 963.6,788.3 964.3,789.7 964.9,791.4 965.6,791.5 966.3,791.1 967.0,791.7 967.7,792.2 968.4,793.6 969.1,793.0 969.7,793.6 970.4,792.5 971.1,793.9 971.8,793.4 972.5,793.1 973.2,794.6 973.9,794.8 974.5,794.4 975.2,794.1 975.9,795.2 976.6,794.7 977.3,793.8 978.0,793.5 978.6,793.8 979.3,794.3 980.0,792.7 980.7,792.8 981.4,793.2 982.1,793.2 982.8,792.2 983.4,792.7 984.1,792.3 984.8,791.7 985.5,791.9 986.2,791.9 986.9,792.4 987.6,790.5 988.2,790.2 988.9,790.6 989.6,789.9 990.3,789.5 991.0,789.6 991.7,790.1 992.3,789.7 993.0,789.7 993.7,790.5 994.4,788.9 995.1,790.0 995.8,790.8 996.5,790.6 997.1,790.9 997.8,791.1 998.5,792.4 999.2,791.9 999.9,791.0 1000.6,792.9 1001.3,793.2 1001.9,794.2 1002.6,794.0 1003.3,795.0 1004.0,793.0 1004.7,794.6 1005.4,794.6 1006.0,794.7 1006.7,794.4 1007.4,794.9 1008.1,795.2 1008.8,793.7 1009.5,794.9 1010.2,794.7 1010.8,794.0 1011.5,795.0 1012.2,795.2 1012.9,795.2 1013.6,794.1 1014.3,795.3 1015.0,795.4 1015.6,794.9 1016.3,795.0 1017.0,795.4 1017.7,794.8 1018.4,796.5 1019.1,795.6 1019.7,796.6 1020.4,796.2 1021.1,796.2 1021.8,796.4 1022.5,795.2 1023.2,795.7 1023.9,795.4 1024.5,795.3 1025.2,796.4 1025.9,794.5 1026.6,795.5 1027.3,795.3 1028.0,795.2 1028.7,795.6 1029.3,795.7 1030.0,794.2 1030.7,795.0 1031.4,794.6 1032.1,794.7 1032.8,796.2 1033.4,794.6 1034.1,795.4 1034.8,794.2 1035.5,793.4 1036.2,795.5 1036.9,794.7 1037.6,795.8 1038.2,795.4 1038.9,793.4 1039.6,794.6 1040.3,794.7 1041.0,794.8 1041.7,795.6 1042.4,794.2 1043.0,795.2 1043.7,797.0 1044.4,794.7 1045.1,795.3 1045.8,795.9 1046.5,796.1 1047.1,795.4 1047.8,795.1 1048.5,795.2 1049.2,795.1 1049.9,796.1 1050.6,796.0 1051.3,794.8 1051.9,796.7 1052.6,795.7 1053.3,796.3 1054.0,796.1 1054.7,796.4 1055.4,795.5 1056.1,796.3 1056.7,796.1 1057.4,796.5 1058.1,795.5 1058.8,796.0 1059.5,795.7 1060.2,795.3 1060.8,795.6 1061.5,796.8 1062.2,796.0 1062.9,796.2 1063.6,796.3 1064.3,795.8 1065.0,797.6 1065.6,796.5 1066.3,796.9 1067.0,796.9 1067.7,796.1 1068.4,796.4 1069.1,795.6 1069.8,795.3 1070.4,796.2 1071.1,796.2 1071.8,795.6 1072.5,796.3 1073.2,796.4 1073.9,796.4 1074.5,795.3 1075.2,795.6 1075.9,796.0 1076.6,795.5 1077.3,796.0 1078.0,796.0 1078.7,796.7 1079.3,795.7 1080.0,796.4 1080.7,797.0 1081.4,796.9 1082.1,797.9 1082.8,796.6 1083.5,795.6 1084.1,797.5 1084.8,797.1 1085.5,797.0 1086.2,796.6 1086.9,796.9 1087.6,797.2 1088.2,797.0 1088.9,797.2 1089.6,796.5 1090.3,796.3 1091.0,795.8 1091.7,797.8 1092.4,796.2 1093.0,796.1 1093.7,796.3 1094.4,796.6 1095.1,796.0 1095.8,795.1 1096.5,796.2 1097.2,795.2 1097.8,795.4 1098.5,796.1 1099.2,795.3 1099.9,794.2 1100.6,794.7 1101.3,793.8 1101.9,792.5 1102.6,791.4 1103.3,793.5 1104.0,792.0 1104.7,792.0 1105.4,792.1 1106.1,790.6 1106.7,791.8 1107.4,790.3 1108.1,791.1 1108.8,791.7 1109.5,791.5 1110.2,791.9 1110.9,793.0 1111.5,793.8 1112.2,793.3 1112.9,794.5 1113.6,795.5 1114.3,792.9 1115.0,795.2 1115.6,795.8 1116.3,795.8 1117.0,795.7 1117.7,797.2 1118.4,796.3 1119.1,795.7 1119.8,796.5 1120.4,796.4 1121.1,796.3 1121.8,797.5 1122.5,797.2 1123.2,797.7 1123.9,797.1 1124.6,796.6 1125.2,796.9 1125.9,795.8 1126.6,797.3 1127.3,796.3 1128.0,797.4 1128.7,797.5 1129.3,797.3 1130.0,797.5 1130.7,797.3 1131.4,799.4 1132.1,798.2 1132.8,797.5 1133.5,798.6 1134.1,797.5 1134.8,797.0 1135.5,796.3 1136.2,798.5 1136.9,798.2 1137.6,799.4 1138.3,798.0 1138.9,799.0 1139.6,798.8 1140.3,799.5 1141.0,797.9 1141.7,797.3 1142.4,797.8 1143.0,797.8 1143.7,797.9 1144.4,798.3 1145.1,798.4 1145.8,797.8 1146.5,797.6 1147.2,797.1 1147.8,797.9 1148.5,797.7 1149.2,797.9 1149.9,797.9 1150.6,798.8 1151.3,796.2 1152.0,796.8 1152.6,798.4 1153.3,797.7 1154.0,798.2 1154.7,798.8 1155.4,798.2 1156.1,797.2 1156.7,796.4 1157.4,797.9 1158.1,797.5 1158.8,798.5 1159.5,797.2 1160.2,797.4 1160.9,798.4 1161.5,796.6 1162.2,798.3 1162.9,797.0 1163.6,799.7 1164.3,799.2 1165.0,798.4 1165.7,797.2 1166.3,797.6 1167.0,797.9 1167.7,797.4 1168.4,797.9 1169.1,797.7 1169.8,797.5 1170.4,798.2 1171.1,796.9 1171.8,797.5 1172.5,798.0 1173.2,797.2 1173.9,797.3 1174.6,796.4 1175.2,796.7 1175.9,796.4 1176.6,797.0 1177.3,795.7 1178.0,797.2 1178.7,796.2 1179.4,796.8 1180.0,796.2 1180.7,795.9 1181.4,796.3 1182.1,794.7 1182.8,795.0 1183.5,794.4 1184.1,794.8 1184.8,793.7 1185.5,793.5 1186.2,792.4 1186.9,793.0 1187.6,790.8 1188.3,791.2 1188.9,792.5 1189.6,790.9 1190.3,791.2 1191.0,791.6 1191.7,792.4 1192.4,791.9 1193.1,792.9 1193.7,793.6 1194.4,792.9 1195.1,793.7 1195.8,795.4 1196.5,794.8 1197.2,795.6 1197.8,794.6 1198.5,796.3 1199.2,795.9 1199.9,796.8 1200.6,796.4 1201.3,794.3 1202.0,797.1 1202.6,795.9 1203.3,795.9 1204.0,795.0 1204.7,796.3 1205.4,796.6 1206.1,795.6 1206.8,795.0 1207.4,795.2 1208.1,796.3 1208.8,795.9 1209.5,795.9 1210.2,796.0 1210.9,796.2 1211.5,795.4 1212.2,796.5 1212.9,797.4 1213.6,796.9 1214.3,796.6 1215.0,796.8 1215.7,797.8 1216.3,797.4 1217.0,798.2 1217.7,799.0 1218.4,797.1 1219.1,797.1 1219.8,798.8 1220.5,798.5 1221.1,798.1 1221.8,799.7 1222.5,797.3 1223.2,797.2 1223.9,798.4 1224.6,798.7 1225.2,799.4 1225.9,798.4 1226.6,799.1 1227.3,798.3 1228.0,798.8 1228.7,798.7 1229.4,799.5 1230.0,797.6 1230.7,797.1 1231.4,797.6 1232.1,799.6 1232.8,798.4 1233.5,797.8 1234.2,798.4 1234.8,799.1 1235.5,798.3 1236.2,799.0 1236.9,798.0 1237.6,798.1 1238.3,798.7 1238.9,798.3 1239.6,799.3 1240.3,799.7 1241.0,800.2 1241.7,799.7 1242.4,799.4 1243.1,800.2 1243.7,800.0 1244.4,799.3 1245.1,799.4 1245.8,800.0 1246.5,798.9 1247.2,799.5 1247.9,798.9 1248.5,799.1 1249.2,799.6 1249.9,799.4 1250.6,798.4 1251.3,798.7 1252.0,799.1 1252.6,798.6 1253.3,799.5 1254.0,798.8 1254.7,799.4 1255.4,799.3 1256.1,799.6 1256.8,798.1 1257.4,799.6 1258.1,798.9 1258.8,798.7 1259.5,798.5 1260.2,798.3 1260.9,798.4 1261.6,798.4 1262.2,799.0 1262.9,798.1 1263.6,797.8 1264.3,797.9 1265.0,797.8 1265.7,799.0 1266.3,798.6 1267.0,797.7 1267.7,798.0 1268.4,796.8 1269.1,797.7 1269.8,797.0 1270.5,798.1 1271.1,796.5 1271.8,796.4 1272.5,797.0 1273.2,795.8 1273.9,796.7 1274.6,797.5 1275.3,797.8 1275.9,797.8 1276.6,797.5 1277.3,797.7 1278.0,797.7 1278.7,797.7 1279.4,798.1 1280.0,797.7 1280.7,798.1 1281.4,798.9 1282.1,799.6 1282.8,798.1 1283.5,796.9 1284.2,797.8 1284.8,798.1 1285.5,798.9 1286.2,797.6 1286.9,798.8 1287.6,799.0 1288.3,798.3 1289.0,797.0 1289.6,797.9 1290.3,799.4 1291.0,799.4 1291.7,797.9 1292.4,799.7 1293.1,799.7 1293.7,798.6 1294.4,799.5 1295.1,797.7 1295.8,797.6 1296.5,799.7 1297.2,799.1 1297.9,797.2 1298.5,798.5 1299.2,798.2 1299.9,797.9 1300.6,796.2 1301.3,798.2 1302.0,796.3 1302.7,797.3 1303.3,797.8 1304.0,796.0 1304.7,795.7 1305.4,797.4 1306.1,797.2 1306.8,797.0 1307.4,797.6 1308.1,796.9 1308.8,796.6 1309.5,795.8 1310.2,794.3 1310.9,797.2 1311.6,797.3 1312.2,796.8 1312.9,797.0 1313.6,797.7 1314.3,798.2 1315.0,797.8 1315.7,797.7 1316.4,797.4 1317.0,796.5 1317.7,798.5 1318.4,797.1 1319.1,797.8 1319.8,798.2 1320.5,798.3 1321.1,797.4 1321.8,798.7 1322.5,799.1 1323.2,798.6 1323.9,799.1 1324.6,797.7 1325.3,798.8 1325.9,798.8 1326.6,797.9 1327.3,798.0 1328.0,798.4 1328.7,798.7 1329.4,798.5 1330.1,799.1 1330.7,798.4 1331.4,797.5 1332.1,798.2 1332.8,797.9 1333.5,797.5 1334.2,797.5 1334.8,797.9 1335.5,798.3 1336.2,798.7 1336.9,798.1 1337.6,797.7 1338.3,797.0 1339.0,797.7 1339.6,797.6 1340.3,797.8 1341.0,798.3 1341.7,797.9 1342.4,798.1 1343.1,797.3 1343.8,798.3 1344.4,799.6 1345.1,797.6 1345.8,797.7 1346.5,797.9 1347.2,798.4 1347.9,797.9 1348.5,797.5 1349.2,797.4 1349.9,797.0 1350.6,796.3 1351.3,798.5 1352.0,796.0 1352.7,797.9 1353.3,797.6 1354.0,797.6 1354.7,798.7 1355.4,797.7 1356.1,797.2 1356.8,797.3 1357.5,798.6 1358.1,798.1 1358.8,799.6 1359.5,797.5 1360.2,798.1 1360.9,797.1 1361.6,797.9 1362.2,797.5 1362.9,796.7 1363.6,797.0 1364.3,797.0 1365.0,798.7 1365.7,798.7 1366.4,799.0 1367.0,797.4 1367.7,797.8 1368.4,797.5 1369.1,799.0 1369.8,798.2 1370.5,798.1 1371.2,797.1 1371.8,799.1 1372.5,797.9 1373.2,798.0 1373.9,796.5 1374.6,798.0 1375.3,798.0 1375.9,799.2 1376.6,797.8 1377.3,798.2 1378.0,797.6 1378.7,798.3 1379.4,798.2 1380.1,797.5 1380.7,799.0 1381.4,797.5 1382.1,798.5 1382.8,798.0 1383.5,798.4 1384.2,798.3 1384.9,798.2 1385.5,798.1 1386.2,799.0 1386.9,797.1 1387.6,797.7 1388.3,798.6 1389.0,798.4 1389.6,797.9 1390.3,798.7 1391.0,799.1 1391.7,800.2 1392.4,798.3 1393.1,798.3 1393.8,798.3 1394.4,800.5 1395.1,798.7 1395.8,799.4 1396.5,797.4 1397.2,799.7 1397.9,798.7 1398.6,799.3 1399.2,798.7 1399.9,798.9 1400.6,798.4 1401.3,799.6 1402.0,797.7 1402.7,799.3 1403.3,798.3 1404.0,798.0 1404.7,799.7 1405.4,798.1 1406.1,798.7 1406.8,798.4 1407.5,798.2 1408.1,800.2 1408.8,798.9 1409.5,798.8 1410.2,798.6 1410.9,797.5 1411.6,797.8 1412.3,798.2 1412.9,798.6 1413.6,797.7 1414.3,798.2 1415.0,798.8 1415.7,798.1 1416.4,798.5 1417.0,799.2 1417.7,798.0 1418.4,798.3 1419.1,797.8 1419.8,798.8 1420.5,798.4 1421.2,798.4 1421.8,798.1 1422.5,798.4 1423.2,797.9 1423.9,797.4 1424.6,797.6 1425.3,797.9 1426.0,798.8 1426.6,798.3 1427.3,797.8 1428.0,797.9 1428.7,798.1 1429.4,797.9 1430.1,798.6 1430.7,797.5 1431.4,798.6 1432.1,797.6 1432.8,797.7 1433.5,797.2 1434.2,799.0 1434.9,797.8 1435.5,798.8 1436.2,798.5 1436.9,798.1 1437.6,798.3 1438.3,797.4 1439.0,796.8 1439.7,797.5 1440.3,798.2 1441.0,797.6 1441.7,797.5 1442.4,798.9 1443.1,797.9 1443.8,796.8 1444.4,799.3 1445.1,797.9 1445.8,796.6 1446.5,798.6 1447.2,798.0 1447.9,798.8 1448.6,798.6 1449.2,798.1 1449.9,797.5 1450.6,797.9 1451.3,798.8 1452.0,798.4 1452.7,799.0 1453.4,798.6 1454.0,798.1 1454.7,797.6 1455.4,798.5 1456.1,797.9 1456.8,798.2 1457.5,798.9 1458.1,797.7 1458.8,799.8 1459.5,798.3 1460.2,798.3 1460.9,798.4 1461.6,798.9 1462.3,798.6 1462.9,799.2 1463.6,798.5 1464.3,798.8 1465.0,799.3 1465.7,799.4 1466.4,798.3 1467.1,799.1 1467.7,798.8 1468.4,797.8 1469.1,797.1 1469.8,798.9 1470.5,798.7 1471.2,798.8 1471.8,798.6 1472.5,797.1 1473.2,798.7 1473.9,798.7 1474.6,798.2 1475.3,798.4 1476.0,797.9 1476.6,798.5 1477.3,799.7 1478.0,799.4 1478.7,798.1 1479.4,797.8 1480.1,798.8 1480.8,799.4 1481.4,798.5 1482.1,798.8 1482.8,798.0 1483.5,799.0 1484.2,798.1 1484.9,798.4 1485.5,799.4 1486.2,798.0 1486.9,798.0 1487.6,799.3 1488.3,798.9 1489.0,797.9 1489.7,798.5 1490.3,798.7 1491.0,798.7 1491.7,800.2 1492.4,799.1 1493.1,799.4 1493.8,798.9 1494.5,798.7 1495.1,798.7 1495.8,799.1 1496.5,800.2 1497.2,799.2 1497.9,800.0 1498.6,799.9 1499.2,800.6 1499.9,799.0 1500.6,800.6 1501.3,798.9 1502.0,798.8 1502.7,798.6 1503.4,799.0 1504.0,798.6 1504.7,798.9 1505.4,799.0 1506.1,799.8 1506.8,799.5 1507.5,797.9 1508.2,799.3 1508.8,798.5 1509.5,799.4 1510.2,798.8 1510.9,798.4 1511.6,797.5 1512.3,798.3 1512.9,798.6 1513.6,799.5 1514.3,798.4 1515.0,798.3 1515.7,800.0 1516.4,799.4 1517.1,799.3 1517.7,798.7 1518.4,798.7 1519.1,799.6 1519.8,797.9 1520.5,797.8 1521.2,798.5 1521.9,799.2 1522.5,798.4 1523.2,798.1 1523.9,799.5 1524.6,798.5 1525.3,797.8 1526.0,799.1 1526.6,798.2 1527.3,798.1 1528.0,798.6 1528.7,799.1 1529.4,797.9 1530.1,797.4 1530.8,798.6 1531.4,797.8 1532.1,798.7 1532.8,798.7 1533.5,797.0 1534.2,797.8 1534.9,798.1 1535.6,800.3 1536.2,799.1 1536.9,797.6 1537.6,797.1 1538.3,799.6 1539.0,798.1 1539.7,799.1 1540.3,797.1 1541.0,798.8 1541.7,798.6 1542.4,797.9 1543.1,797.8 1543.8,798.3 1544.5,796.6 1545.1,797.3 1545.8,799.0 1546.5,798.5 1547.2,797.3 1547.9,798.9 1548.6,798.3 1549.3,798.9 1549.9,798.6 1550.6,799.4 1551.3,798.6 1552.0,798.7 1552.7,798.5 1553.4,798.9 1554.0,799.1 1554.7,797.9 1555.4,800.4 1556.1,798.8 1556.8,800.0 1557.5,798.8 1558.2,798.3 1558.8,800.0 1559.5,799.4 1560.2,799.2 1560.9,799.3 1561.6,798.7 1562.3,799.5 1563.0,799.2 1563.6,799.9 1564.3,799.7 1565.0,799.3 1565.7,800.8 1566.4,800.0 1567.1,799.6 1567.7,799.0 1568.4,798.8 1569.1,800.8 1569.8,799.0 1570.5,798.9 1571.2,798.6 1571.9,799.3 1572.5,799.7 1573.2,800.4 1573.9,799.4 1574.6,799.2 1575.3,800.6 1576.0,799.1 1576.7,799.3 1577.3,798.2 1578.0,799.6 1578.7,799.1 1579.4,799.7 1580.1,798.4 1580.8,799.1 1581.4,800.2 1582.1,799.2 1582.8,798.5 1583.5,799.6 1584.2,799.8 1584.9,799.5 1585.6,799.0 1586.2,799.0 1586.9,798.9 1587.6,799.6 1588.3,798.1 1589.0,798.7 1589.7,798.7 1590.4,800.0 1591.0,799.7 1591.7,798.7 1592.4,799.7 1593.1,799.5 1593.8,799.6 1594.5,800.2 1595.1,799.6 1595.8,800.0 1596.5,799.5 1597.2,798.8 1597.9,800.2 1598.6,799.1 1599.3,798.7 1599.9,799.9 1600.6,799.6 1601.3,798.7 1602.0,799.9 1602.7,801.0 1603.4,800.5 1604.1,799.6 1604.7,800.3 1605.4,799.4 1606.1,799.9 1606.8,799.3 1607.5,799.7 1608.2,798.8 1608.8,799.3 1609.5,799.1 1610.2,799.1 1610.9,799.4 1611.6,799.7 1612.3,799.2 1613.0,800.6 1613.6,799.0 1614.3,799.7 1615.0,800.8 1615.7,799.8 1616.4,801.3 1617.1,799.8 1617.8,800.1 1618.4,800.1 1619.1,800.6 1619.8,800.4 1620.5,800.3 1621.2,800.3 1621.9,800.7 1622.5,800.1 1623.2,800.0 1623.9,800.2 1624.6,800.5 1625.3,800.4 1626.0,800.9 1626.7,800.6 1627.3,800.5 1628.0,800.0 1628.7,800.6 1629.4,800.5 1630.1,798.8 1630.8,800.0 1631.5,800.7 1632.1,800.5 1632.8,801.7 1633.5,801.0 1634.2,801.2 1634.9,800.2 1635.6,800.2 1636.2,800.6 1636.9,801.0 1637.6,800.2 1638.3,801.1 1639.0,801.4 1639.7,800.7 1640.4,800.8 1641.0,800.6 1641.7,799.8 1642.4,801.4 1643.1,800.8 1643.8,801.6 1644.5,802.1 1645.2,801.1 1645.8,799.7 1646.5,799.1 1647.2,801.4 1647.9,799.9 1648.6,801.2 1649.3,800.1 1649.9,801.9 1650.6,801.1 1651.3,800.9 1652.0,801.4 1652.7,801.7 1653.4,800.9 1654.1,801.3 1654.7,801.8 1655.4,800.3 1656.1,800.5 1656.8,801.3 1657.5,802.3 1658.2,799.7 1658.9,801.1 1659.5,800.5 1660.2,799.4 1660.9,801.3 1661.6,800.2 1662.3,800.8 1663.0,801.2 1663.6,801.1 1664.3,801.3 1665.0,800.6 1665.7,800.8 1666.4,800.9 1667.1,800.0 1667.8,801.5 1668.4,802.2 1669.1,800.6 1669.8,800.9 1670.5,802.2 1671.2,800.4 1671.9,801.4 1672.6,800.3 1673.2,799.6 1673.9,800.1 1674.6,800.2 1675.3,800.9 1676.0,800.1 1676.7,800.8 1677.3,801.3 1678.0,799.7 1678.7,800.4 1679.4,800.4"/>
<polyline stroke="#00ff00" stroke-width="12.5" points="172.4,637.6 173.1,637.6 173.8,636.5 174.5,637.1 175.1,637.0 175.8,637.8 176.5,638.3 177.2,639.4 177.9,638.8 178.6,638.0 179.3,637.8 179.9,638.3 180.6,638.4 181.3,638.7 182.0,638.5 182.7,639.2 183.4,639.4 184.0,639.8 184.7,638.3 185.4,638.8 186.1,639.4 186.8,638.7 187.5,638.5 188.2,639.2 188.8,640.6 189.5,639.1 190.2,639.3 190.9,640.6 191.6,639.1 192.3,640.6 193.0,640.2 193.6,639.9 194.3,640.3 195.0,640.4 195.7,641.6 196.4,641.5 197.1,641.9 197.7,640.7 198.4,640.9 199.1,641.5 199.8,641.1 200.5,641.2 201.2,641.8 201.9,641.2 202.5,642.0 203.2,641.2 203.9,643.0 204.6,642.0 205.3,642.0 206.0,641.9 206.7,642.9 207.3,641.7 208.0,642.2 208.7,642.4 209.4,642.9 210.1,642.7 210.8,643.2 211.4,643.8 212.1,643.8 212.8,643.5 213.5,643.8 214.2,642.9 214.9,642.7 215.6,642.9 216.2,643.5 216.9,644.0 217.6,644.4 218.3,642.0 219.0,644.0 219.7,643.8 220.4,643.9 221.0,644.4 221.7,644.1 222.4,643.7 223.1,642.8 223.8,644.6 224.5,643.9 225.1,643.7 225.8,644.1 226.5,644.7 227.2,644.4 227.9,645.5 228.6,644.5 229.3,645.4 229.9,644.6 230.6,645.0 231.3,644.8 232.0,645.8 232.7,644.6 233.4,646.0 234.1,645.2 234.7,644.3 235.4,645.5 236.1,645.1 236.8,646.8 237.5,645.3 238.2,645.5 238.8,644.1 239.5,644.9 240.2,645.5 240.9,645.5 241.6,644.9 242.3,646.0 243.0,644.7 243.6,644.7 244.3,645.1 245.0,645.3 245.7,644.5 246.4,645.7 247.1,645.6 247.8,646.6 248.4,646.8 249.1,646.9 249.8,645.9 250.5,646.3 251.2,646.5 251.9,645.7 252.5,646.3 253.2,647.2 253.9,646.9 254.6,647.5 255.3,645.6 256.0,645.4 256.7,645.8 257.3,645.3 258.0,646.3 258.7,645.5 259.4,646.8 260.1,645.7 260.8,645.2 261.5,645.9 262.1,645.9 262.8,645.3 263.5,645.9 264.2,645.8 264.9,645.7 265.6,645.4 266.2,647.0 266.9,646.8 267.6,644.1 268.3,645.4 269.0,644.2 269.7,646.4 270.4,646.1 271.0,643.5 271.7,643.8 272.4,644.8 273.1,646.2 273.8,643.3 274.5,643.1 275.2,642.5 275.8,644.1 276.5,643.1 277.2,642.2 277.9,642.7 278.6,643.3 279.3,644.9 279.9,646.0 280.6,644.9 281.3,645.2 282.0,646.4 282.7,647.8 283.4,645.1 284.1,646.7 284.7,646.8 285.4,646.2 286.1,645.8 286.8,645.4 287.5,646.6 288.2,646.4 288.9,646.6 289.5,647.9 290.2,647.2 290.9,646.7 291.6,647.4 292.3,646.8 293.0,647.6 293.6,647.3 294.3,646.6 295.0,647.0 295.7,646.4 296.4,646.6 297.1,647.4 297.8,646.7 298.4,646.9 299.1,645.4 299.8,646.3 300.5,648.5 301.2,647.0 301.9,646.3 302.6,646.0 303.2,645.6 303.9,647.2 304.6,646.0 305.3,646.5 306.0,647.3 306.7,647.8 307.3,647.1 308.0,646.7 308.7,648.1 309.4,646.9 310.1,646.9 310.8,646.2 311.5,646.6 312.1,647.6 312.8,647.3 313.5,647.7 314.2,647.4 314.9,646.9 315.6,647.0 316.3,646.7 316.9,647.5 317.6,647.0 318.3,645.8 319.0,647.7 319.7,646.7 320.4,647.4 321.0,646.7 321.7,647.3 322.4,646.4 323.1,646.3 323.8,647.0 324.5,646.7 325.2,647.2 325.8,646.0 326.5,646.5 327.2,647.3 327.9,647.8 328.6,646.6 329.3,647.1 330.0,647.2 330.6,647.4 331.3,647.0 332.0,647.4 332.7,648.0 333.4,648.2 334.1,647.5 334.7,647.6 335.4,646.8 336.1,647.4 336.8,647.7 337.5,647.5 338.2,647.8 338.9,647.6 339.5,646.6 340.2,647.3 340.9,646.8 341.6,646.9 342.3,646.5 343.0,647.3 343.7,646.8 344.3,646.6 345.0,647.1 345.7,645.1 346.4,646.2 347.1,645.9 347.8,646.7 348.4,646.4 349.1,646.4 349.8,647.1 350.5,645.7 351.2,646.6 351.9,647.4 352.6,646.6 353.2,647.5 353.9,648.2 354.6,645.2 355.3,645.1 356.0,646.3 356.7,645.2 357.4,645.6 358.0,645.9 358.7,645.5 359.4,645.4 360.1,645.4 360.8,646.3 361.5,644.9 362.1,645.0 362.8,644.9 363.5,645.7 364.2,644.7 364.9,645.2 365.6,644.1 366.3,645.1 366.9,643.8 367.6,643.1 368.3,642.8 369.0,642.3 369.7,643.3 370.4,642.3 371.1,640.6 371.7,640.2 372.4,640.1 373.1,638.4 373.8,637.6 374.5,635.6 375.2,633.0 375.8,632.0 376.5,628.4 377.2,625.6 377.9,621.9 378.6,616.5 379.3,615.4 380.0,613.0 380.6,611.0 381.3,612.6 382.0,619.2 382.7,627.6 383.4,633.4 384.1,638.2 384.8,640.4 385.4,642.0 386.1,643.1 386.8,644.6 387.5,643.1 388.2,644.2 388.9,645.5 389.5,645.0 390.2,645.8 390.9,646.1 391.6,645.3 392.3,646.6 393.0,646.0 393.7,646.2 394.3,646.8 395.0,646.4 395.7,647.3 396.4,647.5 397.1,648.3 397.8,647.3 398.5,647.0 399.1,647.2 399.8,647.4 400.5,647.2 401.2,646.3 401.9,646.9 402.6,647.2 403.2,647.9 403.9,647.7 404.6,648.4 405.3,648.5 406.0,648.0 406.7,648.1 407.4,648.1 408.0,645.7 408.7,647.3 409.4,647.0 410.1,648.4 410.8,647.0 411.5,647.2 412.2,648.0 412.8,646.7 413.5,648.1 414.2,647.0 414.9,647.9 415.6,647.3 416.3,646.4 416.9,647.6 417.6,646.6 418.3,647.4 419.0,646.9 419.7,647.2 420.4,647.3 421.1,647.7 421.7,647.8 422.4,647.3 423.1,647.5 423.8,646.2 424.5,647.1 425.2,647.6 425.9,647.6 426.5,647.2 427.2,647.5 427.9,646.9 428.6,647.2 429.3,646.2 430.0,648.0 430.6,646.3 431.3,648.3 432.0,646.6 432.7,646.6 433.4,646.8 434.1,646.4 434.8,646.2 435.4,646.8 436.1,645.8 436.8,646.5 437.5,646.6 438.2,646.4 438.9,646.5 439.6,647.1 440.2,646.2 440.9,646.5 441.6,647.5 442.3,648.2 443.0,647.0 443.7,646.8 444.3,648.1 445.0,647.6 445.7,647.9 446.4,648.2 447.1,647.6 447.8,648.2 448.5,646.6 449.1,646.9 449.8,647.4 450.5,647.9 451.2,647.8 451.9,647.0 452.6,646.0 453.3,647.1 453.9,646.5 454.6,646.9 455.3,646.8 456.0,646.2 456.7,648.1 457.4,646.9 458.0,646.9 458.7,647.8 459.4,647.6 460.1,647.0 460.8,647.4 461.5,646.7 462.2,647.4 462.8,647.3 463.5,647.3 464.2,646.7 464.9,645.7 465.6,647.3 466.3,646.6 467.0,647.7 467.6,647.9 468.3,646.8 469.0,646.6 469.7,646.4 470.4,645.3 471.1,647.8 471.7,646.7 472.4,646.0 473.1,646.0 473.8,647.2 474.5,646.5 475.2,647.3 475.9,645.7 476.5,647.7 477.2,646.7 477.9,646.5 478.6,646.6 479.3,647.6 480.0,647.1 480.7,644.7 481.3,646.3 482.0,646.4 482.7,647.3 483.4,646.5 484.1,645.1 484.8,645.5 485.4,645.1 486.1,645.3 486.8,646.0 487.5,645.7 488.2,645.3 488.9,645.4 489.6,645.8 490.2,645.0 490.9,645.7 491.6,645.4 492.3,644.5 493.0,645.0 493.7,644.8 494.4,645.0 495.0,644.9 495.7,644.8 496.4,644.6 497.1,642.9 497.8,644.8 498.5,644.1 499.1,643.2 499.8,641.5 500.5,641.5 501.2,642.3 501.9,641.8 502.6,640.2 503.3,640.3 503.9,639.5 504.6,639.2 505.3,639.2 506.0,637.1 506.7,637.4 507.4,636.4 508.1,636.1 508.7,636.9 509.4,638.0 510.1,639.1 510.8,638.7 511.5,639.4 512.2,637.8 512.8,637.7 513.5,638.0 514.2,636.5 514.9,636.4 515.6,634.7 516.3,633.3 517.0,632.7 517.6,631.3 518.3,630.5 519.0,630.4 519.7,628.9 520.4,628.5 521.1,629.1 521.8,629.5 522.4,631.4 523.1,633.5 523.8,636.0 524.5,636.5 525.2,637.9 525.9,639.4 526.5,640.1 527.2,641.8 527.9,641.6 528.6,640.4 529.3,640.0 530.0,639.7 530.7,640.0 531.3,638.1 532.0,638.6 532.7,635.8 533.4,633.7 534.1,632.0 534.8,630.7 535.5,626.5 536.1,623.6 536.8,619.3 537.5,617.1 538.2,614.2 538.9,612.5 539.6,610.3 540.2,610.8 540.9,613.9 541.6,618.7 542.3,623.3 543.0,627.5 543.7,628.6 544.4,630.1 545.0,632.3 545.7,629.5 546.4,627.6 547.1,625.2 547.8,617.9 548.5,612.9 549.2,606.3 549.8,598.2 550.5,589.8 551.2,581.6 551.9,572.3 552.6,566.7 553.3,563.9 553.9,566.9 554.6,575.7 555.3,591.8 556.0,605.1 556.7,617.9 557.4,627.1 558.1,633.6 558.7,637.9 559.4,638.8 560.1,641.0 560.8,642.7 561.5,643.4 562.2,642.8 562.9,643.5 563.5,644.1 564.2,644.7 564.9,644.7 565.6,644.3 566.3,643.7 567.0,644.7 567.6,644.2 568.3,645.1 569.0,645.2 569.7,645.4 570.4,644.2 571.1,644.9 571.8,645.3 572.4,645.6 573.1,646.0 573.8,646.0 574.5,645.7 575.2,646.3 575.9,646.1 576.6,645.1 577.2,645.9 577.9,647.0 578.6,645.1 579.3,647.2 580.0,645.6 580.7,646.4 581.3,646.8 582.0,646.6 582.7,645.5 583.4,645.0 584.1,645.5 584.8,646.3 585.5,645.3 586.1,644.5 586.8,645.0 587.5,645.4 588.2,645.6 588.9,646.1 589.6,645.7 590.3,645.9 590.9,644.9 591.6,644.5 592.3,645.3 593.0,646.3 593.7,645.4 594.4,644.3 595.0,645.2 595.7,644.8 596.4,644.5 597.1,644.5 597.8,645.1 598.5,644.2 599.2,644.8 599.8,644.8 600.5,645.1 601.2,644.2 601.9,643.5 602.6,643.5 603.3,642.8 604.0,641.8 604.6,640.5 605.3,641.0 606.0,639.5 606.7,638.3 607.4,637.0 608.1,635.1 608.7,633.5 609.4,632.5 610.1,631.2 610.8,631.9 611.5,631.6 612.2,633.5 612.9,635.0 613.5,637.4 614.2,638.9 614.9,639.8 615.6,642.4 616.3,642.3 617.0,641.8 617.7,644.1 618.3,644.0 619.0,645.2 619.7,643.6 620.4,644.8 621.1,644.3 621.8,645.2 622.4,645.3 623.1,645.3 623.8,644.7 624.5,644.8 625.2,644.9 625.9,646.1 626.6,643.8 627.2,645.2 627.9,645.4 628.6,645.7 629.3,644.8 630.0,644.6 630.7,644.6 631.4,644.5 632.0,644.0 632.7,643.4 633.4,644.3 634.1,644.1 634.8,643.6 635.5,643.3 636.1,643.7 636.8,642.0 637.5,643.7 638.2,643.0 638.9,643.7 639.6,645.3 640.3,644.3 640.9,645.3 641.6,644.6 642.3,645.0 643.0,647.5 643.7,645.7 644.4,644.9 645.1,646.4 645.7,646.5 646.4,646.8 647.1,645.4 647.8,646.4 648.5,645.3 649.2,644.9 649.8,645.3 650.5,646.1 651.2,645.4 651.9,646.5 652.6,645.9 653.3,646.3 654.0,645.3 654.6,645.7 655.3,643.9 656.0,646.6 656.7,646.0 657.4,646.1 658.1,644.5 658.8,645.6 659.4,644.6 660.1,645.7 660.8,645.8 661.5,646.3 662.2,645.7 662.9,645.9 663.5,645.1 664.2,645.3 664.9,645.0 665.6,645.2 666.3,645.4 667.0,645.8 667.7,645.4 668.3,646.0 669.0,645.5 669.7,644.5 670.4,645.2 671.1,645.9 671.8,645.7 672.5,646.2 673.1,645.4 673.8,645.5 674.5,645.3 675.2,644.7 675.9,644.3 676.6,645.5 677.2,643.6 677.9,644.3 678.6,644.8 679.3,644.6 680.0,644.7 680.7,644.0 681.4,644.1 682.0,644.1 682.7,644.5 683.4,644.1 684.1,644.5 684.8,644.1 685.5,644.4 686.2,644.4 686.8,644.3 687.5,643.4 688.2,643.9 688.9,643.5 689.6,643.4 690.3,642.5 690.9,643.6 691.6,644.2 692.3,644.5 693.0,643.4 693.7,643.5 694.4,644.5 695.1,642.9 695.7,642.9 696.4,643.2 697.1,644.0 697.8,642.8 698.5,642.4 699.2,643.0 699.9,642.4 700.5,641.0 701.2,641.5 701.9,642.4 702.6,641.8 703.3,641.8 704.0,641.9 704.6,640.2 705.3,639.5 706.0,640.2 706.7,640.4 707.4,640.7 708.1,639.2 708.8,638.9 709.4,640.3 710.1,640.0 710.8,639.4 711.5,638.9 712.2,639.2 712.9,637.4 713.6,636.7 714.2,636.7 714.9,635.2 715.6,635.6 716.3,636.4 717.0,633.8 717.7,633.8 718.3,633.8 719.0,632.8 719.7,633.4 720.4,633.5 721.1,633.1 721.8,633.8 722.5,632.4 723.1,632.8 723.8,632.7 724.5,630.6 725.2,630.5 725.9,628.4 726.6,627.9 727.3,627.1 727.9,624.0 728.6,623.8 729.3,621.9 730.0,621.5 730.7,619.0 731.4,619.3 732.0,621.0 732.7,620.8 733.4,622.6 734.1,624.5 734.8,628.0 735.5,630.1 736.2,631.3 736.8,634.1 737.5,633.8 738.2,637.5 738.9,635.9 739.6,636.4 740.3,637.9 741.0,637.0 741.6,638.1 742.3,637.2 743.0,637.1 743.7,637.4 744.4,637.2 745.1,636.6 745.7,638.3 746.4,636.9 747.1,635.2 747.8,636.4 748.5,637.0 749.2,636.2 749.9,636.0 750.5,635.0 751.2,636.1 751.9,637.5 752.6,635.8 753.3,635.7 754.0,635.4 754.7,634.0 755.3,634.1 756.0,634.3 756.7,633.6 757.4,634.2 758.1,633.1 758.8,632.5 759.4,631.6 760.1,632.0 760.8,631.4 761.5,630.4 762.2,629.8 762.9,628.8 763.6,628.4 764.2,627.7 764.9,627.5 765.6,626.0 766.3,624.8 767.0,624.4 767.7,622.2 768.4,618.7 769.0,617.6 769.7,616.5 770.4,614.0 771.1,611.4 771.8,608.9 772.5,606.0 773.1,606.0 773.8,603.5 774.5,603.0 775.2,605.5 775.9,608.3 776.6,610.2 777.3,612.6 777.9,615.6 778.6,617.2 779.3,618.0 780.0,619.9 780.7,620.6 781.4,622.0 782.1,621.4 782.7,619.3 783.4,621.0 784.1,619.4 784.8,618.7 785.5,618.8 786.2,617.8 786.8,615.5 787.5,615.8 788.2,613.0 788.9,608.9 789.6,605.0 790.3,602.5 791.0,597.7 791.6,593.3 792.3,588.4 793.0,583.8 793.7,582.6 794.4,583.0 795.1,585.7 795.8,591.3 796.4,598.5 797.1,604.9 797.8,612.7 798.5,614.8 799.2,619.1 799.9,620.6 800.5,622.6 801.2,624.7 801.9,624.9 802.6,624.9 803.3,625.9 804.0,624.5 804.7,624.3 805.3,624.1 806.0,622.7 806.7,620.9 807.4,620.5 808.1,619.1 808.8,617.9 809.5,617.1 810.1,615.1 810.8,615.7 811.5,614.2 812.2,615.0 812.9,617.0 813.6,618.8 814.2,619.9 814.9,621.2 815.6,620.5 816.3,621.6 817.0,620.9 817.7,620.9 818.4,619.6 819.0,619.7 819.7,618.0 820.4,616.9 821.1,617.1 821.8,616.6 822.5,617.5 823.2,616.3 823.8,617.9 824.5,618.6 825.2,620.5 825.9,621.9 826.6,624.8 827.3,626.4 827.9,627.4 828.6,628.6 829.3,629.4 830.0,631.6 830.7,631.8 831.4,631.2 832.1,630.0 832.7,630.9 833.4,628.9 834.1,628.6 834.8,626.9 835.5,625.1 836.2,623.1 836.9,620.6 837.5,616.2 838.2,611.6 838.9,604.9 839.6,598.2 840.3,590.6 841.0,583.4 841.6,574.7 842.3,565.6 843.0,557.2 843.7,547.3 844.4,541.9 845.1,537.1 845.8,534.4 846.4,535.6 847.1,543.6 847.8,555.1 848.5,566.4 849.2,578.2 849.9,591.7 850.6,600.1 851.2,606.9 851.9,615.1 852.6,619.9 853.3,623.4 854.0,625.6 854.7,626.9 855.3,628.4 856.0,628.8 856.7,629.7 857.4,630.2 858.1,630.8 858.8,630.2 859.5,630.1 860.1,630.0 860.8,629.5 861.5,628.7 862.2,628.0 862.9,627.8 863.6,627.0 864.3,628.3 864.9,628.3 865.6,630.5 866.3,630.2 867.0,629.5 867.7,633.1 868.4,634.0 869.0,634.4 869.7,636.4 870.4,638.9 871.1,636.9 871.8,638.3 872.5,640.0 873.2,640.2 873.8,638.3 874.5,639.2 875.2,640.3 875.9,641.4 876.6,640.1 877.3,640.0 878.0,639.9 878.6,639.2 879.3,640.2 880.0,641.4 880.7,639.8 881.4,639.8 882.1,641.1 882.7,640.9 883.4,641.0 884.1,641.1 884.8,640.5 885.5,640.6 886.2,640.6 886.9,641.6 887.5,640.6 888.2,641.4 888.9,640.5 889.6,641.2 890.3,640.7 891.0,640.4 891.7,640.9 892.3,640.4 893.0,639.2 893.7,640.5 894.4,641.5 895.1,641.2 895.8,640.5 896.4,640.3 897.1,638.9 897.8,640.0 898.5,640.5 899.2,639.9 899.9,639.1 900.6,640.4 901.2,641.0 901.9,641.0 902.6,640.2 903.3,640.4 904.0,640.4 904.7,639.9 905.4,641.3 906.0,640.4 906.7,639.9 907.4,639.6 908.1,642.5 908.8,641.7 909.5,640.1 910.1,641.0 910.8,641.9 911.5,642.4 912.2,642.4 912.9,641.4 913.6,640.9 914.3,641.7 914.9,642.5 915.6,640.9 916.3,641.8 917.0,641.9 917.7,641.0 918.4,642.2 919.1,641.5 919.7,641.9 920.4,642.2 921.1,642.7 921.8,640.4 922.5,642.0 923.2,640.7 923.8,640.8 924.5,642.3 925.2,641.5 925.9,642.0 926.6,641.8 927.3,641.4 928.0,641.1 928.6,640.9 929.3,640.9 930.0,641.8 930.7,641.6 931.4,641.8 932.1,641.7 932.8,641.1 933.4,641.1 934.1,642.1 934.8,640.8 935.5,639.3 936.2,640.2 936.9,641.5 937.5,641.0 938.2,640.5 938.9,641.4 939.6,641.9 940.3,641.1 941.0,641.5 941.7,641.4 942.3,641.0 943.0,638.9 943.7,640.6 944.4,640.7 945.1,640.1 945.8,640.6 946.5,640.1 947.1,640.6 947.8,641.1 948.5,639.5 949.2,639.4 949.9,640.2 950.6,640.4 951.2,640.0 951.9,638.8 952.6,638.4 953.3,637.9 954.0,636.4 954.7,636.3 955.4,636.3 956.0,635.4 956.7,635.0 957.4,634.2 958.1,633.1 958.8,634.5 959.5,633.5 960.2,634.7 960.8,633.2 961.5,633.4 962.2,633.7 962.9,635.0 963.6,634.6 964.3,635.1 964.9,637.0 965.6,637.6 966.3,638.3 967.0,638.6 967.7,639.1 968.4,639.7 969.1,639.9 969.7,641.1 970.4,641.4 971.1,641.1 971.8,640.3 972.5,641.5 973.2,641.5 973.9,640.9 974.5,640.5 975.2,641.4 975.9,641.3 976.6,641.8 977.3,641.8 978.0,641.3 978.6,641.1 979.3,641.9 980.0,641.2 980.7,640.9 981.4,640.4 982.1,640.8 982.8,640.8 983.4,641.0 984.1,640.9 984.8,641.1 985.5,639.8 986.2,641.5 986.9,641.5 987.6,640.5 988.2,640.3 988.9,640.1 989.6,639.6 990.3,640.6 991.0,640.5 991.7,640.6 992.3,639.1 993.0,639.2 993.7,638.3 994.4,639.4 995.1,639.6 995.8,639.2 996.5,639.1 997.1,639.9 997.8,638.2 998.5,639.0 999.2,641.2 999.9,639.7 1000.6,639.4 1001.3,641.7 1001.9,640.7 1002.6,640.8 1003.3,640.5 1004.0,641.5 1004.7,641.0 1005.4,642.7 1006.0,641.6 1006.7,642.1 1007.4,642.4 1008.1,642.1 1008.8,642.1 1009.5,642.6 1010.2,642.5 1010.8,643.1 1011.5,642.5 1012.2,640.9 1012.9,642.0 1013.6,642.6 1014.3,642.0 1015.0,642.9 1015.6,642.9 1016.3,643.1 1017.0,643.6 1017.7,642.8 1018.4,643.3 1019.1,643.0 1019.7,643.5 1020.4,642.9 1021.1,642.4 1021.8,643.5 1022.5,642.0 1023.2,641.9 1023.9,642.6 1024.5,643.0 1025.2,642.3 1025.9,643.1 1026.6,643.1 1027.3,642.0 1028.0,642.5 1028.7,642.6 1029.3,643.5 1030.0,642.7 1030.7,643.5 1031.4,644.2 1032.1,643.9 1032.8,642.2 1033.4,642.6 1034.1,642.7 1034.8,643.2 1035.5,643.0 1036.2,643.2 1036.9,642.4 1037.6,642.1 1038.2,643.1 1038.9,643.1 1039.6,643.7 1040.3,642.8 1041.0,643.7 1041.7,644.5 1042.4,643.0 1043.0,643.4 1043.7,642.7 1044.4,642.1 1045.1,643.0 1045.8,642.1 1046.5,642.2 1047.1,643.0 1047.8,643.5 1048.5,643.7 1049.2,642.8 1049.9,643.4 1050.6,643.3 1051.3,643.1 1051.9,642.7 1052.6,642.9 1053.3,642.7 1054.0,643.2 1054.7,642.3 1055.4,644.2 1056.1,643.3 1056.7,643.3 1057.4,643.8 1058.1,643.8 1058.8,643.7 1059.5,644.0 1060.2,644.6 1060.8,644.7 1061.5,643.8 1062.2,644.4 1062.9,645.3 1063.6,643.3 1064.3,644.3 1065.0,644.9 1065.6,645.6 1066.3,645.2 1067.0,643.9 1067.7,645.5 1068.4,644.0 1069.1,644.3 1069.8,644.2 1070.4,644.6 1071.1,644.9 1071.8,643.4 1072.5,644.9 1073.2,644.0 1073.9,643.3 1074.5,643.3 1075.2,644.6 1075.9,643.6 1076.6,643.8 1077.3,644.2 1078.0,643.4 1078.7,643.2 1079.3,643.0 1080.0,644.2 1080.7,643.3 1081.4,643.1 1082.1,644.6 1082.8,645.5 1083.5,644.9 1084.1,644.4 1084.8,643.9 1085.5,644.3 1086.2,644.5 1086.9,644.9 1087.6,645.2 1088.2,644.0 1088.9,644.3 1089.6,644.9 1090.3,645.3 1091.0,643.0 1091.7,643.8 1092.4,644.6 1093.0,644.1 1093.7,643.2 1094.4,643.7 1095.1,644.5 1095.8,644.7 1096.5,644.4 1097.2,643.2 1097.8,643.7 1098.5,644.6 1099.2,643.3 1099.9,643.6 1100.6,644.7 1101.3,642.4 1101.9,643.5 1102.6,643.2 1103.3,643.7 1104.0,643.3 1104.7,643.0 1105.4,642.4 1106.1,641.8 1106.7,642.6 1107.4,641.0 1108.1,640.8 1108.8,641.2 1109.5,642.1 1110.2,642.7 1110.9,641.1 1111.5,642.1 1112.2,643.2 1112.9,643.0 1113.6,643.2 1114.3,643.5 1115.0,644.6 1115.6,644.2 1116.3,644.2 1117.0,645.5 1117.7,644.4 1118.4,644.8 1119.1,644.7 1119.8,645.7 1120.4,645.4 1121.1,644.9 1121.8,645.3 1122.5,645.2 1123.2,646.4 1123.9,645.8 1124.6,645.8 1125.2,646.3 1125.9,644.5 1126.6,645.5 1127.3,645.9 1128.0,645.7 1128.7,645.7 1129.3,646.4 1130.0,645.4 1130.7,646.6 1131.4,644.4 1132.1,645.0 1132.8,646.6 1133.5,645.4 1134.1,645.6 1134.8,647.1 1135.5,646.5 1136.2,645.4 1136.9,645.9 1137.6,646.0 1138.3,645.7 1138.9,645.9 1139.6,646.6 1140.3,645.7 1141.0,646.3 1141.7,645.9 1142.4,645.2 1143.0,646.2 1143.7,646.3 1144.4,645.9 1145.1,645.5 1145.8,644.7 1146.5,646.7 1147.2,645.5 1147.8,644.9 1148.5,647.2 1149.2,645.9 1149.9,647.2 1150.6,646.9 1151.3,646.3 1152.0,645.7 1152.6,645.7 1153.3,646.6 1154.0,646.3 1154.7,646.9 1155.4,645.9 1156.1,646.1 1156.7,645.4 1157.4,646.5 1158.1,646.4 1158.8,645.9 1159.5,646.9 1160.2,647.8 1160.9,645.6 1161.5,646.4 1162.2,647.1 1162.9,647.3 1163.6,646.5 1164.3,645.9 1165.0,646.4 1165.7,647.2 1166.3,646.4 1167.0,646.8 1167.7,646.9 1168.4,646.4 1169.1,647.0 1169.8,646.3 1170.4,645.4 1171.1,645.8 1171.8,646.8 1172.5,647.0 1173.2,646.9 1173.9,646.8 1174.6,645.8 1175.2,645.6 1175.9,646.9 1176.6,646.7 1177.3,647.1 1178.0,646.6 1178.7,646.6 1179.4,646.4 1180.0,646.3 1180.7,644.5 1181.4,645.8 1182.1,644.5 1182.8,645.8 1183.5,645.7 1184.1,644.8 1184.8,645.3 1185.5,644.6 1186.2,643.8 1186.9,643.8 1187.6,643.9 1188.3,643.7 1188.9,642.7 1189.6,643.0 1190.3,642.8 1191.0,642.3 1191.7,642.9 1192.4,642.1 1193.1,643.3 1193.7,642.6 1194.4,641.9 1195.1,643.9 1195.8,644.1 1196.5,645.8 1197.2,644.9 1197.8,646.7 1198.5,645.5 1199.2,645.7 1199.9,647.1 1200.6,646.5 1201.3,647.4 1202.0,647.0 1202.6,646.7 1203.3,646.2 1204.0,646.0 1204.7,647.0 1205.4,645.5 1206.1,647.1 1206.8,646.7 1207.4,646.3 1208.1,646.1 1208.8,646.1 1209.5,646.6 1210.2,646.0 1210.9,646.6 1211.5,646.0 1212.2,646.8 1212.9,645.4 1213.6,647.3 1214.3,646.0 1215.0,648.0 1215.7,647.6 1216.3,646.5 1217.0,647.3 1217.7,648.1 1218.4,646.3 1219.1,647.4 1219.8,647.5 1220.5,647.3 1221.1,647.1 1221.8,647.5 1222.5,647.3 1223.2,647.5 1223.9,647.6 1224.6,647.2 1225.2,648.5 1225.9,647.8 1226.6,647.0 1227.3,647.3 1228.0,647.9 1228.7,648.6 1229.4,647.8 1230.0,648.3 1230.7,647.7 1231.4,648.4 1232.1,648.1 1232.8,647.0 1233.5,649.2 1234.2,647.9 1234.8,648.4 1235.5,648.8 1236.2,649.6 1236.9,648.7 1237.6,649.0 1238.3,648.9 1238.9,648.7 1239.6,648.2 1240.3,647.9 1241.0,648.1 1241.7,649.1 1242.4,650.4 1243.1,648.3 1243.7,648.4 1244.4,647.0 1245.1,648.9 1245.8,648.7 1246.5,647.5 1247.2,648.1 1247.9,648.5 1248.5,648.2 1249.2,648.7 1249.9,648.5 1250.6,648.2 1251.3,648.4 1252.0,649.0 1252.6,648.0 1253.3,648.3 1254.0,648.2 1254.7,648.9 1255.4,647.7 1256.1,648.2 1256.8,647.2 1257.4,648.3 1258.1,648.9 1258.8,647.3 1259.5,648.9 1260.2,648.3 1260.9,648.2 1261.6,648.5 1262.2,648.8 1262.9,648.9 1263.6,648.9 1264.3,648.2 1265.0,648.6 1265.7,648.7 1266.3,648.9 1267.0,648.9 1267.7,648.5 1268.4,647.1 1269.1,647.8 1269.8,648.2 1270.5,648.1 1271.1,648.4 1271.8,648.0 1272.5,646.1 1273.2,648.0 1273.9,645.8 1274.6,646.8 1275.3,646.1 1275.9,646.8 1276.6,646.7 1277.3,644.8 1278.0,646.3 1278.7,645.6 1279.4,645.8 1280.0,646.4 1280.7,647.4 1281.4,646.1 1282.1,646.9 1282.8,646.6 1283.5,646.9 1284.2,646.8 1284.8,647.8 1285.5,646.7 1286.2,647.5 1286.9,647.1 1287.6,647.8 1288.3,647.9 1289.0,648.6 1289.6,647.7 1290.3,648.4 1291.0,648.2 1291.7,647.6 1292.4,647.1 1293.1,647.8 1293.7,647.7 1294.4,648.0 1295.1,647.5 1295.8,648.2 1296.5,647.9 1297.2,647.1 1297.9,646.4 1298.5,647.2 1299.2,646.5 1299.9,647.3 1300.6,647.5 1301.3,646.4 1302.0,646.1 1302.7,645.2 1303.3,646.8 1304.0,646.9 1304.7,646.7 1305.4,647.0 1306.1,647.0 1306.8,645.6 1307.4,646.0 1308.1,646.2 1308.8,646.9 1309.5,645.7 1310.2,645.8 1310.9,646.8 1311.6,645.7 1312.2,646.9 1312.9,647.6 1313.6,647.3 1314.3,646.9 1315.0,646.7 1315.7,647.9 1316.4,647.7 1317.0,647.2 1317.7,647.6 1318.4,646.9 1319.1,646.1 1319.8,647.6 1320.5,647.1 1321.1,647.5 1321.8,647.7 1322.5,647.4 1323.2,646.2 1323.9,647.5 1324.6,648.0 1325.3,647.1 1325.9,647.0 1326.6,648.2 1327.3,647.1 1328.0,647.3 1328.7,647.1 1329.4,648.2 1330.1,647.2 1330.7,646.4 1331.4,648.3 1332.1,648.4 1332.8,648.5 1333.5,646.7 1334.2,647.6 1334.8,648.0 1335.5,647.5 1336.2,645.8 1336.9,647.0 1337.6,647.6 1338.3,647.2 1339.0,646.1 1339.6,647.3 1340.3,646.0 1341.0,646.7 1341.7,647.0 1342.4,646.2 1343.1,646.4 1343.8,646.4 1344.4,647.1 1345.1,645.6 1345.8,646.4 1346.5,647.0 1347.2,646.4 1347.9,647.2 1348.5,647.1 1349.2,647.2 1349.9,646.9 1350.6,647.3 1351.3,646.8 1352.0,647.2 1352.7,647.0 1353.3,645.9 1354.0,645.6 1354.7,647.3 1355.4,646.7 1356.1,646.3 1356.8,645.7 1357.5,646.2 1358.1,646.6 1358.8,644.9 1359.5,646.0 1360.2,647.0 1360.9,645.8 1361.6,646.1 1362.2,645.1 1362.9,645.5 1363.6,646.3 1364.3,644.9 1365.0,645.5 1365.7,645.1 1366.4,644.5 1367.0,645.2 1367.7,645.3 1368.4,645.1 1369.1,645.8 1369.8,645.3 1370.5,643.2 1371.2,644.1 1371.8,645.4 1372.5,644.8 1373.2,645.2 1373.9,645.4 1374.6,645.7 1375.3,644.8 1375.9,646.1 1376.6,645.1 1377.3,644.9 1378.0,645.7 1378.7,646.4 1379.4,644.3 1380.1,645.5 1380.7,646.4 1381.4,646.7 1382.1,645.9 1382.8,646.1 1383.5,645.8 1384.2,645.3 1384.9,646.0 1385.5,645.0 1386.2,645.7 1386.9,646.2 1387.6,646.8 1388.3,646.7 1389.0,646.6 1389.6,644.8 1390.3,646.2 1391.0,646.3 1391.7,648.3 1392.4,646.2 1393.1,646.8 1393.8,646.3 1394.4,645.5 1395.1,644.8 1395.8,646.3 1396.5,646.2 1397.2,646.5 1397.9,646.4 1398.6,645.8 1399.2,647.9 1399.9,645.9 1400.6,646.4 1401.3,644.6 1402.0,644.8 1402.7,645.0 1403.3,645.7 1404.0,645.8 1404.7,646.1 1405.4,646.2 1406.1,645.1 1406.8,645.2 1407.5,644.6 1408.1,646.1 1408.8,646.4 1409.5,646.7 1410.2,646.9 1410.9,647.1 1411.6,645.9 1412.3,646.8 1412.9,645.7 1413.6,646.8 1414.3,646.3 1415.0,644.9 1415.7,645.2 1416.4,645.4 1417.0,645.7 1417.7,645.0 1418.4,646.0 1419.1,646.7 1419.8,645.0 1420.5,645.9 1421.2,646.2 1421.8,646.1 1422.5,645.1 1423.2,644.4 1423.9,645.8 1424.6,646.8 1425.3,646.1 1426.0,645.8 1426.6,646.5 1427.3,646.5 1428.0,645.6 1428.7,646.0 1429.4,645.4 1430.1,645.6 1430.7,643.3 1431.4,645.9 1432.1,645.2 1432.8,644.8 1433.5,645.7 1434.2,644.8 1434.9,646.3 1435.5,645.4 1436.2,645.8 1436.9,645.2 1437.6,644.9 1438.3,644.5 1439.0,645.6 1439.7,645.0 1440.3,645.3 1441.0,645.3 1441.7,645.6 1442.4,645.8 1443.1,644.9 1443.8,645.4 1444.4,644.6 1445.1,646.1 1445.8,645.3 1446.5,645.3 1447.2,646.4 1447.9,645.8 1448.6,644.7 1449.2,645.5 1449.9,645.5 1450.6,644.4 1451.3,645.7 1452.0,645.7 1452.7,646.1 1453.4,646.2 1454.0,645.2 1454.7,646.7 1455.4,645.5 1456.1,646.2 1456.8,647.3 1457.5,647.4 1458.1,645.7 1458.8,647.1 1459.5,645.5 1460.2,647.5 1460.9,645.8 1461.6,646.3 1462.3,645.7 1462.9,645.1 1463.6,647.3 1464.3,646.0 1465.0,646.1 1465.7,645.8 1466.4,646.4 1467.1,645.9 1467.7,646.7 1468.4,646.4 1469.1,646.0 1469.8,645.5 1470.5,646.6 1471.2,646.9 1471.8,645.9 1472.5,644.8 1473.2,645.6 1473.9,646.5 1474.6,645.8 1475.3,646.4 1476.0,647.3 1476.6,646.5 1477.3,646.7 1478.0,647.0 1478.7,646.5 1479.4,647.2 1480.1,646.9 1480.8,646.7 1481.4,646.2 1482.1,645.1 1482.8,646.8 1483.5,646.7 1484.2,647.2 1484.9,646.9 1485.5,645.6 1486.2,647.3 1486.9,646.7 1487.6,646.6 1488.3,645.4 1489.0,647.3 1489.7,647.4 1490.3,647.5 1491.0,646.8 1491.7,647.4 1492.4,647.1 1493.1,646.2 1493.8,646.1 1494.5,645.1 1495.1,647.0 1495.8,646.9 1496.5,646.2 1497.2,648.1 1497.9,645.8 1498.6,647.6 1499.2,647.2 1499.9,645.5 1500.6,646.5 1501.3,646.4 1502.0,646.0 1502.7,646.9 1503.4,645.8 1504.0,646.4 1504.7,647.7 1505.4,646.7 1506.1,646.2 1506.8,646.9 1507.5,646.6 1508.2,645.9 1508.8,646.5 1509.5,644.9 1510.2,646.4 1510.9,645.9 1511.6,646.7 1512.3,647.1 1512.9,646.9 1513.6,648.1 1514.3,646.3 1515.0,645.5 1515.7,647.6 1516.4,647.2 1517.1,646.5 1517.7,646.7 1518.4,647.9 1519.1,647.6 1519.8,646.2 1520.5,646.4 1521.2,648.2 1521.9,646.2 1522.5,647.1 1523.2,647.5 1523.9,646.6 1524.6,647.3 1525.3,647.8 1526.0,648.0 1526.6,646.5 1527.3,647.2 1528.0,646.2 1528.7,646.2 1529.4,647.1 1530.1,647.0 1530.8,647.3 1531.4,646.6 1532.1,645.3 1532.8,646.7 1533.5,645.7 1534.2,646.7 1534.9,647.2 1535.6,646.0 1536.2,646.9 1536.9,645.6 1537.6,645.1 1538.3,648.0 1539.0,646.6 1539.7,646.6 1540.3,647.7 1541.0,647.6 1541.7,647.1 1542.4,646.7 1543.1,645.9 1543.8,646.0 1544.5,647.2 1545.1,646.3 1545.8,646.6 1546.5,645.8 1547.2,647.4 1547.9,646.4 1548.6,646.9 1549.3,646.7 1549.9,646.0 1550.6,647.0 1551.3,646.7 1552.0,646.7 1552.7,646.9 1553.4,646.8 1554.0,647.5 1554.7,646.6 1555.4,646.6 1556.1,647.0 1556.8,647.6 1557.5,647.8 1558.2,646.3 1558.8,647.5 1559.5,646.4 1560.2,647.9 1560.9,648.5 1561.6,648.1 1562.3,646.7 1563.0,647.3 1563.6,647.4 1564.3,648.7 1565.0,647.3 1565.7,646.6 1566.4,646.9 1567.1,646.8 1567.7,646.9 1568.4,647.1 1569.1,648.0 1569.8,647.8 1570.5,647.9 1571.2,646.6 1571.9,648.0 1572.5,647.4 1573.2,647.8 1573.9,647.2 1574.6,647.3 1575.3,647.2 1576.0,646.6 1576.7,646.3 1577.3,647.5 1578.0,647.9 1578.7,647.4 1579.4,647.5 1580.1,648.2 1580.8,647.2 1581.4,647.6 1582.1,647.3 1582.8,647.9 1583.5,648.9 1584.2,647.5 1584.9,647.6 1585.6,649.2 1586.2,648.7 1586.9,648.5 1587.6,647.5 1588.3,647.6 1589.0,647.8 1589.7,648.7 1590.4,648.8 1591.0,646.4 1591.7,648.4 1592.4,648.7 1593.1,647.9 1593.8,646.8 1594.5,648.6 1595.1,648.7 1595.8,647.8 1596.5,647.3 1597.2,647.4 1597.9,649.3 1598.6,648.9 1599.3,649.6 1599.9,647.3 1600.6,648.6 1601.3,649.6 1602.0,648.2 1602.7,648.8 1603.4,648.9 1604.1,649.3 1604.7,648.2 1605.4,647.0 1606.1,647.4 1606.8,647.6 1607.5,647.3 1608.2,647.7 1608.8,646.9 1609.5,647.4 1610.2,648.6 1610.9,647.3 1611.6,648.5 1612.3,648.4 1613.0,647.9 1613.6,647.8 1614.3,648.1 1615.0,649.2 1615.7,649.1 1616.4,648.2 1617.1,648.7 1617.8,647.6 1618.4,649.6 1619.1,646.8 1619.8,649.1 1620.5,649.0 1621.2,648.9 1621.9,648.1 1622.5,647.8 1623.2,648.3 1623.9,649.2 1624.6,648.8 1625.3,649.4 1626.0,649.2 1626.7,648.7 1627.3,649.3 1628.0,649.1 1628.7,648.0 1629.4,649.2 1630.1,648.5 1630.8,649.1 1631.5,648.3 1632.1,648.1 1632.8,648.0 1633.5,648.6 1634.2,648.8 1634.9,648.5 1635.6,647.7 1636.2,648.9 1636.9,647.8 1637.6,647.9 1638.3,648.4 1639.0,648.7 1639.7,648.5 1640.4,648.2 1641.0,648.1 1641.7,647.2 1642.4,649.1 1643.1,648.3 1643.8,649.3 1644.5,648.8 1645.2,647.6 1645.8,648.7 1646.5,649.2 1647.2,649.6 1647.9,647.8 1648.6,649.2 1649.3,649.4 1649.9,649.7 1650.6,649.9 1651.3,648.1 1652.0,648.8 1652.7,648.2 1653.4,647.9 1654.1,649.5 1654.7,648.6 1655.4,648.5 1656.1,648.7 1656.8,649.0 1657.5,649.0 1658.2,648.5 1658.9,647.9 1659.5,647.6 1660.2,647.6 1660.9,648.6 1661.6,649.2 1662.3,648.4 1663.0,649.8 1663.6,650.1 1664.3,649.4 1665.0,648.7 1665.7,648.9 1666.4,649.0 1667.1,649.0 1667.8,649.1 1668.4,647.6 1669.1,648.9 1669.8,649.8 1670.5,649.6 1671.2,650.0 1671.9,650.3 1672.6,648.7 1673.2,648.9 1673.9,649.4 1674.6,648.4 1675.3,650.7 1676.0,650.4 1676.7,647.7 1677.3,650.3 1678.0,650.2 1678.7,649.9 1679.4,649.9"/>
<polyline stroke="#9933ff" stroke-width="12.5" points="172.4,488.1 173.1,488.1 173.8,486.7 174.5,487.3 175.1,488.9 175.8,488.0 176.5,488.2 177.2,488.4 177.9,487.5 178.6,488.0 179.3,487.7 179.9,488.6 180.6,488.6 181.3,488.7 182.0,488.9 182.7,489.2 183.4,489.1 184.0,490.0 184.7,489.7 185.4,489.3 186.1,490.2 186.8,490.2 187.5,489.4 188.2,489.9 188.8,490.2 189.5,489.6 190.2,490.8 190.9,490.2 191.6,490.9 192.3,491.4 193.0,490.0 193.6,489.4 194.3,489.9 195.0,490.6 195.7,492.3 196.4,490.3 197.1,491.8 197.7,492.2 198.4,491.4 199.1,491.2 199.8,492.1 200.5,491.6 201.2,491.5 201.9,491.6 202.5,493.3 203.2,491.9 203.9,490.7 204.6,490.8 205.3,492.1 206.0,492.5 206.7,492.8 207.3,492.2 208.0,492.5 208.7,493.0 209.4,494.0 210.1,493.0 210.8,491.3 211.4,493.3 212.1,492.9 212.8,493.4 213.5,492.5 214.2,492.5 214.9,493.4 215.6,493.3 216.2,493.5 216.9,493.3 217.6,492.5 218.3,492.9 219.0,493.8 219.7,492.4 220.4,494.3 221.0,494.2 221.7,492.9 222.4,493.5 223.1,493.8 223.8,492.8 224.5,492.4 225.1,493.1 225.8,493.1 226.5,493.0 227.2,493.6 227.9,494.8 228.6,495.8 229.3,493.9 229.9,493.8 230.6,494.4 231.3,492.2 232.0,495.1 232.7,494.5 233.4,494.3 234.1,495.3 234.7,494.5 235.4,495.0 236.1,494.3 236.8,493.3 237.5,495.6 238.2,495.1 238.8,496.2 239.5,495.2 240.2,495.1 240.9,494.7 241.6,496.1 242.3,495.4 243.0,495.7 243.6,494.1 244.3,494.7 245.0,494.2 245.7,495.1 246.4,495.6 247.1,494.8 247.8,494.8 248.4,494.8 249.1,496.2 249.8,495.5 250.5,494.6 251.2,496.5 251.9,495.7 252.5,494.9 253.2,494.7 253.9,495.9 254.6,496.0 255.3,495.6 256.0,493.8 256.7,495.9 257.3,495.3 258.0,495.6 258.7,494.2 259.4,496.1 260.1,495.6 260.8,495.2 261.5,494.5 262.1,495.1 262.8,495.0 263.5,495.9 264.2,494.6 264.9,494.9 265.6,495.9 266.2,493.7 266.9,495.2 267.6,495.0 268.3,495.3 269.0,495.8 269.7,494.1 270.4,494.6 271.0,493.4 271.7,492.4 272.4,494.6 273.1,493.8 273.8,494.2 274.5,492.8 275.2,493.0 275.8,492.8 276.5,492.0 277.2,493.4 277.9,493.1 278.6,494.6 279.3,493.8 279.9,495.1 280.6,494.4 281.3,495.2 282.0,495.2 282.7,496.3 283.4,495.9 284.1,494.3 284.7,496.1 285.4,496.4 286.1,497.3 286.8,496.2 287.5,496.7 288.2,497.3 288.9,496.2 289.5,495.7 290.2,496.0 290.9,496.5 291.6,496.5 292.3,496.1 293.0,496.2 293.6,496.1 294.3,496.6 295.0,497.1 295.7,496.0 296.4,497.5 297.1,496.7 297.8,496.9 298.4,497.3 299.1,496.7 299.8,496.8 300.5,497.2 301.2,495.2 301.9,497.0 302.6,497.3 303.2,497.2 303.9,496.1 304.6,496.0 305.3,497.4 306.0,496.7 306.7,497.0 307.3,496.2 308.0,496.2 308.7,496.6 309.4,496.8 310.1,496.8 310.8,495.7 311.5,496.4 312.1,495.8 312.8,496.6 313.5,496.1 314.2,496.8 314.9,496.6 315.6,495.5 316.3,496.3 316.9,497.7 317.6,496.6 318.3,496.5 319.0,497.6 319.7,497.3 320.4,496.8 321.0,496.7 321.7,497.0 322.4,496.6 323.1,496.0 323.8,496.4 324.5,496.8 325.2,496.3 325.8,497.3 326.5,496.5 327.2,495.2 327.9,497.8 328.6,496.7 329.3,497.3 330.0,496.0 330.6,497.4 331.3,496.4 332.0,496.6 332.7,495.2 333.4,497.5 334.1,494.6 334.7,497.2 335.4,496.6 336.1,496.1 336.8,497.3 337.5,496.1 338.2,496.3 338.9,496.4 339.5,497.7 340.2,496.1 340.9,496.6 341.6,496.5 342.3,497.4 343.0,496.7 343.7,497.1 344.3,496.4 345.0,495.4 345.7,497.3 346.4,496.6 347.1,496.7 347.8,497.1 348.4,497.7 349.1,496.6 349.8,496.2 350.5,497.0 351.2,496.1 351.9,497.2 352.6,497.0 353.2,495.6 353.9,495.6 354.6,496.4 355.3,495.1 356.0,495.4 356.7,494.8 357.4,495.3 358.0,494.8 358.7,494.4 359.4,495.0 360.1,494.1 360.8,494.3 361.5,494.4 362.1,494.3 362.8,494.2 363.5,493.7 364.2,493.4 364.9,494.1 365.6,494.3 366.3,493.0 366.9,493.8 367.6,492.9 368.3,494.1 369.0,493.0 369.7,491.3 370.4,492.1 371.1,491.3 371.7,490.8 372.4,489.0 373.1,489.3 373.8,486.6 374.5,486.8 375.2,484.2 375.8,481.7 376.5,480.2 377.2,477.1 377.9,473.9 378.6,470.1 379.3,467.6 380.0,465.4 380.6,463.9 381.3,465.9 382.0,472.4 382.7,480.0 383.4,484.8 384.1,488.8 384.8,490.7 385.4,494.4 386.1,494.5 386.8,495.8 387.5,493.9 388.2,496.2 388.9,496.1 389.5,497.0 390.2,496.7 390.9,495.8 391.6,496.6 392.3,494.9 393.0,496.2 393.7,496.2 394.3,496.7 395.0,496.3 395.7,495.9 396.4,495.5 397.1,496.5 397.8,496.8 398.5,495.7 399.1,495.6 399.8,495.8 400.5,497.5 401.2,496.1 401.9,496.4 402.6,497.0 403.2,495.5 403.9,495.4 404.6,497.3 405.3,496.8 406.0,496.0 406.7,495.5 407.4,496.2 408.0,497.2 408.7,496.2 409.4,496.8 410.1,496.9 410.8,497.0 411.5,495.4 412.2,496.4 412.8,495.5 413.5,496.6 414.2,497.0 414.9,496.5 415.6,497.5 416.3,496.7 416.9,496.0 417.6,496.6 418.3,496.6 419.0,496.6 419.7,497.3 420.4,495.8 421.1,496.6 421.7,496.0 422.4,496.6 423.1,496.5 423.8,496.4 424.5,496.4 425.2,495.4 425.9,496.4 426.5,496.8 427.2,496.4 427.9,496.7 428.6,497.2 429.3,497.1 430.0,496.1 430.6,496.3 431.3,496.9 432.0,497.7 432.7,497.1 433.4,496.0 434.1,495.8 434.8,497.1 435.4,496.5 436.1,497.4 436.8,496.9 437.5,496.1 438.2,496.7 438.9,497.2 439.6,496.8 440.2,495.5 440.9,496.5 441.6,495.5 442.3,495.5 443.0,496.7 443.7,496.2 444.3,495.7 445.0,496.8 445.7,495.2 446.4,495.8 447.1,497.0 447.8,497.0 448.5,497.3 449.1,497.0 449.8,495.3 450.5,495.8 451.2,495.4 451.9,496.3 452.6,495.4 453.3,495.4 453.9,495.0 454.6,496.0 455.3,496.8 456.0,495.8 456.7,496.2 457.4,495.9 458.0,497.1 458.7,495.7 459.4,497.2 460.1,494.8 460.8,496.0 461.5,495.7 462.2,497.0 462.8,497.9 463.5,496.0 464.2,494.7 464.9,495.7 465.6,496.4 466.3,496.8 467.0,496.4 467.6,496.0 468.3,496.9 469.0,495.5 469.7,495.5 470.4,496.1 471.1,494.1 471.7,496.3 472.4,495.8 473.1,496.0 473.8,496.6 474.5,496.7 475.2,496.5 475.9,496.0 476.5,495.7 477.2,496.1 477.9,495.9 478.6,496.0 479.3,495.7 480.0,496.0 480.7,494.9 481.3,495.3 482.0,494.7 482.7,494.4 483.4,495.7 484.1,495.1 484.8,494.8 485.4,495.8 486.1,495.5 486.8,496.2 487.5,495.4 488.2,495.7 488.9,495.7 489.6,495.7 490.2,495.7 490.9,495.7 491.6,492.8 492.3,495.1 493.0,494.6 493.7,495.0 494.4,494.8 495.0,493.8 495.7,494.4 496.4,493.7 497.1,494.1 497.8,493.7 498.5,492.6 499.1,492.0 499.8,492.7 500.5,491.2 501.2,491.4 501.9,490.4 502.6,490.7 503.3,490.5 503.9,489.7 504.6,489.7 505.3,489.1 506.0,489.2 506.7,489.7 507.4,488.3 508.1,489.0 508.7,488.2 509.4,489.7 510.1,489.8 510.8,490.0 511.5,490.3 512.2,489.6 512.8,488.4 513.5,487.4 514.2,488.1 514.9,485.9 515.6,486.2 516.3,483.8 517.0,482.2 517.6,483.6 518.3,481.1 519.0,480.1 519.7,480.2 520.4,481.8 521.1,479.2 521.8,480.5 522.4,482.9 523.1,484.8 523.8,485.8 524.5,488.4 525.2,488.2 525.9,490.9 526.5,490.7 527.2,489.6 527.9,492.0 528.6,490.7 529.3,490.1 530.0,491.1 530.7,489.7 531.3,488.9 532.0,487.8 532.7,486.1 533.4,484.5 534.1,482.2 534.8,480.0 535.5,476.5 536.1,476.1 536.8,472.6 537.5,468.6 538.2,466.6 538.9,464.4 539.6,462.9 540.2,462.6 540.9,465.7 541.6,470.5 542.3,474.8 543.0,478.5 543.7,480.4 544.4,481.5 545.0,482.0 545.7,481.3 546.4,478.9 547.1,476.7 547.8,470.4 548.5,465.5 549.2,459.2 549.8,451.0 550.5,444.5 551.2,434.9 551.9,429.1 552.6,424.3 553.3,421.1 553.9,423.5 554.6,433.4 555.3,445.3 556.0,459.0 556.7,469.6 557.4,478.1 558.1,484.4 558.7,487.4 559.4,490.7 560.1,490.5 560.8,489.9 561.5,491.9 562.2,492.8 562.9,493.0 563.5,493.0 564.2,494.7 564.9,494.1 565.6,494.2 566.3,494.3 567.0,495.0 567.6,493.0 568.3,494.1 569.0,495.3 569.7,494.8 570.4,494.6 571.1,495.5 571.8,494.1 572.4,495.2 573.1,495.0 573.8,496.6 574.5,495.6 575.2,495.5 575.9,495.1 576.6,495.2 577.2,495.3 577.9,495.0 578.6,495.6 579.3,495.5 580.0,495.3 580.7,495.4 581.3,495.0 582.0,496.1 582.7,495.2 583.4,496.0 584.1,495.2 584.8,496.6 585.5,496.6 586.1,496.1 586.8,495.8 587.5,495.7 588.2,495.9 588.9,495.7 589.6,496.6 590.3,496.0 590.9,496.0 591.6,496.1 592.3,494.9 593.0,495.8 593.7,495.1 594.4,495.5 595.0,494.9 595.7,494.4 596.4,494.9 597.1,494.6 597.8,495.5 598.5,495.0 599.2,494.6 599.8,494.1 600.5,494.8 601.2,493.1 601.9,493.9 602.6,493.6 603.3,493.9 604.0,491.9 604.6,491.9 605.3,490.6 606.0,489.9 606.7,489.1 607.4,487.5 608.1,485.9 608.7,484.3 609.4,482.9 610.1,482.6 610.8,480.6 611.5,482.6 612.2,483.2 612.9,485.7 613.5,486.9 614.2,488.9 614.9,490.9 615.6,492.2 616.3,492.3 617.0,494.2 617.7,495.6 618.3,494.6 619.0,494.6 619.7,494.0 620.4,495.4 621.1,493.8 621.8,496.2 622.4,495.5 623.1,495.3 623.8,494.0 624.5,495.6 625.2,495.4 625.9,494.9 626.6,493.3 627.2,493.3 627.9,494.9 628.6,493.3 629.3,493.2 630.0,493.4 630.7,494.1 631.4,493.5 632.0,492.6 632.7,492.2 633.4,493.1 634.1,492.9 634.8,493.3 635.5,492.4 636.1,492.7 636.8,492.4 637.5,492.9 638.2,493.0 638.9,493.7 639.6,494.6 640.3,496.5 640.9,494.7 641.6,494.5 642.3,494.9 643.0,494.7 643.7,494.8 644.4,495.7 645.1,495.3 645.7,495.8 646.4,496.0 647.1,495.9 647.8,495.1 648.5,495.2 649.2,496.4 649.8,495.8 650.5,496.9 651.2,495.7 651.9,496.4 652.6,496.4 653.3,495.7 654.0,497.0 654.6,496.3 655.3,495.1 656.0,495.6 656.7,495.6 657.4,496.2 658.1,494.5 658.8,495.8 659.4,495.4 660.1,495.5 660.8,496.5 661.5,495.0 662.2,495.4 662.9,496.7 663.5,495.2 664.2,495.7 664.9,495.0 665.6,494.1 666.3,494.8 667.0,494.6 667.7,494.7 668.3,493.6 669.0,493.6 669.7,495.4 670.4,495.1 671.1,495.0 671.8,493.5 672.5,493.9 673.1,493.9 673.8,494.2 674.5,495.4 675.2,493.6 675.9,494.2 676.6,494.7 677.2,493.8 677.9,494.9 678.6,492.4 679.3,492.5 680.0,493.4 680.7,494.4 681.4,493.8 682.0,492.6 682.7,493.1 683.4,492.8 684.1,494.3 684.8,491.7 685.5,495.0 686.2,493.1 686.8,492.9 687.5,492.2 688.2,493.7 688.9,493.6 689.6,493.2 690.3,491.6 690.9,491.5 691.6,493.2 692.3,493.6 693.0,493.3 693.7,492.0 694.4,491.8 695.1,493.4 695.7,493.3 696.4,491.6 697.1,491.3 697.8,492.4 698.5,492.2 699.2,492.4 699.9,491.0 700.5,491.2 701.2,492.3 701.9,491.0 702.6,492.0 703.3,491.8 704.0,489.1 704.6,489.8 705.3,489.6 706.0,490.2 706.7,489.8 707.4,490.5 708.1,488.5 708.8,489.2 709.4,489.2 710.1,489.0 710.8,488.4 711.5,487.3 712.2,487.0 712.9,487.2 713.6,487.1 714.2,485.0 714.9,485.8 715.6,485.3 716.3,485.2 717.0,484.8 717.7,484.8 718.3,484.3 719.0,482.7 719.7,483.9 720.4,482.4 721.1,484.0 721.8,482.2 722.5,483.4 723.1,483.5 723.8,483.3 724.5,481.8 725.2,481.7 725.9,480.2 726.6,478.6 727.3,476.8 727.9,476.6 728.6,476.3 729.3,473.5 730.0,472.5 730.7,471.4 731.4,472.1 732.0,470.8 732.7,472.1 733.4,474.7 734.1,474.7 734.8,477.7 735.5,479.5 736.2,481.4 736.8,483.6 737.5,483.6 738.2,484.3 738.9,486.1 739.6,485.2 740.3,485.9 741.0,485.9 741.6,486.4 742.3,486.0 743.0,486.8 743.7,485.5 744.4,486.5 745.1,486.2 745.7,485.7 746.4,485.5 747.1,484.9 747.8,485.1 748.5,485.0 749.2,483.2 749.9,484.7 750.5,484.3 751.2,484.9 751.9,484.7 752.6,484.1 753.3,485.8 754.0,485.5 754.7,484.7 755.3,484.6 756.0,484.2 756.7,485.4 757.4,485.1 758.1,484.2 758.8,483.3 759.4,482.9 760.1,482.5 760.8,482.5 761.5,481.9 762.2,480.6 762.9,480.3 763.6,480.6 764.2,480.0 764.9,479.1 765.6,479.8 766.3,478.8 767.0,475.2 767.7,475.7 768.4,472.2 769.0,471.5 769.7,468.9 770.4,467.3 771.1,465.7 771.8,461.3 772.5,461.5 773.1,459.3 773.8,458.0 774.5,457.6 775.2,459.3 775.9,461.1 776.6,462.6 777.3,465.1 777.9,467.9 778.6,469.3 779.3,471.8 780.0,471.1 780.7,471.5 781.4,471.8 782.1,472.3 782.7,471.7 783.4,471.5 784.1,470.5 784.8,470.8 785.5,470.5 786.2,470.1 786.8,469.8 787.5,466.9 788.2,466.6 788.9,462.2 789.6,459.0 790.3,454.9 791.0,450.7 791.6,448.4 792.3,442.4 793.0,439.8 793.7,438.5 794.4,437.8 795.1,440.8 795.8,446.0 796.4,452.8 797.1,457.6 797.8,463.8 798.5,467.4 799.2,470.1 799.9,473.3 800.5,474.9 801.2,475.7 801.9,476.7 802.6,477.3 803.3,476.8 804.0,476.5 804.7,476.7 805.3,475.9 806.0,474.6 806.7,473.4 807.4,472.4 808.1,472.0 808.8,472.0 809.5,470.0 810.1,468.1 810.8,467.7 811.5,469.3 812.2,468.0 812.9,468.5 813.6,470.1 814.2,470.9 814.9,471.6 815.6,472.7 816.3,473.6 817.0,472.3 817.7,473.9 818.4,471.8 819.0,471.6 819.7,471.1 820.4,470.7 821.1,468.4 821.8,467.1 822.5,467.2 823.2,467.6 823.8,469.3 824.5,470.1 825.2,472.3 825.9,474.2 826.6,475.0 827.3,478.2 827.9,476.8 828.6,480.7 829.3,480.7 830.0,481.2 830.7,480.7 831.4,481.0 832.1,482.2 832.7,481.4 833.4,481.3 834.1,479.0 834.8,477.1 835.5,476.4 836.2,475.0 836.9,470.6 837.5,466.8 838.2,463.1 838.9,459.3 839.6,452.6 840.3,447.0 841.0,439.1 841.6,432.2 842.3,423.2 843.0,415.5 843.7,407.7 844.4,400.9 845.1,395.5 845.8,394.7 846.4,395.7 847.1,402.2 847.8,413.0 848.5,424.1 849.2,434.5 849.9,446.7 850.6,454.8 851.2,462.8 851.9,468.4 852.6,471.4 853.3,476.4 854.0,478.3 854.7,479.6 855.3,482.2 856.0,481.9 856.7,483.8 857.4,482.9 858.1,483.0 858.8,483.1 859.5,481.9 860.1,482.4 860.8,481.9 861.5,481.7 862.2,480.6 862.9,480.5 863.6,481.0 864.3,479.8 864.9,480.0 865.6,481.1 866.3,480.7 867.0,482.6 867.7,482.5 868.4,484.0 869.0,485.3 869.7,486.4 870.4,487.3 871.1,487.3 871.8,487.7 872.5,488.2 873.2,489.8 873.8,489.3 874.5,491.7 875.2,490.2 875.9,491.0 876.6,490.8 877.3,490.8 878.0,490.0 878.6,491.9 879.3,491.5 880.0,491.3 880.7,490.9 881.4,491.2 882.1,491.3 882.7,492.1 883.4,491.9 884.1,492.1 884.8,492.2 885.5,491.9 886.2,491.5 886.9,493.1 887.5,490.8 888.2,491.8 888.9,490.9 889.6,492.6 890.3,491.9 891.0,492.3 891.7,491.8 892.3,492.6 893.0,490.7 893.7,491.4 894.4,491.4 895.1,492.0 895.8,491.2 896.4,490.4 897.1,491.4 897.8,490.7 898.5,490.6 899.2,493.3 899.9,491.4 900.6,490.2 901.2,490.9 901.9,490.7 902.6,491.3 903.3,490.7 904.0,491.2 904.7,491.7 905.4,491.9 906.0,490.9 906.7,491.5 907.4,492.1 908.1,491.7 908.8,491.8 909.5,492.7 910.1,492.1 910.8,491.4 911.5,493.5 912.2,492.8 912.9,493.2 913.6,490.9 914.3,491.6 914.9,491.9 915.6,493.3 916.3,492.5 917.0,493.1 917.7,492.6 918.4,493.0 919.1,493.3 919.7,492.5 920.4,492.8 921.1,492.5 921.8,492.5 922.5,492.8 923.2,491.6 923.8,492.2 924.5,491.8 925.2,492.2 925.9,493.0 926.6,492.8 927.3,491.5 928.0,491.3 928.6,492.7 929.3,491.9 930.0,492.5 930.7,491.0 931.4,491.0 932.1,492.2 932.8,492.3 933.4,492.0 934.1,491.9 934.8,491.4 935.5,493.0 936.2,491.4 936.9,490.3 937.5,491.4 938.2,491.7 938.9,490.7 939.6,491.8 940.3,491.3 941.0,490.9 941.7,491.3 942.3,490.8 943.0,491.6 943.7,490.8 944.4,491.3 945.1,490.2 945.8,491.8 946.5,491.9 947.1,490.9 947.8,491.5 948.5,491.0 949.2,490.6 949.9,489.3 950.6,490.6 951.2,489.7 951.9,490.2 952.6,489.3 953.3,489.3 954.0,487.6 954.7,488.8 955.4,487.8 956.0,486.5 956.7,486.5 957.4,484.5 958.1,485.4 958.8,483.5 959.5,483.1 960.2,483.7 960.8,483.2 961.5,483.4 962.2,484.4 962.9,484.3 963.6,485.6 964.3,486.3 964.9,486.5 965.6,487.5 966.3,487.7 967.0,489.3 967.7,490.2 968.4,489.7 969.1,489.2 969.7,488.8 970.4,490.4 971.1,490.4 971.8,491.1 972.5,490.1 973.2,489.9 973.9,489.9 974.5,490.0 975.2,489.2 975.9,490.2 976.6,489.0 977.3,490.5 978.0,490.8 978.6,489.9 979.3,490.2 980.0,490.2 980.7,491.3 981.4,490.4 982.1,491.5 982.8,491.0 983.4,491.0 984.1,488.7 984.8,490.3 985.5,489.8 986.2,489.9 986.9,490.3 987.6,488.6 988.2,490.4 988.9,490.6 989.6,490.8 990.3,489.6 991.0,490.3 991.7,489.7 992.3,490.2 993.0,488.5 993.7,487.7 994.4,489.4 995.1,488.7 995.8,488.6 996.5,488.0 997.1,489.2 997.8,487.6 998.5,489.9 999.2,488.8 999.9,489.1 1000.6,488.7 1001.3,489.8 1001.9,489.5 1002.6,489.9 1003.3,489.6 1004.0,490.7 1004.7,490.5 1005.4,491.3 1006.0,490.4 1006.7,492.3 1007.4,490.4 1008.1,490.8 1008.8,490.7 1009.5,491.4 1010.2,490.2 1010.8,490.6 1011.5,491.7 1012.2,490.0 1012.9,491.6 1013.6,492.1 1014.3,492.2 1015.0,492.8 1015.6,493.0 1016.3,491.6 1017.0,492.5 1017.7,492.8 1018.4,491.6 1019.1,491.7 1019.7,492.6 1020.4,491.6 1021.1,492.5 1021.8,492.5 1022.5,492.1 1023.2,492.8 1023.9,492.3 1024.5,492.5 1025.2,492.9 1025.9,492.2 1026.6,492.0 1027.3,492.8 1028.0,493.0 1028.7,492.9 1029.3,493.2 1030.0,492.5 1030.7,493.1 1031.4,493.9 1032.1,493.9 1032.8,493.5 1033.4,492.5 1034.1,492.7 1034.8,493.7 1035.5,492.8 1036.2,494.6 1036.9,493.0 1037.6,492.6 1038.2,493.4 1038.9,493.7 1039.6,494.1 1040.3,493.5 1041.0,493.4 1041.7,493.4 1042.4,493.1 1043.0,493.6 1043.7,492.9 1044.4,492.4 1045.1,493.4 1045.8,493.8 1046.5,493.6 1047.1,493.7 1047.8,493.9 1048.5,494.8 1049.2,494.4 1049.9,492.9 1050.6,492.7 1051.3,494.8 1051.9,494.4 1052.6,494.0 1053.3,492.9 1054.0,496.1 1054.7,494.3 1055.4,495.1 1056.1,493.4 1056.7,493.8 1057.4,494.8 1058.1,494.1 1058.8,494.9 1059.5,495.0 1060.2,493.8 1060.8,493.9 1061.5,494.6 1062.2,495.1 1062.9,494.6 1063.6,494.8 1064.3,493.9 1065.0,494.4 1065.6,495.0 1066.3,494.1 1067.0,493.5 1067.7,494.0 1068.4,495.5 1069.1,495.5 1069.8,494.9 1070.4,494.5 1071.1,495.0 1071.8,494.6 1072.5,494.9 1073.2,495.0 1073.9,494.1 1074.5,495.3 1075.2,494.7 1075.9,494.7 1076.6,494.4 1077.3,494.5 1078.0,495.0 1078.7,494.8 1079.3,494.5 1080.0,495.0 1080.7,495.0 1081.4,494.3 1082.1,493.9 1082.8,495.4 1083.5,495.1 1084.1,494.8 1084.8,495.6 1085.5,495.0 1086.2,495.0 1086.9,494.3 1087.6,493.9 1088.2,493.9 1088.9,493.0 1089.6,495.9 1090.3,494.3 1091.0,495.6 1091.7,493.9 1092.4,494.7 1093.0,494.7 1093.7,494.6 1094.4,494.9 1095.1,494.2 1095.8,494.7 1096.5,494.3 1097.2,494.3 1097.8,493.9 1098.5,494.8 1099.2,495.2 1099.9,495.3 1100.6,495.6 1101.3,494.7 1101.9,494.3 1102.6,493.2 1103.3,494.5 1104.0,493.3 1104.7,493.1 1105.4,493.5 1106.1,492.3 1106.7,491.6 1107.4,491.2 1108.1,493.2 1108.8,491.0 1109.5,492.3 1110.2,492.5 1110.9,492.2 1111.5,491.7 1112.2,492.3 1112.9,493.3 1113.6,494.5 1114.3,494.1 1115.0,493.5 1115.6,493.1 1116.3,494.0 1117.0,495.4 1117.7,493.9 1118.4,495.9 1119.1,495.4 1119.8,495.9 1120.4,495.5 1121.1,496.0 1121.8,497.1 1122.5,495.3 1123.2,496.5 1123.9,495.9 1124.6,495.9 1125.2,496.6 1125.9,496.7 1126.6,495.1 1127.3,495.9 1128.0,496.9 1128.7,495.8 1129.3,496.2 1130.0,496.0 1130.7,495.9 1131.4,496.8 1132.1,496.9 1132.8,495.9 1133.5,495.6 1134.1,497.5 1134.8,497.5 1135.5,496.8 1136.2,496.7 1136.9,496.5 1137.6,494.4 1138.3,496.1 1138.9,495.5 1139.6,495.7 1140.3,495.6 1141.0,495.1 1141.7,497.3 1142.4,496.0 1143.0,497.7 1143.7,495.5 1144.4,495.5 1145.1,497.3 1145.8,497.2 1146.5,496.8 1147.2,496.9 1147.8,496.6 1148.5,496.6 1149.2,496.1 1149.9,497.0 1150.6,497.2 1151.3,497.9 1152.0,496.3 1152.6,495.4 1153.3,496.5 1154.0,496.9 1154.7,497.0 1155.4,496.5 1156.1,495.7 1156.7,497.1 1157.4,498.1 1158.1,495.1 1158.8,495.2 1159.5,497.3 1160.2,497.9 1160.9,496.6 1161.5,496.7 1162.2,497.0 1162.9,497.3 1163.6,496.3 1164.3,497.0 1165.0,496.7 1165.7,496.2 1166.3,496.7 1167.0,497.3 1167.7,495.9 1168.4,497.0 1169.1,497.1 1169.8,497.3 1170.4,495.5 1171.1,496.3 1171.8,497.4 1172.5,495.2 1173.2,497.8 1173.9,495.8 1174.6,496.7 1175.2,496.3 1175.9,496.7 1176.6,495.8 1177.3,495.9 1178.0,496.0 1178.7,496.0 1179.4,496.9 1180.0,496.0 1180.7,496.1 1181.4,496.0 1182.1,494.8 1182.8,495.4 1183.5,496.3 1184.1,495.1 1184.8,494.8 1185.5,495.2 1186.2,497.3 1186.9,493.2 1187.6,494.7 1188.3,492.9 1188.9,494.2 1189.6,491.9 1190.3,491.5 1191.0,491.8 1191.7,491.7 1192.4,492.2 1193.1,491.4 1193.7,492.7 1194.4,492.0 1195.1,492.4 1195.8,492.7 1196.5,493.0 1197.2,492.9 1197.8,494.4 1198.5,493.5 1199.2,495.8 1199.9,493.9 1200.6,495.8 1201.3,495.3 1202.0,496.2 1202.6,495.4 1203.3,495.4 1204.0,495.6 1204.7,496.0 1205.4,496.2 1206.1,496.5 1206.8,495.6 1207.4,495.8 1208.1,495.2 1208.8,496.5 1209.5,495.7 1210.2,494.5 1210.9,496.2 1211.5,496.4 1212.2,496.4 1212.9,497.0 1213.6,496.1 1214.3,497.9 1215.0,495.7 1215.7,497.6 1216.3,497.4 1217.0,497.7 1217.7,497.7 1218.4,498.7 1219.1,497.6 1219.8,497.7 1220.5,497.8 1221.1,496.7 1221.8,498.0 1222.5,498.3 1223.2,497.2 1223.9,497.2 1224.6,498.0 1225.2,496.9 1225.9,498.3 1226.6,497.4 1227.3,496.4 1228.0,498.0 1228.7,497.8 1229.4,497.3 1230.0,497.5 1230.7,495.9 1231.4,496.9 1232.1,498.1 1232.8,497.9 1233.5,497.7 1234.2,496.5 1234.8,497.3 1235.5,496.4 1236.2,497.4 1236.9,497.7 1237.6,498.1 1238.3,496.9 1238.9,496.7 1239.6,497.4 1240.3,498.2 1241.0,497.4 1241.7,496.9 1242.4,497.5 1243.1,497.7 1243.7,498.1 1244.4,498.1 1245.1,497.6 1245.8,497.7 1246.5,498.3 1247.2,497.8 1247.9,498.1 1248.5,497.4 1249.2,499.2 1249.9,497.8 1250.6,498.0 1251.3,495.7 1252.0,497.7 1252.6,497.4 1253.3,496.6 1254.0,497.0 1254.7,497.5 1255.4,497.7 1256.1,497.5 1256.8,496.5 1257.4,497.5 1258.1,496.2 1258.8,497.3 1259.5,497.9 1260.2,497.6 1260.9,497.3 1261.6,497.0 1262.2,497.1 1262.9,497.3 1263.6,497.5 1264.3,496.8 1265.0,498.4 1265.7,497.7 1266.3,495.8 1267.0,498.1 1267.7,496.0 1268.4,496.2 1269.1,497.1 1269.8,497.1 1270.5,495.8 1271.1,496.6 1271.8,496.0 1272.5,497.6 1273.2,496.4 1273.9,496.9 1274.6,495.6 1275.3,496.3 1275.9,496.3 1276.6,496.6 1277.3,495.9 1278.0,496.4 1278.7,496.2 1279.4,495.9 1280.0,496.3 1280.7,497.0 1281.4,495.7 1282.1,497.7 1282.8,497.9 1283.5,496.6 1284.2,498.1 1284.8,496.9 1285.5,498.1 1286.2,497.0 1286.9,497.2 1287.6,497.0 1288.3,496.9 1289.0,497.5 1289.6,496.9 1290.3,496.1 1291.0,496.6 1291.7,497.6 1292.4,496.0 1293.1,496.1 1293.7,496.6 1294.4,498.1 1295.1,496.2 1295.8,497.1 1296.5,497.0 1297.2,496.5 1297.9,496.8 1298.5,496.9 1299.2,495.6 1299.9,496.7 1300.6,496.4 1301.3,495.9 1302.0,494.6 1302.7,494.3 1303.3,496.8 1304.0,494.6 1304.7,496.6 1305.4,495.2 1306.1,495.2 1306.8,495.2 1307.4,496.7 1308.1,495.0 1308.8,496.2 1309.5,495.1 1310.2,494.5 1310.9,495.2 1311.6,494.3 1312.2,494.4 1312.9,494.6 1313.6,495.3 1314.3,493.8 1315.0,495.5 1315.7,495.1 1316.4,495.8 1317.0,495.1 1317.7,494.8 1318.4,496.4 1319.1,494.8 1319.8,496.0 1320.5,496.9 1321.1,495.8 1321.8,496.4 1322.5,496.8 1323.2,496.3 1323.9,497.1 1324.6,497.4 1325.3,496.4 1325.9,494.9 1326.6,495.6 1327.3,496.7 1328.0,496.4 1328.7,496.4 1329.4,497.2 1330.1,497.4 1330.7,497.2 1331.4,496.4 1332.1,497.3 1332.8,495.5 1333.5,495.8 1334.2,496.5 1334.8,496.0 1335.5,495.0 1336.2,496.5 1336.9,496.1 1337.6,496.3 1338.3,496.2 1339.0,495.5 1339.6,496.3 1340.3,496.9 1341.0,496.4 1341.7,496.3 1342.4,496.5 1343.1,496.6 1343.8,496.9 1344.4,495.8 1345.1,495.4 1345.8,495.9 1346.5,495.6 1347.2,494.8 1347.9,496.0 1348.5,496.5 1349.2,495.3 1349.9,494.5 1350.6,495.9 1351.3,495.8 1352.0,495.6 1352.7,496.1 1353.3,494.7 1354.0,496.5 1354.7,496.7 1355.4,497.6 1356.1,496.4 1356.8,496.4 1357.5,497.9 1358.1,495.7 1358.8,497.1 1359.5,496.0 1360.2,495.5 1360.9,496.4 1361.6,495.8 1362.2,496.4 1362.9,495.8 1363.6,496.6 1364.3,496.8 1365.0,496.5 1365.7,495.9 1366.4,495.6 1367.0,496.4 1367.7,496.5 1368.4,497.1 1369.1,496.1 1369.8,495.2 1370.5,496.1 1371.2,494.9 1371.8,496.3 1372.5,496.0 1373.2,495.5 1373.9,494.9 1374.6,495.3 1375.3,495.8 1375.9,494.9 1376.6,496.5 1377.3,495.5 1378.0,496.5 1378.7,496.4 1379.4,496.5 1380.1,497.0 1380.7,495.5 1381.4,495.2 1382.1,495.4 1382.8,494.0 1383.5,496.0 1384.2,496.0 1384.9,496.1 1385.5,495.0 1386.2,495.8 1386.9,496.1 1387.6,495.5 1388.3,495.9 1389.0,495.4 1389.6,496.0 1390.3,497.0 1391.0,495.4 1391.7,495.6 1392.4,496.1 1393.1,496.1 1393.8,496.2 1394.4,496.9 1395.1,496.1 1395.8,496.1 1396.5,496.8 1397.2,496.3 1397.9,496.7 1398.6,495.9 1399.2,496.0 1399.9,495.5 1400.6,496.4 1401.3,495.2 1402.0,495.7 1402.7,496.4 1403.3,496.0 1404.0,495.0 1404.7,495.7 1405.4,494.5 1406.1,495.0 1406.8,495.2 1407.5,496.2 1408.1,496.5 1408.8,496.1 1409.5,496.9 1410.2,495.2 1410.9,496.5 1411.6,495.6 1412.3,494.9 1412.9,496.8 1413.6,496.0 1414.3,496.3 1415.0,494.6 1415.7,494.5 1416.4,494.6 1417.0,496.2 1417.7,496.8 1418.4,495.6 1419.1,496.2 1419.8,494.5 1420.5,496.0 1421.2,497.0 1421.8,494.1 1422.5,495.4 1423.2,495.8 1423.9,495.6 1424.6,497.6 1425.3,495.3 1426.0,496.1 1426.6,495.9 1427.3,496.8 1428.0,496.1 1428.7,495.6 1429.4,496.1 1430.1,496.7 1430.7,496.2 1431.4,496.2 1432.1,496.4 1432.8,496.6 1433.5,497.7 1434.2,497.1 1434.9,496.5 1435.5,496.4 1436.2,496.2 1436.9,495.9 1437.6,497.4 1438.3,495.4 1439.0,496.5 1439.7,496.2 1440.3,495.8 1441.0,497.6 1441.7,497.1 1442.4,496.0 1443.1,496.2 1443.8,497.2 1444.4,495.8 1445.1,496.7 1445.8,497.0 1446.5,496.1 1447.2,497.1 1447.9,496.0 1448.6,495.4 1449.2,496.8 1449.9,495.0 1450.6,496.6 1451.3,497.5 1452.0,496.2 1452.7,495.1 1453.4,496.6 1454.0,496.5 1454.7,496.6 1455.4,495.3 1456.1,495.8 1456.8,495.7 1457.5,495.5 1458.1,497.3 1458.8,496.1 1459.5,497.3 1460.2,496.7 1460.9,495.1 1461.6,494.7 1462.3,495.5 1462.9,496.9 1463.6,495.1 1464.3,497.5 1465.0,495.6 1465.7,496.9 1466.4,495.8 1467.1,495.0 1467.7,496.8 1468.4,494.9 1469.1,495.7 1469.8,496.1 1470.5,496.6 1471.2,495.6 1471.8,496.7 1472.5,496.5 1473.2,495.4 1473.9,496.9 1474.6,496.3 1475.3,496.2 1476.0,496.2 1476.6,495.7 1477.3,495.6 1478.0,495.2 1478.7,495.9 1479.4,497.2 1480.1,497.2 1480.8,496.7 1481.4,496.5 1482.1,494.9 1482.8,495.5 1483.5,496.9 1484.2,495.4 1484.9,496.6 1485.5,497.1 1486.2,496.9 1486.9,496.9 1487.6,496.1 1488.3,497.1 1489.0,495.8 1489.7,497.2 1490.3,496.7 1491.0,497.8 1491.7,497.1 1492.4,496.5 1493.1,497.4 1493.8,498.7 1494.5,496.9 1495.1,496.1 1495.8,496.7 1496.5,496.9 1497.2,497.1 1497.9,495.9 1498.6,497.2 1499.2,496.4 1499.9,497.5 1500.6,497.3 1501.3,497.5 1502.0,497.3 1502.7,497.4 1503.4,496.1 1504.0,496.9 1504.7,497.1 1505.4,497.0 1506.1,496.5 1506.8,497.0 1507.5,495.9 1508.2,497.1 1508.8,496.3 1509.5,496.6 1510.2,497.1 1510.9,495.9 1511.6,495.9 1512.3,497.3 1512.9,496.5 1513.6,496.4 1514.3,496.7 1515.0,495.9 1515.7,495.7 1516.4,496.5 1517.1,495.9 1517.7,495.3 1518.4,496.0 1519.1,495.6 1519.8,496.6 1520.5,497.0 1521.2,496.2 1521.9,496.4 1522.5,496.4 1523.2,496.4 1523.9,496.5 1524.6,496.7 1525.3,497.4 1526.0,496.8 1526.6,497.4 1527.3,495.7 1528.0,495.7 1528.7,496.8 1529.4,497.8 1530.1,496.7 1530.8,496.4 1531.4,495.9 1532.1,495.7 1532.8,497.4 1533.5,496.5 1534.2,495.9 1534.9,497.1 1535.6,495.6 1536.2,496.4 1536.9,496.9 1537.6,495.6 1538.3,495.1 1539.0,496.6 1539.7,496.2 1540.3,496.6 1541.0,495.4 1541.7,494.9 1542.4,496.0 1543.1,495.0 1543.8,496.0 1544.5,494.8 1545.1,495.2 1545.8,496.0 1546.5,495.2 1547.2,495.9 1547.9,494.9 1548.6,495.2 1549.3,495.9 1549.9,495.4 1550.6,496.2 1551.3,496.0 1552.0,495.4 1552.7,495.8 1553.4,497.1 1554.0,496.1 1554.7,495.8 1555.4,497.3 1556.1,497.5 1556.8,496.6 1557.5,497.7 1558.2,496.7 1558.8,497.7 1559.5,497.7 1560.2,498.4 1560.9,497.4 1561.6,497.5 1562.3,497.7 1563.0,496.2 1563.6,497.7 1564.3,496.8 1565.0,497.4 1565.7,497.0 1566.4,496.6 1567.1,498.5 1567.7,496.7 1568.4,496.9 1569.1,497.3 1569.8,496.4 1570.5,497.9 1571.2,498.5 1571.9,496.9 1572.5,498.0 1573.2,497.4 1573.9,497.3 1574.6,497.6 1575.3,496.9 1576.0,496.6 1576.7,498.2 1577.3,497.1 1578.0,497.8 1578.7,497.2 1579.4,498.6 1580.1,497.8 1580.8,497.2 1581.4,497.4 1582.1,496.9 1582.8,498.1 1583.5,497.7 1584.2,497.6 1584.9,498.4 1585.6,497.0 1586.2,497.3 1586.9,496.7 1587.6,497.8 1588.3,496.9 1589.0,496.5 1589.7,497.2 1590.4,497.9 1591.0,496.8 1591.7,496.4 1592.4,497.6 1593.1,497.6 1593.8,498.0 1594.5,497.8 1595.1,496.5 1595.8,498.4 1596.5,498.5 1597.2,498.8 1597.9,498.0 1598.6,497.4 1599.3,497.9 1599.9,497.5 1600.6,497.7 1601.3,497.6 1602.0,498.3 1602.7,498.7 1603.4,497.8 1604.1,497.9 1604.7,497.8 1605.4,498.1 1606.1,498.4 1606.8,497.2 1607.5,497.8 1608.2,498.7 1608.8,497.5 1609.5,498.1 1610.2,498.8 1610.9,498.1 1611.6,498.4 1612.3,498.1 1613.0,496.2 1613.6,497.4 1614.3,498.4 1615.0,498.6 1615.7,498.3 1616.4,497.8 1617.1,499.1 1617.8,498.2 1618.4,497.5 1619.1,498.4 1619.8,497.9 1620.5,498.7 1621.2,498.5 1621.9,497.8 1622.5,497.6 1623.2,497.9 1623.9,499.5 1624.6,498.3 1625.3,496.9 1626.0,498.0 1626.7,498.6 1627.3,498.8 1628.0,499.0 1628.7,498.7 1629.4,499.1 1630.1,497.5 1630.8,497.6 1631.5,499.8 1632.1,498.2 1632.8,497.2 1633.5,498.3 1634.2,498.9 1634.9,498.9 1635.6,497.9 1636.2,498.7 1636.9,499.6 1637.6,498.7 1638.3,498.8 1639.0,498.6 1639.7,498.8 1640.4,499.0 1641.0,498.6 1641.7,498.5 1642.4,497.9 1643.1,498.6 1643.8,499.5 1644.5,498.6 1645.2,499.9 1645.8,498.9 1646.5,499.2 1647.2,498.4 1647.9,499.1 1648.6,498.3 1649.3,498.4 1649.9,499.0 1650.6,499.0 1651.3,497.0 1652.0,499.3 1652.7,497.6 1653.4,498.1 1654.1,498.2 1654.7,497.5 1655.4,496.8 1656.1,498.9 1656.8,498.7 1657.5,498.2 1658.2,497.9 1658.9,498.0 1659.5,497.8 1660.2,498.6 1660.9,498.8 1661.6,498.3 1662.3,498.0 1663.0,498.3 1663.6,499.9 1664.3,498.5 1665.0,498.8 1665.7,499.5 1666.4,499.4 1667.1,498.9 1667.8,497.9 1668.4,499.3 1669.1,498.5 1669.8,499.8 1670.5,499.7 1671.2,499.9 1671.9,499.3 1672.6,498.9 1673.2,498.7 1673.9,497.6 1674.6,498.5 1675.3,499.7 1676.0,498.9 1676.7,497.7 1677.3,497.9 1678.0,497.5 1678.7,498.8 1679.4,498.8"/>
<polyline stroke="#e3ac2c" stroke-width="12.5" points="172.4,338.6 173.1,338.6 173.8,339.6 174.5,340.4 175.1,339.8 175.8,339.6 176.5,338.6 177.2,338.8 177.9,340.2 178.6,340.6 179.3,339.3 179.9,339.5 180.6,340.8 181.3,340.8 182.0,340.2 182.7,339.9 183.4,341.0 184.0,339.1 184.7,339.4 185.4,340.1 186.1,339.5 186.8,339.1 187.5,339.8 188.2,339.9 188.8,340.8 189.5,339.6 190.2,340.5 190.9,339.7 191.6,341.5 192.3,340.0 193.0,340.2 193.6,341.4 194.3,340.7 195.0,340.0 195.7,342.0 196.4,340.6 197.1,341.1 197.7,341.9 198.4,341.7 199.1,342.0 199.8,341.7 200.5,342.5 201.2,343.0 201.9,340.8 202.5,343.2 203.2,341.9 203.9,341.9 204.6,342.5 205.3,342.1 206.0,342.7 206.7,341.9 207.3,341.6 208.0,342.2 208.7,342.4 209.4,342.0 210.1,342.0 210.8,342.0 211.4,343.4 212.1,342.2 212.8,342.0 213.5,342.9 214.2,343.1 214.9,342.4 215.6,341.6 216.2,343.2 216.9,342.8 217.6,342.7 218.3,342.9 219.0,341.0 219.7,343.3 220.4,342.6 221.0,343.1 221.7,343.3 222.4,342.6 223.1,342.5 223.8,343.0 224.5,343.5 225.1,343.7 225.8,343.5 226.5,342.4 227.2,344.0 227.9,343.5 228.6,343.8 229.3,343.6 229.9,343.9 230.6,343.3 231.3,343.6 232.0,343.3 232.7,343.8 233.4,343.3 234.1,344.1 234.7,344.3 235.4,344.3 236.1,344.4 236.8,344.8 237.5,344.8 238.2,343.5 238.8,344.8 239.5,343.8 240.2,344.6 240.9,344.6 241.6,344.7 242.3,344.4 243.0,344.2 243.6,345.3 244.3,344.8 245.0,344.1 245.7,344.7 246.4,345.8 247.1,345.2 247.8,345.6 248.4,344.6 249.1,345.1 249.8,345.3 250.5,345.6 251.2,344.8 251.9,344.3 252.5,343.4 253.2,346.1 253.9,344.7 254.6,343.6 255.3,344.8 256.0,344.5 256.7,345.3 257.3,344.3 258.0,345.5 258.7,344.3 259.4,344.1 260.1,345.3 260.8,346.2 261.5,344.9 262.1,344.5 262.8,344.8 263.5,344.8 264.2,345.0 264.9,346.2 265.6,345.2 266.2,344.2 266.9,345.3 267.6,345.9 268.3,345.7 269.0,345.2 269.7,345.3 270.4,344.8 271.0,344.7 271.7,345.1 272.4,344.5 273.1,344.6 273.8,343.8 274.5,343.4 275.2,343.0 275.8,344.7 276.5,343.3 277.2,342.3 277.9,342.9 278.6,344.2 279.3,344.4 279.9,344.0 280.6,344.7 281.3,343.8 282.0,346.3 282.7,345.1 283.4,345.7 284.1,344.9 284.7,345.6 285.4,346.3 286.1,345.2 286.8,345.8 287.5,346.0 288.2,345.7 288.9,346.6 289.5,345.3 290.2,346.2 290.9,345.2 291.6,346.7 292.3,345.2 293.0,347.9 293.6,345.4 294.3,346.7 295.0,346.3 295.7,346.9 296.4,347.3 297.1,347.3 297.8,345.7 298.4,347.2 299.1,346.4 299.8,348.0 300.5,345.5 301.2,347.5 301.9,346.9 302.6,346.7 303.2,345.9 303.9,346.8 304.6,347.1 305.3,345.7 306.0,345.6 306.7,346.6 307.3,346.9 308.0,346.2 308.7,346.6 309.4,346.4 310.1,346.2 310.8,346.5 311.5,346.9 312.1,346.6 312.8,347.9 313.5,346.0 314.2,346.2 314.9,346.1 315.6,345.7 316.3,347.3 316.9,346.8 317.6,345.9 318.3,346.5 319.0,347.8 319.7,347.5 320.4,346.9 321.0,346.3 321.7,346.1 322.4,346.8 323.1,346.3 323.8,345.8 324.5,346.7 325.2,346.5 325.8,346.2 326.5,346.3 327.2,346.6 327.9,347.3 328.6,346.6 329.3,347.2 330.0,347.4 330.6,346.0 331.3,346.1 332.0,345.9 332.7,345.8 333.4,345.9 334.1,346.5 334.7,346.5 335.4,345.6 336.1,346.2 336.8,345.9 337.5,346.6 338.2,346.0 338.9,346.0 339.5,346.8 340.2,345.9 340.9,346.3 341.6,346.7 342.3,346.2 343.0,345.7 343.7,346.2 344.3,346.5 345.0,346.9 345.7,346.0 346.4,346.0 347.1,347.2 347.8,347.1 348.4,347.1 349.1,346.3 349.8,345.8 350.5,346.8 351.2,346.5 351.9,346.5 352.6,345.4 353.2,345.9 353.9,346.6 354.6,345.8 355.3,345.5 356.0,345.1 356.7,345.7 357.4,347.0 358.0,346.0 358.7,346.2 359.4,345.6 360.1,346.6 360.8,345.7 361.5,345.9 362.1,347.1 362.8,345.8 363.5,345.2 364.2,345.8 364.9,344.9 365.6,345.6 366.3,345.9 366.9,347.4 367.6,345.8 368.3,345.2 369.0,344.3 369.7,345.6 370.4,345.0 371.1,344.5 371.7,344.5 372.4,344.4 373.1,342.4 373.8,342.6 374.5,340.0 375.2,340.0 375.8,340.1 376.5,338.2 377.2,338.1 377.9,334.6 378.6,332.5 379.3,332.0 380.0,328.7 380.6,327.1 381.3,326.0 382.0,324.6 382.7,327.8 383.4,333.1 384.1,336.4 384.8,340.6 385.4,341.2 386.1,342.4 386.8,345.3 387.5,345.1 388.2,345.8 388.9,344.4 389.5,345.6 390.2,347.0 390.9,345.4 391.6,346.9 392.3,345.6 393.0,345.5 393.7,345.0 394.3,346.7 395.0,346.4 395.7,346.3 396.4,345.6 397.1,347.5 397.8,346.9 398.5,345.3 399.1,345.1 399.8,345.2 400.5,346.7 401.2,346.2 401.9,346.6 402.6,346.3 403.2,346.5 403.9,346.2 404.6,346.7 405.3,345.7 406.0,347.5 406.7,347.3 407.4,346.3 408.0,345.5 408.7,346.9 409.4,346.0 410.1,345.3 410.8,345.7 411.5,345.7 412.2,345.2 412.8,345.8 413.5,345.1 414.2,345.4 414.9,346.1 415.6,345.3 416.3,345.7 416.9,346.6 417.6,347.2 418.3,347.5 419.0,345.3 419.7,346.8 420.4,346.9 421.1,347.5 421.7,346.0 422.4,347.5 423.1,346.2 423.8,347.4 424.5,347.0 425.2,347.1 425.9,345.0 426.5,346.6 427.2,346.3 427.9,347.2 428.6,346.9 429.3,347.5 430.0,347.9 430.6,347.8 431.3,346.4 432.0,347.1 432.7,346.8 433.4,347.2 434.1,346.4 434.8,347.6 435.4,346.7 436.1,347.3 436.8,347.1 437.5,346.8 438.2,346.8 438.9,346.3 439.6,346.6 440.2,348.0 440.9,347.1 441.6,347.4 442.3,346.7 443.0,346.6 443.7,346.5 444.3,346.4 445.0,346.8 445.7,347.4 446.4,346.3 447.1,346.2 447.8,347.7 448.5,346.0 449.1,346.9 449.8,345.9 450.5,345.4 451.2,345.8 451.9,346.2 452.6,347.3 453.3,345.4 453.9,346.7 454.6,347.1 455.3,345.7 456.0,345.4 456.7,345.3 457.4,345.9 458.0,345.7 458.7,345.5 459.4,344.7 460.1,344.0 460.8,346.1 461.5,345.9 462.2,345.9 462.8,346.4 463.5,346.4 464.2,346.2 464.9,345.8 465.6,346.8 466.3,346.1 467.0,346.7 467.6,345.9 468.3,346.0 469.0,346.3 469.7,346.2 470.4,347.7 471.1,346.0 471.7,346.8 472.4,346.9 473.1,345.5 473.8,345.5 474.5,346.2 475.2,346.2 475.9,346.4 476.5,346.7 477.2,346.5 477.9,346.4 478.6,345.7 479.3,345.5 480.0,346.2 480.7,346.1 481.3,346.3 482.0,346.1 482.7,345.8 483.4,346.6 484.1,345.2 484.8,345.7 485.4,345.4 486.1,345.8 486.8,344.3 487.5,346.7 488.2,345.8 488.9,344.4 489.6,344.8 490.2,343.6 490.9,345.9 491.6,345.4 492.3,344.8 493.0,344.7 493.7,344.1 494.4,344.6 495.0,343.2 495.7,344.0 496.4,345.4 497.1,344.6 497.8,344.5 498.5,344.8 499.1,343.3 499.8,342.4 500.5,343.8 501.2,343.2 501.9,342.9 502.6,342.4 503.3,342.6 503.9,341.8 504.6,342.1 505.3,340.8 506.0,340.4 506.7,341.3 507.4,340.4 508.1,340.6 508.7,340.3 509.4,339.0 510.1,340.5 510.8,339.7 511.5,339.9 512.2,339.8 512.8,339.7 513.5,338.8 514.2,340.1 514.9,338.4 515.6,338.5 516.3,336.5 517.0,335.7 517.6,335.4 518.3,335.0 519.0,333.1 519.7,331.7 520.4,331.2 521.1,330.7 521.8,330.6 522.4,330.8 523.1,331.4 523.8,333.7 524.5,335.4 525.2,337.1 525.9,338.3 526.5,339.9 527.2,341.4 527.9,340.8 528.6,341.1 529.3,341.9 530.0,341.1 530.7,341.9 531.3,341.7 532.0,340.2 532.7,340.5 533.4,339.7 534.1,338.3 534.8,336.9 535.5,334.4 536.1,333.8 536.8,331.2 537.5,329.2 538.2,328.3 538.9,325.4 539.6,323.6 540.2,321.3 540.9,320.5 541.6,321.7 542.3,325.0 543.0,327.6 543.7,331.4 544.4,333.3 545.0,333.7 545.7,336.5 546.4,336.4 547.1,334.7 547.8,332.2 548.5,330.7 549.2,327.3 549.8,321.9 550.5,318.7 551.2,314.1 551.9,307.5 552.6,302.4 553.3,299.3 553.9,296.0 554.6,294.1 555.3,298.0 556.0,305.9 556.7,314.6 557.4,322.9 558.1,331.2 558.7,333.7 559.4,338.6 560.1,340.1 560.8,341.4 561.5,342.5 562.2,344.0 562.9,343.8 563.5,343.1 564.2,343.9 564.9,343.5 565.6,342.8 566.3,344.6 567.0,344.1 567.6,344.8 568.3,344.4 569.0,344.8 569.7,344.6 570.4,344.9 571.1,344.6 571.8,345.0 572.4,344.7 573.1,344.9 573.8,346.2 574.5,345.0 575.2,345.7 575.9,345.5 576.6,344.6 577.2,346.3 577.9,345.7 578.6,345.1 579.3,345.9 580.0,345.4 580.7,345.3 581.3,344.6 582.0,345.7 582.7,346.0 583.4,344.1 584.1,345.2 584.8,343.9 585.5,345.0 586.1,345.3 586.8,346.0 587.5,345.0 588.2,346.6 588.9,344.7 589.6,345.2 590.3,345.2 590.9,345.6 591.6,345.2 592.3,346.4 593.0,344.9 593.7,345.1 594.4,345.9 595.0,346.1 595.7,344.8 596.4,344.0 597.1,345.8 597.8,344.0 598.5,344.2 599.2,345.1 599.8,344.6 600.5,344.8 601.2,343.5 601.9,344.4 602.6,344.0 603.3,343.1 604.0,343.4 604.6,343.2 605.3,342.1 606.0,341.5 606.7,340.3 607.4,339.5 608.1,339.2 608.7,339.6 609.4,336.6 610.1,335.3 610.8,335.2 611.5,333.7 612.2,333.9 612.9,335.0 613.5,335.3 614.2,338.8 614.9,339.5 615.6,341.6 616.3,341.8 617.0,342.3 617.7,343.2 618.3,343.5 619.0,343.5 619.7,345.0 620.4,344.7 621.1,344.4 621.8,344.2 622.4,344.3 623.1,345.1 623.8,345.1 624.5,345.1 625.2,345.5 625.9,345.5 626.6,345.5 627.2,346.5 627.9,344.9 628.6,347.0 629.3,343.3 630.0,345.8 630.7,345.0 631.4,345.4 632.0,344.4 632.7,344.9 633.4,344.7 634.1,344.4 634.8,345.4 635.5,344.2 636.1,343.6 636.8,344.3 637.5,343.9 638.2,343.7 638.9,344.1 639.6,344.1 640.3,344.6 640.9,345.2 641.6,344.4 642.3,344.0 643.0,344.8 643.7,345.9 644.4,346.1 645.1,344.6 645.7,345.3 646.4,345.9 647.1,345.7 647.8,345.4 648.5,345.5 649.2,345.4 649.8,346.0 650.5,345.9 651.2,345.8 651.9,345.8 652.6,344.7 653.3,345.5 654.0,345.6 654.6,345.7 655.3,345.4 656.0,346.2 656.7,345.2 657.4,345.8 658.1,344.2 658.8,346.4 659.4,344.1 660.1,345.7 660.8,344.5 661.5,346.3 662.2,346.0 662.9,346.0 663.5,345.1 664.2,344.4 664.9,344.5 665.6,344.3 666.3,345.7 667.0,345.4 667.7,345.1 668.3,346.1 669.0,346.5 669.7,345.1 670.4,345.8 671.1,346.4 671.8,345.6 672.5,345.4 673.1,345.5 673.8,346.1 674.5,344.5 675.2,346.0 675.9,345.6 676.6,344.8 677.2,345.5 677.9,344.2 678.6,345.3 679.3,343.2 680.0,344.2 680.7,344.2 681.4,342.9 682.0,344.5 682.7,344.1 683.4,343.9 684.1,343.3 684.8,343.9 685.5,344.4 686.2,344.1 686.8,344.4 687.5,344.2 688.2,343.7 688.9,344.0 689.6,342.8 690.3,343.8 690.9,343.5 691.6,342.8 692.3,343.0 693.0,343.5 693.7,343.0 694.4,343.6 695.1,344.1 695.7,343.6 696.4,343.5 697.1,343.3 697.8,343.8 698.5,342.3 699.2,343.3 699.9,343.4 700.5,342.8 701.2,343.3 701.9,343.2 702.6,342.3 703.3,342.5 704.0,341.5 704.6,341.7 705.3,341.3 706.0,341.0 706.7,340.7 707.4,341.0 708.1,341.2 708.8,341.0 709.4,341.0 710.1,341.0 710.8,340.8 711.5,340.0 712.2,340.9 712.9,340.4 713.6,339.4 714.2,339.9 714.9,339.0 715.6,338.6 716.3,338.2 717.0,337.8 717.7,337.4 718.3,337.7 719.0,337.5 719.7,336.6 720.4,337.8 721.1,336.9 721.8,337.0 722.5,336.5 723.1,336.9 723.8,336.7 724.5,335.0 725.2,336.4 725.9,335.9 726.6,333.4 727.3,334.1 727.9,333.6 728.6,332.3 729.3,331.6 730.0,330.1 730.7,328.9 731.4,329.4 732.0,327.2 732.7,327.0 733.4,327.9 734.1,327.3 734.8,331.1 735.5,330.5 736.2,332.7 736.8,334.4 737.5,335.4 738.2,337.6 738.9,337.6 739.6,338.3 740.3,339.2 741.0,339.2 741.6,337.3 742.3,339.6 743.0,340.1 743.7,340.1 744.4,338.0 745.1,338.4 745.7,339.1 746.4,339.7 747.1,338.3 747.8,338.4 748.5,339.4 749.2,339.3 749.9,338.9 750.5,338.3 751.2,339.9 751.9,338.2 752.6,337.4 753.3,337.9 754.0,337.1 754.7,338.6 755.3,337.9 756.0,337.4 756.7,337.6 757.4,337.0 758.1,337.6 758.8,338.1 759.4,336.9 760.1,336.3 760.8,336.7 761.5,335.5 762.2,335.8 762.9,334.4 763.6,334.0 764.2,333.4 764.9,333.6 765.6,332.3 766.3,332.2 767.0,331.0 767.7,330.9 768.4,329.1 769.0,328.1 769.7,325.9 770.4,323.5 771.1,323.1 771.8,320.0 772.5,319.8 773.1,317.0 773.8,315.1 774.5,314.4 775.2,314.5 775.9,314.0 776.6,316.0 777.3,318.3 777.9,319.7 778.6,321.6 779.3,323.5 780.0,324.6 780.7,324.9 781.4,327.9 782.1,327.4 782.7,329.2 783.4,327.8 784.1,328.4 784.8,326.8 785.5,327.8 786.2,327.0 786.8,325.6 787.5,324.8 788.2,324.8 788.9,322.9 789.6,321.6 790.3,319.1 791.0,315.6 791.6,314.0 792.3,310.0 793.0,305.3 793.7,303.7 794.4,302.5 795.1,301.4 795.8,301.7 796.4,304.6 797.1,308.0 797.8,314.9 798.5,316.8 799.2,321.6 799.9,323.9 800.5,325.4 801.2,327.8 801.9,326.5 802.6,329.4 803.3,328.4 804.0,328.5 804.7,328.1 805.3,327.6 806.0,327.8 806.7,327.0 807.4,326.1 808.1,324.1 808.8,325.3 809.5,324.0 810.1,322.8 810.8,321.2 811.5,321.8 812.2,320.1 812.9,321.9 813.6,321.3 814.2,323.3 814.9,324.0 815.6,325.0 816.3,324.8 817.0,326.6 817.7,325.6 818.4,325.2 819.0,325.5 819.7,325.4 820.4,325.8 821.1,323.5 821.8,323.5 822.5,323.5 823.2,321.7 823.8,322.8 824.5,323.6 825.2,323.4 825.9,324.1 826.6,325.4 827.3,326.3 827.9,328.1 828.6,330.7 829.3,331.6 830.0,332.8 830.7,332.4 831.4,333.7 832.1,333.1 832.7,332.9 833.4,332.1 834.1,332.7 834.8,332.3 835.5,331.9 836.2,330.3 836.9,328.0 837.5,325.9 838.2,323.6 838.9,319.5 839.6,316.4 840.3,311.7 841.0,306.2 841.6,301.1 842.3,294.4 843.0,287.2 843.7,281.8 844.4,274.6 845.1,268.5 845.8,262.9 846.4,260.6 847.1,260.2 847.8,262.9 848.5,270.6 849.2,279.7 849.9,289.2 850.6,297.8 851.2,305.7 851.9,312.6 852.6,317.9 853.3,322.9 854.0,326.4 854.7,328.5 855.3,331.1 856.0,333.1 856.7,333.4 857.4,332.4 858.1,333.9 858.8,335.4 859.5,334.7 860.1,333.3 860.8,333.5 861.5,333.0 862.2,334.2 862.9,333.3 863.6,332.3 864.3,332.3 864.9,332.3 865.6,331.9 866.3,333.4 867.0,333.2 867.7,333.7 868.4,335.1 869.0,335.7 869.7,336.8 870.4,338.6 871.1,337.5 871.8,337.7 872.5,338.4 873.2,339.0 873.8,338.9 874.5,338.9 875.2,339.9 875.9,339.1 876.6,339.3 877.3,341.8 878.0,341.0 878.6,340.6 879.3,342.5 880.0,340.5 880.7,341.1 881.4,341.5 882.1,341.3 882.7,339.9 883.4,340.5 884.1,340.7 884.8,341.3 885.5,341.6 886.2,340.5 886.9,340.9 887.5,342.2 888.2,340.7 888.9,341.6 889.6,340.8 890.3,343.0 891.0,340.1 891.7,341.1 892.3,340.4 893.0,340.2 893.7,340.3 894.4,340.3 895.1,340.8 895.8,339.8 896.4,339.4 897.1,340.0 897.8,339.9 898.5,338.9 899.2,339.2 899.9,338.7 900.6,338.7 901.2,339.1 901.9,339.2 902.6,340.6 903.3,338.9 904.0,341.0 904.7,340.1 905.4,339.6 906.0,340.6 906.7,338.8 907.4,341.8 908.1,340.7 908.8,341.6 909.5,340.9 910.1,341.4 910.8,340.7 911.5,340.5 912.2,340.9 912.9,341.8 913.6,340.9 914.3,341.2 914.9,341.1 915.6,341.3 916.3,341.2 917.0,340.4 917.7,340.8 918.4,341.6 919.1,340.1 919.7,340.7 920.4,340.5 921.1,340.7 921.8,340.2 922.5,340.2 923.2,340.9 923.8,341.0 924.5,339.3 925.2,340.2 925.9,338.5 926.6,338.5 927.3,338.1 928.0,337.7 928.6,337.2 929.3,336.0 930.0,335.7 930.7,334.4 931.4,332.4 932.1,332.3 932.8,330.6 933.4,330.1 934.1,328.3 934.8,328.4 935.5,327.0 936.2,329.2 936.9,329.0 937.5,331.3 938.2,332.4 938.9,335.2 939.6,335.6 940.3,337.9 941.0,337.8 941.7,339.2 942.3,340.3 943.0,340.5 943.7,339.6 944.4,340.4 945.1,339.4 945.8,340.2 946.5,340.5 947.1,341.0 947.8,340.5 948.5,341.8 949.2,341.0 949.9,340.5 950.6,340.3 951.2,340.3 951.9,340.0 952.6,338.2 953.3,339.4 954.0,339.0 954.7,337.6 955.4,337.5 956.0,337.4 956.7,335.4 957.4,335.5 958.1,334.8 958.8,334.3 959.5,333.4 960.2,333.5 960.8,333.5 961.5,333.5 962.2,333.0 962.9,332.7 963.6,333.1 964.3,334.5 964.9,335.8 965.6,335.4 966.3,337.7 967.0,337.8 967.7,338.3 968.4,338.6 969.1,339.1 969.7,341.4 970.4,340.6 971.1,341.1 971.8,341.7 972.5,339.8 973.2,341.7 973.9,340.9 974.5,341.8 975.2,340.9 975.9,341.7 976.6,342.6 977.3,340.9 978.0,341.7 978.6,342.1 979.3,342.6 980.0,342.4 980.7,343.0 981.4,341.8 982.1,343.1 982.8,341.2 983.4,341.8 984.1,341.6 984.8,342.6 985.5,341.3 986.2,342.1 986.9,341.3 987.6,342.3 988.2,341.0 988.9,342.0 989.6,341.7 990.3,341.9 991.0,341.3 991.7,340.7 992.3,341.6 993.0,340.9 993.7,340.2 994.4,341.4 995.1,341.4 995.8,341.0 996.5,341.4 997.1,341.1 997.8,342.1 998.5,340.3 999.2,341.8 999.9,341.6 1000.6,342.6 1001.3,342.4 1001.9,342.3 1002.6,340.7 1003.3,341.8 1004.0,341.3 1004.7,341.5 1005.4,341.5 1006.0,342.6 1006.7,342.6 1007.4,342.4 1008.1,342.4 1008.8,341.3 1009.5,342.4 1010.2,342.3 1010.8,340.9 1011.5,344.0 1012.2,342.7 1012.9,341.7 1013.6,342.5 1014.3,342.8 1015.0,342.2 1015.6,342.3 1016.3,343.5 1017.0,343.0 1017.7,343.8 1018.4,343.7 1019.1,342.9 1019.7,343.3 1020.4,342.4 1021.1,343.7 1021.8,342.5 1022.5,343.7 1023.2,343.3 1023.9,342.4 1024.5,342.3 1025.2,342.5 1025.9,342.8 1026.6,343.7 1027.3,343.3 1028.0,343.5 1028.7,344.4 1029.3,343.4 1030.0,342.4 1030.7,343.6 1031.4,343.7 1032.1,344.9 1032.8,343.4 1033.4,344.0 1034.1,343.3 1034.8,342.6 1035.5,344.1 1036.2,344.0 1036.9,343.9 1037.6,343.8 1038.2,343.9 1038.9,344.7 1039.6,343.3 1040.3,344.4 1041.0,344.4 1041.7,343.6 1042.4,343.2 1043.0,343.7 1043.7,344.3 1044.4,343.8 1045.1,343.5 1045.8,343.9 1046.5,343.7 1047.1,343.6 1047.8,344.2 1048.5,343.6 1049.2,344.6 1049.9,343.2 1050.6,344.0 1051.3,343.4 1051.9,343.8 1052.6,344.1 1053.3,343.7 1054.0,343.8 1054.7,343.8 1055.4,344.0 1056.1,343.3 1056.7,343.8 1057.4,343.2 1058.1,343.9 1058.8,344.7 1059.5,342.7 1060.2,345.6 1060.8,344.8 1061.5,344.0 1062.2,345.7 1062.9,345.4 1063.6,344.6 1064.3,344.6 1065.0,343.6 1065.6,344.8 1066.3,344.2 1067.0,345.5 1067.7,344.2 1068.4,343.8 1069.1,344.4 1069.8,344.2 1070.4,344.6 1071.1,343.6 1071.8,344.4 1072.5,343.7 1073.2,345.1 1073.9,344.4 1074.5,345.6 1075.2,345.9 1075.9,344.6 1076.6,345.3 1077.3,344.5 1078.0,345.2 1078.7,345.2 1079.3,345.3 1080.0,345.9 1080.7,345.7 1081.4,344.6 1082.1,345.5 1082.8,345.8 1083.5,345.8 1084.1,343.4 1084.8,343.6 1085.5,343.8 1086.2,345.3 1086.9,345.3 1087.6,345.1 1088.2,345.3 1088.9,344.5 1089.6,345.3 1090.3,344.8 1091.0,344.9 1091.7,345.4 1092.4,345.4 1093.0,344.8 1093.7,345.6 1094.4,345.2 1095.1,344.7 1095.8,344.4 1096.5,344.6 1097.2,344.6 1097.8,346.2 1098.5,343.1 1099.2,343.7 1099.9,345.1 1100.6,345.4 1101.3,344.9 1101.9,344.9 1102.6,344.7 1103.3,345.4 1104.0,344.0 1104.7,344.6 1105.4,343.3 1106.1,344.1 1106.7,344.7 1107.4,343.7 1108.1,343.5 1108.8,342.9 1109.5,344.8 1110.2,342.7 1110.9,343.0 1111.5,344.2 1112.2,342.6 1112.9,342.8 1113.6,342.5 1114.3,344.5 1115.0,344.4 1115.6,343.6 1116.3,343.8 1117.0,345.9 1117.7,344.6 1118.4,345.1 1119.1,345.2 1119.8,345.6 1120.4,346.1 1121.1,345.1 1121.8,344.2 1122.5,345.8 1123.2,345.1 1123.9,344.5 1124.6,345.4 1125.2,346.6 1125.9,345.3 1126.6,344.7 1127.3,344.8 1128.0,344.8 1128.7,344.8 1129.3,345.1 1130.0,345.6 1130.7,345.3 1131.4,346.0 1132.1,347.0 1132.8,345.6 1133.5,345.8 1134.1,345.3 1134.8,345.4 1135.5,345.8 1136.2,345.3 1136.9,345.5 1137.6,344.8 1138.3,345.3 1138.9,346.1 1139.6,345.1 1140.3,346.1 1141.0,346.2 1141.7,345.1 1142.4,344.7 1143.0,345.0 1143.7,343.5 1144.4,344.5 1145.1,345.2 1145.8,345.7 1146.5,343.7 1147.2,344.7 1147.8,346.1 1148.5,345.6 1149.2,344.9 1149.9,345.3 1150.6,345.3 1151.3,345.2 1152.0,346.1 1152.6,345.5 1153.3,345.8 1154.0,346.7 1154.7,346.6 1155.4,346.9 1156.1,345.4 1156.7,345.2 1157.4,346.7 1158.1,347.1 1158.8,347.1 1159.5,346.0 1160.2,345.0 1160.9,345.3 1161.5,346.4 1162.2,345.5 1162.9,344.8 1163.6,345.5 1164.3,347.2 1165.0,346.5 1165.7,346.5 1166.3,346.3 1167.0,346.3 1167.7,345.6 1168.4,347.9 1169.1,346.8 1169.8,347.4 1170.4,346.4 1171.1,346.0 1171.8,346.6 1172.5,346.6 1173.2,346.5 1173.9,346.2 1174.6,345.8 1175.2,345.1 1175.9,346.1 1176.6,345.4 1177.3,345.8 1178.0,346.0 1178.7,346.8 1179.4,346.7 1180.0,346.0 1180.7,346.8 1181.4,345.7 1182.1,346.4 1182.8,346.2 1183.5,345.3 1184.1,345.9 1184.8,345.4 1185.5,345.3 1186.2,345.3 1186.9,345.6 1187.6,346.6 1188.3,345.1 1188.9,344.4 1189.6,344.5 1190.3,343.1 1191.0,343.9 1191.7,344.7 1192.4,343.4 1193.1,342.8 1193.7,343.6 1194.4,343.9 1195.1,343.8 1195.8,343.9 1196.5,344.4 1197.2,344.0 1197.8,344.3 1198.5,343.9 1199.2,344.1 1199.9,345.5 1200.6,345.0 1201.3,345.4 1202.0,345.8 1202.6,345.7 1203.3,347.3 1204.0,346.2 1204.7,346.0 1205.4,347.2 1206.1,345.2 1206.8,346.2 1207.4,345.7 1208.1,346.9 1208.8,344.8 1209.5,347.0 1210.2,345.7 1210.9,347.1 1211.5,345.5 1212.2,346.2 1212.9,345.3 1213.6,346.5 1214.3,346.0 1215.0,347.0 1215.7,346.5 1216.3,347.4 1217.0,347.6 1217.7,345.4 1218.4,346.0 1219.1,345.7 1219.8,348.6 1220.5,347.4 1221.1,347.3 1221.8,348.1 1222.5,348.0 1223.2,346.1 1223.9,346.9 1224.6,348.2 1225.2,347.5 1225.9,347.5 1226.6,347.0 1227.3,347.0 1228.0,346.4 1228.7,346.9 1229.4,347.3 1230.0,347.1 1230.7,346.6 1231.4,346.3 1232.1,346.0 1232.8,347.7 1233.5,348.1 1234.2,347.0 1234.8,347.7 1235.5,347.8 1236.2,347.5 1236.9,347.2 1237.6,347.2 1238.3,346.7 1238.9,346.2 1239.6,347.7 1240.3,348.6 1241.0,347.5 1241.7,347.2 1242.4,347.8 1243.1,348.1 1243.7,347.6 1244.4,347.4 1245.1,347.4 1245.8,346.6 1246.5,345.8 1247.2,347.3 1247.9,346.9 1248.5,347.9 1249.2,347.6 1249.9,348.0 1250.6,347.8 1251.3,346.6 1252.0,347.1 1252.6,347.4 1253.3,347.1 1254.0,347.3 1254.7,348.1 1255.4,347.2 1256.1,348.1 1256.8,346.9 1257.4,347.5 1258.1,346.9 1258.8,347.1 1259.5,347.2 1260.2,347.1 1260.9,347.4 1261.6,347.6 1262.2,348.4 1262.9,347.5 1263.6,347.3 1264.3,348.6 1265.0,347.5 1265.7,347.6 1266.3,348.3 1267.0,347.8 1267.7,346.8 1268.4,348.1 1269.1,348.8 1269.8,347.3 1270.5,346.4 1271.1,346.8 1271.8,348.1 1272.5,346.6 1273.2,347.3 1273.9,347.0 1274.6,346.4 1275.3,346.3 1275.9,346.7 1276.6,345.0 1277.3,346.3 1278.0,347.0 1278.7,346.8 1279.4,347.2 1280.0,346.9 1280.7,346.9 1281.4,347.0 1282.1,345.1 1282.8,346.7 1283.5,347.5 1284.2,348.1 1284.8,348.2 1285.5,346.0 1286.2,347.4 1286.9,347.9 1287.6,347.7 1288.3,347.6 1289.0,347.3 1289.6,348.1 1290.3,346.6 1291.0,347.0 1291.7,347.1 1292.4,346.7 1293.1,347.4 1293.7,347.4 1294.4,346.9 1295.1,346.7 1295.8,347.3 1296.5,346.2 1297.2,347.9 1297.9,347.7 1298.5,348.2 1299.2,347.2 1299.9,347.5 1300.6,347.2 1301.3,346.3 1302.0,347.6 1302.7,347.2 1303.3,346.3 1304.0,347.4 1304.7,346.7 1305.4,347.4 1306.1,347.6 1306.8,347.4 1307.4,347.0 1308.1,345.5 1308.8,347.0 1309.5,347.0 1310.2,347.7 1310.9,346.8 1311.6,346.9 1312.2,346.6 1312.9,346.0 1313.6,346.6 1314.3,347.1 1315.0,347.4 1315.7,347.1 1316.4,346.9 1317.0,346.2 1317.7,347.0 1318.4,347.4 1319.1,347.8 1319.8,345.6 1320.5,346.2 1321.1,346.6 1321.8,345.8 1322.5,347.7 1323.2,347.2 1323.9,347.0 1324.6,347.1 1325.3,347.3 1325.9,345.8 1326.6,346.4 1327.3,346.8 1328.0,347.5 1328.7,346.6 1329.4,347.6 1330.1,347.3 1330.7,346.9 1331.4,347.5 1332.1,346.6 1332.8,346.2 1333.5,347.8 1334.2,346.8 1334.8,347.1 1335.5,347.1 1336.2,346.9 1336.9,347.3 1337.6,347.3 1338.3,346.6 1339.0,346.9 1339.6,346.7 1340.3,346.4 1341.0,346.7 1341.7,345.9 1342.4,346.9 1343.1,346.2 1343.8,346.2 1344.4,345.8 1345.1,346.5 1345.8,345.7 1346.5,346.0 1347.2,346.6 1347.9,346.1 1348.5,345.3 1349.2,346.3 1349.9,345.9 1350.6,346.0 1351.3,346.0 1352.0,346.2 1352.7,346.9 1353.3,346.4 1354.0,347.9 1354.7,348.4 1355.4,347.1 1356.1,346.2 1356.8,347.1 1357.5,348.8 1358.1,347.9 1358.8,347.1 1359.5,347.8 1360.2,347.7 1360.9,346.8 1361.6,347.6 1362.2,348.4 1362.9,347.1 1363.6,347.0 1364.3,347.9 1365.0,346.5 1365.7,347.3 1366.4,347.5 1367.0,347.5 1367.7,346.4 1368.4,346.7 1369.1,348.2 1369.8,346.1 1370.5,347.5 1371.2,346.8 1371.8,347.6 1372.5,345.6 1373.2,346.6 1373.9,347.5 1374.6,347.6 1375.3,346.4 1375.9,346.2 1376.6,347.3 1377.3,347.1 1378.0,347.6 1378.7,345.8 1379.4,348.0 1380.1,347.5 1380.7,345.9 1381.4,347.1 1382.1,346.9 1382.8,347.8 1383.5,346.6 1384.2,345.5 1384.9,346.7 1385.5,347.2 1386.2,348.2 1386.9,346.0 1387.6,345.8 1388.3,347.3 1389.0,347.3 1389.6,346.4 1390.3,346.6 1391.0,346.4 1391.7,346.2 1392.4,347.0 1393.1,344.9 1393.8,346.7 1394.4,347.8 1395.1,347.5 1395.8,345.6 1396.5,347.6 1397.2,345.2 1397.9,346.6 1398.6,345.1 1399.2,346.4 1399.9,346.3 1400.6,346.9 1401.3,347.1 1402.0,346.7 1402.7,346.8 1403.3,345.6 1404.0,347.5 1404.7,346.5 1405.4,346.9 1406.1,346.3 1406.8,347.1 1407.5,346.1 1408.1,345.0 1408.8,346.7 1409.5,345.8 1410.2,346.5 1410.9,347.2 1411.6,346.4 1412.3,346.4 1412.9,345.8 1413.6,346.9 1414.3,347.2 1415.0,347.3 1415.7,345.4 1416.4,346.5 1417.0,347.4 1417.7,345.6 1418.4,347.0 1419.1,347.7 1419.8,347.6 1420.5,348.7 1421.2,346.2 1421.8,346.6 1422.5,346.2 1423.2,347.3 1423.9,346.0 1424.6,348.0 1425.3,347.3 1426.0,346.9 1426.6,347.3 1427.3,348.1 1428.0,347.0 1428.7,347.0 1429.4,347.4 1430.1,345.8 1430.7,347.1 1431.4,346.9 1432.1,346.3 1432.8,347.0 1433.5,347.1 1434.2,345.7 1434.9,346.7 1435.5,347.1 1436.2,346.7 1436.9,347.4 1437.6,347.5 1438.3,345.2 1439.0,346.8 1439.7,346.7 1440.3,347.1 1441.0,346.7 1441.7,347.6 1442.4,347.1 1443.1,347.3 1443.8,347.8 1444.4,346.7 1445.1,347.5 1445.8,347.9 1446.5,347.0 1447.2,346.9 1447.9,347.4 1448.6,347.0 1449.2,346.5 1449.9,347.4 1450.6,349.1 1451.3,347.5 1452.0,346.6 1452.7,346.8 1453.4,348.5 1454.0,347.1 1454.7,347.0 1455.4,346.5 1456.1,347.0 1456.8,346.4 1457.5,347.6 1458.1,346.7 1458.8,346.0 1459.5,345.8 1460.2,345.5 1460.9,345.5 1461.6,347.3 1462.3,348.3 1462.9,347.1 1463.6,347.2 1464.3,347.7 1465.0,346.7 1465.7,347.8 1466.4,346.1 1467.1,346.9 1467.7,346.8 1468.4,347.2 1469.1,346.8 1469.8,347.6 1470.5,347.5 1471.2,347.7 1471.8,347.1 1472.5,348.0 1473.2,346.6 1473.9,346.5 1474.6,346.5 1475.3,348.1 1476.0,346.6 1476.6,348.2 1477.3,346.9 1478.0,345.4 1478.7,346.7 1479.4,347.9 1480.1,346.7 1480.8,348.2 1481.4,346.1 1482.1,347.0 1482.8,345.5 1483.5,345.9 1484.2,346.4 1484.9,346.2 1485.5,347.3 1486.2,347.5 1486.9,346.5 1487.6,345.8 1488.3,346.8 1489.0,345.9 1489.7,346.5 1490.3,346.8 1491.0,346.1 1491.7,346.1 1492.4,346.2 1493.1,346.5 1493.8,345.8 1494.5,346.5 1495.1,347.1 1495.8,345.9 1496.5,346.5 1497.2,345.0 1497.9,346.2 1498.6,345.6 1499.2,347.0 1499.9,347.2 1500.6,346.2 1501.3,347.4 1502.0,347.0 1502.7,346.6 1503.4,347.0 1504.0,347.9 1504.7,346.4 1505.4,347.0 1506.1,346.9 1506.8,347.0 1507.5,346.1 1508.2,346.0 1508.8,347.0 1509.5,346.9 1510.2,347.8 1510.9,346.9 1511.6,347.5 1512.3,347.2 1512.9,345.9 1513.6,347.0 1514.3,347.2 1515.0,347.2 1515.7,347.0 1516.4,346.6 1517.1,347.9 1517.7,347.2 1518.4,346.6 1519.1,346.7 1519.8,346.4 1520.5,346.4 1521.2,347.7 1521.9,347.2 1522.5,346.8 1523.2,347.6 1523.9,347.5 1524.6,346.2 1525.3,348.1 1526.0,345.7 1526.6,348.2 1527.3,347.3 1528.0,346.5 1528.7,347.2 1529.4,347.5 1530.1,347.9 1530.8,346.9 1531.4,347.7 1532.1,347.3 1532.8,347.1 1533.5,347.2 1534.2,347.2 1534.9,347.6 1535.6,346.3 1536.2,347.5 1536.9,346.8 1537.6,347.0 1538.3,347.1 1539.0,346.5 1539.7,346.7 1540.3,346.6 1541.0,346.7 1541.7,347.7 1542.4,345.7 1543.1,346.8 1543.8,345.0 1544.5,346.3 1545.1,347.7 1545.8,346.5 1546.5,345.3 1547.2,345.8 1547.9,346.2 1548.6,346.7 1549.3,345.7 1549.9,346.1 1550.6,346.7 1551.3,345.9 1552.0,346.1 1552.7,346.1 1553.4,345.5 1554.0,345.9 1554.7,348.0 1555.4,344.8 1556.1,347.1 1556.8,346.1 1557.5,347.4 1558.2,347.1 1558.8,346.4 1559.5,347.8 1560.2,346.8 1560.9,346.7 1561.6,347.4 1562.3,348.0 1563.0,347.5 1563.6,347.7 1564.3,347.2 1565.0,347.8 1565.7,347.4 1566.4,347.3 1567.1,345.6 1567.7,347.0 1568.4,345.7 1569.1,346.8 1569.8,346.8 1570.5,346.7 1571.2,346.8 1571.9,348.2 1572.5,347.7 1573.2,346.6 1573.9,347.9 1574.6,347.6 1575.3,347.0 1576.0,347.1 1576.7,346.2 1577.3,345.1 1578.0,346.5 1578.7,346.8 1579.4,346.1 1580.1,347.0 1580.8,346.8 1581.4,345.1 1582.1,347.6 1582.8,347.6 1583.5,346.9 1584.2,346.7 1584.9,347.0 1585.6,346.6 1586.2,347.2 1586.9,347.1 1587.6,347.1 1588.3,347.3 1589.0,346.6 1589.7,346.6 1590.4,347.6 1591.0,347.2 1591.7,347.3 1592.4,348.1 1593.1,347.0 1593.8,346.2 1594.5,347.8 1595.1,347.3 1595.8,347.2 1596.5,346.5 1597.2,346.6 1597.9,347.3 1598.6,346.7 1599.3,345.5 1599.9,346.9 1600.6,346.5 1601.3,345.9 1602.0,348.1 1602.7,346.4 1603.4,346.7 1604.1,347.4 1604.7,347.7 1605.4,346.8 1606.1,347.5 1606.8,347.9 1607.5,348.3 1608.2,346.8 1608.8,347.4 1609.5,347.2 1610.2,347.5 1610.9,348.7 1611.6,347.9 1612.3,347.9 1613.0,348.7 1613.6,348.6 1614.3,347.3 1615.0,346.4 1615.7,347.0 1616.4,345.7 1617.1,346.9 1617.8,346.9 1618.4,347.2 1619.1,346.9 1619.8,348.5 1620.5,346.3 1621.2,346.9 1621.9,347.0 1622.5,346.6 1623.2,346.5 1623.9,346.6 1624.6,345.3 1625.3,345.8 1626.0,346.9 1626.7,345.4 1627.3,347.4 1628.0,345.8 1628.7,346.6 1629.4,347.2 1630.1,346.3 1630.8,346.4 1631.5,346.0 1632.1,346.6 1632.8,345.4 1633.5,345.3 1634.2,348.1 1634.9,346.5 1635.6,347.7 1636.2,347.5 1636.9,347.9 1637.6,347.2 1638.3,346.6 1639.0,347.6 1639.7,347.5 1640.4,346.0 1641.0,346.7 1641.7,347.4 1642.4,345.7 1643.1,345.7 1643.8,346.3 1644.5,346.9 1645.2,345.1 1645.8,346.0 1646.5,346.3 1647.2,347.1 1647.9,346.4 1648.6,347.2 1649.3,346.7 1649.9,348.1 1650.6,346.4 1651.3,346.8 1652.0,346.5 1652.7,347.4 1653.4,346.8 1654.1,347.3 1654.7,347.2 1655.4,347.5 1656.1,347.1 1656.8,345.9 1657.5,346.3 1658.2,347.0 1658.9,347.2 1659.5,346.2 1660.2,348.6 1660.9,347.2 1661.6,345.6 1662.3,347.2 1663.0,346.7 1663.6,346.3 1664.3,347.2 1665.0,348.4 1665.7,348.0 1666.4,346.7 1667.1,347.3 1667.8,347.8 1668.4,346.0 1669.1,346.5 1669.8,348.0 1670.5,347.0 1671.2,347.3 1671.9,346.5 1672.6,345.9 1673.2,347.2 1673.9,348.8 1674.6,345.5 1675.3,347.5 1676.0,347.5 1676.7,347.4 1677.3,347.3 1678.0,347.6 1678.7,346.5 1679.4,346.5"/>
<polyline stroke="#00c6c6" stroke-width="12.5" points="172.4,191.5 173.1,191.5 173.8,190.7 174.5,191.9 175.1,191.7 175.8,191.3 176.5,191.7 177.2,191.7 177.9,192.3 178.6,192.7 179.3,191.3 179.9,192.1 180.6,192.3 181.3,190.9 182.0,192.1 182.7,191.6 183.4,193.1 184.0,192.3 184.7,191.7 185.4,191.6 186.1,191.7 186.8,191.5 187.5,192.3 188.2,193.3 188.8,191.6 189.5,192.5 190.2,192.3 190.9,193.8 191.6,192.4 192.3,192.4 193.0,192.7 193.6,193.1 194.3,192.3 195.0,192.1 195.7,192.6 196.4,193.3 197.1,193.0 197.7,193.7 198.4,193.9 199.1,193.5 199.8,192.4 200.5,193.4 201.2,193.9 201.9,193.7 202.5,194.2 203.2,193.3 203.9,194.7 204.6,194.1 205.3,193.8 206.0,193.3 206.7,194.5 207.3,194.9 208.0,195.2 208.7,193.9 209.4,194.3 210.1,192.8 210.8,194.0 211.4,194.4 212.1,193.6 212.8,193.8 213.5,192.8 214.2,193.9 214.9,193.5 215.6,193.8 216.2,194.2 216.9,194.1 217.6,193.6 218.3,193.9 219.0,193.7 219.7,194.8 220.4,194.6 221.0,194.0 221.7,195.5 222.4,195.1 223.1,195.4 223.8,194.7 224.5,195.3 225.1,194.6 225.8,193.3 226.5,195.2 227.2,194.8 227.9,195.6 228.6,194.4 229.3,194.1 229.9,193.9 230.6,195.6 231.3,195.5 232.0,194.1 232.7,195.3 233.4,195.4 234.1,194.3 234.7,195.3 235.4,195.3 236.1,195.8 236.8,196.0 237.5,195.3 238.2,197.0 238.8,195.2 239.5,196.6 240.2,194.4 240.9,195.5 241.6,195.0 242.3,196.0 243.0,195.8 243.6,195.3 244.3,196.4 245.0,195.5 245.7,195.7 246.4,194.4 247.1,196.6 247.8,194.2 248.4,195.0 249.1,195.5 249.8,194.5 250.5,195.1 251.2,196.0 251.9,195.7 252.5,196.0 253.2,196.1 253.9,195.5 254.6,195.8 255.3,195.1 256.0,196.0 256.7,195.0 257.3,196.5 258.0,194.9 258.7,194.7 259.4,195.7 260.1,195.6 260.8,195.9 261.5,194.7 262.1,196.0 262.8,195.5 263.5,195.8 264.2,195.4 264.9,196.4 265.6,196.2 266.2,195.9 266.9,195.4 267.6,194.6 268.3,195.4 269.0,195.5 269.7,195.8 270.4,195.5 271.0,195.1 271.7,195.4 272.4,196.0 273.1,193.9 273.8,194.9 274.5,194.9 275.2,195.0 275.8,196.3 276.5,195.7 277.2,195.5 277.9,195.7 278.6,195.8 279.3,194.7 279.9,195.6 280.6,195.9 281.3,195.5 282.0,195.0 282.7,195.1 283.4,196.3 284.1,195.4 284.7,194.8 285.4,195.0 286.1,196.6 286.8,195.4 287.5,196.1 288.2,195.4 288.9,195.6 289.5,195.7 290.2,195.2 290.9,195.2 291.6,194.4 292.3,196.5 293.0,194.8 293.6,194.9 294.3,194.4 295.0,195.9 295.7,195.4 296.4,194.8 297.1,195.2 297.8,195.7 298.4,195.7 299.1,195.9 299.8,193.9 300.5,195.2 301.2,195.8 301.9,196.5 302.6,195.6 303.2,195.5 303.9,195.4 304.6,194.9 305.3,195.9 306.0,194.4 306.7,195.0 307.3,197.5 308.0,196.2 308.7,196.6 309.4,195.5 310.1,196.0 310.8,194.4 311.5,197.7 312.1,194.8 312.8,195.7 313.5,195.4 314.2,195.3 314.9,195.2 315.6,197.1 316.3,196.5 316.9,196.7 317.6,195.6 318.3,196.4 319.0,196.1 319.7,196.3 320.4,195.0 321.0,195.2 321.7,196.2 322.4,196.1 323.1,196.4 323.8,195.8 324.5,194.9 325.2,196.0 325.8,195.1 326.5,195.5 327.2,195.6 327.9,194.7 328.6,195.4 329.3,195.5 330.0,195.2 330.6,194.7 331.3,194.9 332.0,196.5 332.7,195.7 333.4,196.5 334.1,197.0 334.7,196.1 335.4,195.9 336.1,196.5 336.8,196.1 337.5,196.1 338.2,194.9 338.9,196.1 339.5,196.7 340.2,195.1 340.9,196.4 341.6,196.8 342.3,196.9 343.0,195.1 343.7,196.5 344.3,195.0 345.0,196.3 345.7,196.0 346.4,195.9 347.1,196.8 347.8,196.2 348.4,196.1 349.1,195.1 349.8,195.7 350.5,195.0 351.2,196.0 351.9,194.4 352.6,194.3 353.2,195.1 353.9,194.5 354.6,195.0 355.3,194.7 356.0,194.7 356.7,194.6 357.4,194.8 358.0,194.8 358.7,194.9 359.4,195.2 360.1,194.4 360.8,194.1 361.5,196.0 362.1,194.6 362.8,195.3 363.5,194.7 364.2,195.9 364.9,195.4 365.6,196.2 366.3,195.1 366.9,194.8 367.6,194.5 368.3,194.6 369.0,195.8 369.7,195.6 370.4,195.5 371.1,195.4 371.7,195.1 372.4,194.3 373.1,194.2 373.8,194.6 374.5,194.6 375.2,193.4 375.8,192.5 376.5,195.0 377.2,192.4 377.9,192.1 378.6,192.0 379.3,191.6 380.0,191.5 380.6,191.7 381.3,190.9 382.0,190.1 382.7,192.6 383.4,193.3 384.1,193.3 384.8,194.8 385.4,194.4 386.1,195.1 386.8,194.6 387.5,195.8 388.2,194.7 388.9,195.6 389.5,196.2 390.2,196.1 390.9,195.7 391.6,195.6 392.3,195.2 393.0,195.3 393.7,196.3 394.3,197.7 395.0,195.3 395.7,194.6 396.4,194.4 397.1,195.5 397.8,195.3 398.5,195.0 399.1,195.3 399.8,195.0 400.5,196.1 401.2,195.7 401.9,195.5 402.6,196.7 403.2,194.4 403.9,193.3 404.6,196.1 405.3,195.9 406.0,196.5 406.7,195.7 407.4,196.7 408.0,196.7 408.7,196.3 409.4,196.6 410.1,194.8 410.8,195.1 411.5,196.2 412.2,195.1 412.8,195.6 413.5,195.9 414.2,195.3 414.9,195.9 415.6,196.2 416.3,195.6 416.9,196.3 417.6,195.6 418.3,195.8 419.0,196.0 419.7,195.1 420.4,195.3 421.1,195.9 421.7,194.7 422.4,195.0 423.1,196.9 423.8,195.5 424.5,195.9 425.2,196.2 425.9,194.9 426.5,196.0 427.2,196.6 427.9,196.3 428.6,196.4 429.3,196.3 430.0,196.2 430.6,195.5 431.3,196.5 432.0,197.6 432.7,197.0 433.4,196.4 434.1,195.5 434.8,196.9 435.4,196.8 436.1,195.6 436.8,195.7 437.5,197.0 438.2,197.2 438.9,195.8 439.6,195.0 440.2,196.9 440.9,196.0 441.6,195.6 442.3,195.9 443.0,195.4 443.7,196.6 444.3,195.7 445.0,195.1 445.7,195.3 446.4,196.1 447.1,196.4 447.8,196.6 448.5,196.4 449.1,194.9 449.8,195.3 450.5,195.5 451.2,194.8 451.9,196.1 452.6,195.7 453.3,196.3 453.9,194.2 454.6,194.9 455.3,195.6 456.0,196.0 456.7,195.4 457.4,194.4 458.0,194.6 458.7,194.9 459.4,194.3 460.1,194.6 460.8,193.6 461.5,193.8 462.2,194.4 462.8,194.1 463.5,194.2 464.2,193.6 464.9,194.2 465.6,193.4 466.3,195.0 467.0,194.5 467.6,195.3 468.3,193.7 469.0,192.0 469.7,193.5 470.4,193.6 471.1,193.8 471.7,192.6 472.4,194.2 473.1,192.5 473.8,194.3 474.5,193.3 475.2,192.6 475.9,193.1 476.5,193.8 477.2,192.6 477.9,191.9 478.6,192.2 479.3,193.6 480.0,193.9 480.7,193.3 481.3,192.4 482.0,192.6 482.7,193.9 483.4,193.7 484.1,192.7 484.8,192.8 485.4,192.7 486.1,193.1 486.8,192.8 487.5,194.5 488.2,193.4 488.9,192.3 489.6,192.2 490.2,193.1 490.9,192.4 491.6,192.4 492.3,193.1 493.0,192.9 493.7,191.8 494.4,192.3 495.0,191.9 495.7,191.8 496.4,192.9 497.1,192.7 497.8,192.5 498.5,192.3 499.1,193.2 499.8,193.7 500.5,192.1 501.2,192.9 501.9,193.2 502.6,193.0 503.3,191.7 503.9,191.2 504.6,193.0 505.3,192.4 506.0,191.6 506.7,191.4 507.4,192.0 508.1,192.1 508.7,192.9 509.4,191.9 510.1,192.3 510.8,192.1 511.5,192.0 512.2,190.5 512.8,192.4 513.5,190.6 514.2,191.0 514.9,191.3 515.6,190.2 516.3,191.0 517.0,190.8 517.6,189.6 518.3,190.3 519.0,191.5 519.7,189.8 520.4,188.9 521.1,188.8 521.8,190.2 522.4,190.3 523.1,191.2 523.8,189.6 524.5,190.6 525.2,191.4 525.9,191.4 526.5,193.3 527.2,193.6 527.9,190.8 528.6,192.0 529.3,190.5 530.0,192.0 530.7,191.1 531.3,190.3 532.0,190.7 532.7,190.8 533.4,189.4 534.1,189.1 534.8,188.5 535.5,190.1 536.1,188.2 536.8,187.2 537.5,186.6 538.2,185.8 538.9,183.7 539.6,184.4 540.2,184.3 540.9,184.9 541.6,185.5 542.3,186.4 543.0,186.1 543.7,188.3 544.4,187.7 545.0,186.4 545.7,187.2 546.4,187.9 547.1,187.8 547.8,186.7 548.5,186.2 549.2,185.1 549.8,185.1 550.5,183.8 551.2,181.7 551.9,180.1 552.6,178.3 553.3,177.8 553.9,178.2 554.6,178.0 555.3,181.0 556.0,182.7 556.7,185.7 557.4,187.7 558.1,188.9 558.7,190.5 559.4,189.3 560.1,189.9 560.8,190.2 561.5,191.0 562.2,191.3 562.9,189.7 563.5,190.6 564.2,191.7 564.9,191.2 565.6,190.6 566.3,190.8 567.0,189.9 567.6,189.5 568.3,190.1 569.0,189.4 569.7,189.6 570.4,191.5 571.1,191.0 571.8,191.5 572.4,190.7 573.1,191.5 573.8,191.6 574.5,190.1 575.2,191.5 575.9,191.3 576.6,191.3 577.2,191.0 577.9,190.7 578.6,190.9 579.3,191.2 580.0,191.5 580.7,191.1 581.3,189.7 582.0,190.8 582.7,189.4 583.4,191.2 584.1,190.5 584.8,191.0 585.5,190.7 586.1,190.0 586.8,191.4 587.5,191.3 588.2,190.7 588.9,190.6 589.6,191.0 590.3,190.4 590.9,190.2 591.6,192.6 592.3,190.5 593.0,191.5 593.7,190.9 594.4,189.4 595.0,190.8 595.7,190.3 596.4,191.5 597.1,191.0 597.8,190.7 598.5,190.1 599.2,191.6 599.8,190.1 600.5,190.5 601.2,190.6 601.9,189.6 602.6,190.2 603.3,190.2 604.0,188.9 604.6,188.6 605.3,188.7 606.0,188.1 606.7,188.6 607.4,188.4 608.1,187.9 608.7,186.2 609.4,186.7 610.1,186.9 610.8,185.8 611.5,185.0 612.2,186.3 612.9,187.7 613.5,185.8 614.2,187.2 614.9,189.8 615.6,188.5 616.3,187.6 617.0,190.7 617.7,189.8 618.3,189.0 619.0,189.2 619.7,189.3 620.4,189.0 621.1,190.5 621.8,189.9 622.4,189.0 623.1,189.8 623.8,189.6 624.5,189.7 625.2,189.4 625.9,189.6 626.6,189.9 627.2,190.1 627.9,190.1 628.6,191.2 629.3,190.0 630.0,190.0 630.7,188.7 631.4,188.8 632.0,191.0 632.7,189.1 633.4,190.3 634.1,190.1 634.8,188.8 635.5,190.5 636.1,189.0 636.8,189.9 637.5,189.3 638.2,188.6 638.9,188.5 639.6,189.3 640.3,190.0 640.9,189.3 641.6,189.4 642.3,189.8 643.0,188.3 643.7,189.1 644.4,189.7 645.1,188.2 645.7,189.6 646.4,189.1 647.1,189.3 647.8,189.3 648.5,190.6 649.2,187.8 649.8,189.7 650.5,188.3 651.2,189.7 651.9,189.0 652.6,189.8 653.3,189.7 654.0,188.9 654.6,188.9 655.3,189.3 656.0,189.5 656.7,190.5 657.4,189.3 658.1,189.6 658.8,189.6 659.4,188.4 660.1,191.5 660.8,189.5 661.5,188.6 662.2,188.4 662.9,190.7 663.5,189.7 664.2,188.5 664.9,188.6 665.6,190.2 666.3,187.9 667.0,189.9 667.7,188.0 668.3,189.2 669.0,188.9 669.7,190.6 670.4,188.4 671.1,190.5 671.8,189.0 672.5,189.5 673.1,191.0 673.8,189.4 674.5,188.9 675.2,189.9 675.9,189.0 676.6,189.7 677.2,189.5 677.9,190.1 678.6,188.8 679.3,189.9 680.0,189.0 680.7,188.8 681.4,189.8 682.0,189.8 682.7,188.9 683.4,188.6 684.1,189.1 684.8,188.1 685.5,188.9 686.2,188.2 686.8,189.4 687.5,189.0 688.2,187.2 688.9,189.1 689.6,188.0 690.3,188.0 690.9,187.6 691.6,187.1 692.3,188.2 693.0,188.4 693.7,189.1 694.4,187.8 695.1,187.6 695.7,188.6 696.4,187.9 697.1,187.5 697.8,188.5 698.5,188.8 699.2,188.4 699.9,187.9 700.5,189.1 701.2,187.9 701.9,188.5 702.6,188.1 703.3,188.7 704.0,187.7 704.6,189.1 705.3,188.1 706.0,188.6 706.7,187.5 707.4,188.7 708.1,188.2 708.8,187.2 709.4,187.5 710.1,188.3 710.8,187.6 711.5,188.2 712.2,187.9 712.9,186.7 713.6,187.1 714.2,188.8 714.9,186.8 715.6,187.5 716.3,186.2 717.0,186.4 717.7,185.5 718.3,186.4 719.0,186.8 719.7,185.9 720.4,184.2 721.1,185.9 721.8,185.4 722.5,185.9 723.1,185.3 723.8,186.2 724.5,187.0 725.2,186.0 725.9,185.7 726.6,185.6 727.3,185.3 727.9,185.6 728.6,185.5 729.3,185.0 730.0,183.7 730.7,184.5 731.4,184.3 732.0,183.5 732.7,183.9 733.4,184.7 734.1,184.3 734.8,184.4 735.5,184.9 736.2,185.2 736.8,186.0 737.5,186.5 738.2,185.7 738.9,186.1 739.6,186.3 740.3,186.2 741.0,187.6 741.6,186.7 742.3,186.8 743.0,187.0 743.7,185.3 744.4,184.6 745.1,185.5 745.7,186.5 746.4,185.4 747.1,186.6 747.8,186.2 748.5,186.4 749.2,186.6 749.9,185.7 750.5,186.6 751.2,187.0 751.9,186.8 752.6,186.6 753.3,186.5 754.0,186.8 754.7,186.1 755.3,186.7 756.0,186.2 756.7,186.0 757.4,185.5 758.1,184.9 758.8,184.3 759.4,185.1 760.1,184.9 760.8,184.9 761.5,184.4 762.2,185.0 762.9,184.6 763.6,183.1 764.2,183.8 764.9,183.9 765.6,184.5 766.3,183.6 767.0,183.9 767.7,184.7 768.4,182.9 769.0,182.4 769.7,183.6 770.4,181.9 771.1,180.9 771.8,180.7 772.5,181.2 773.1,179.7 773.8,180.7 774.5,180.1 775.2,179.2 775.9,179.9 776.6,180.9 777.3,180.5 777.9,183.2 778.6,182.8 779.3,181.0 780.0,182.6 780.7,182.7 781.4,182.5 782.1,182.1 782.7,182.6 783.4,183.5 784.1,183.2 784.8,181.5 785.5,183.0 786.2,181.7 786.8,183.7 787.5,182.2 788.2,181.8 788.9,181.5 789.6,179.6 790.3,179.1 791.0,178.9 791.6,178.5 792.3,177.4 793.0,176.0 793.7,176.4 794.4,173.3 795.1,176.1 795.8,177.0 796.4,177.5 797.1,178.8 797.8,180.7 798.5,182.9 799.2,184.1 799.9,184.6 800.5,184.3 801.2,184.9 801.9,184.4 802.6,186.3 803.3,184.3 804.0,184.9 804.7,185.8 805.3,184.2 806.0,184.9 806.7,185.1 807.4,184.3 808.1,184.6 808.8,183.0 809.5,183.2 810.1,183.8 810.8,183.8 811.5,183.4 812.2,184.0 812.9,185.1 813.6,183.4 814.2,182.8 814.9,184.6 815.6,185.4 816.3,184.4 817.0,182.8 817.7,184.4 818.4,184.6 819.0,184.0 819.7,183.5 820.4,183.0 821.1,184.0 821.8,184.9 822.5,183.2 823.2,183.3 823.8,184.6 824.5,184.1 825.2,183.6 825.9,184.0 826.6,186.0 827.3,184.3 827.9,185.3 828.6,185.6 829.3,187.2 830.0,185.5 830.7,187.1 831.4,186.6 832.1,186.1 832.7,185.8 833.4,185.6 834.1,185.1 834.8,185.4 835.5,185.0 836.2,184.4 836.9,181.4 837.5,182.5 838.2,179.8 838.9,181.4 839.6,178.0 840.3,176.2 841.0,174.6 841.6,171.1 842.3,168.8 843.0,166.6 843.7,164.2 844.4,162.1 845.1,161.0 845.8,159.2 846.4,159.1 847.1,159.4 847.8,162.7 848.5,165.7 849.2,169.3 849.9,171.3 850.6,174.1 851.2,177.2 851.9,179.8 852.6,181.1 853.3,182.9 854.0,183.5 854.7,184.2 855.3,186.5 856.0,185.2 856.7,185.4 857.4,186.6 858.1,187.1 858.8,187.1 859.5,186.8 860.1,187.7 860.8,187.2 861.5,186.5 862.2,187.0 862.9,187.1 863.6,186.8 864.3,186.4 864.9,185.3 865.6,186.7 866.3,187.1 867.0,186.2 867.7,187.2 868.4,187.8 869.0,187.4 869.7,187.6 870.4,188.6 871.1,187.9 871.8,187.0 872.5,188.1 873.2,188.8 873.8,189.3 874.5,189.3 875.2,187.3 875.9,189.0 876.6,187.8 877.3,189.5 878.0,189.1 878.6,189.1 879.3,188.6 880.0,187.8 880.7,189.2 881.4,188.0 882.1,188.6 882.7,188.6 883.4,189.3 884.1,189.1 884.8,188.5 885.5,189.5 886.2,187.5 886.9,189.1 887.5,188.3 888.2,188.4 888.9,188.1 889.6,188.9 890.3,189.1 891.0,189.3 891.7,188.3 892.3,189.2 893.0,188.9 893.7,189.2 894.4,187.9 895.1,190.1 895.8,189.7 896.4,189.3 897.1,189.7 897.8,188.4 898.5,188.6 899.2,188.9 899.9,189.4 900.6,187.8 901.2,189.6 901.9,188.3 902.6,188.5 903.3,189.6 904.0,189.8 904.7,188.8 905.4,188.9 906.0,190.0 906.7,188.7 907.4,190.0 908.1,188.5 908.8,188.6 909.5,189.1 910.1,188.8 910.8,188.9 911.5,189.6 912.2,189.2 912.9,189.0 913.6,187.7 914.3,190.4 914.9,189.1 915.6,188.6 916.3,189.2 917.0,189.5 917.7,189.0 918.4,190.9 919.1,190.8 919.7,190.4 920.4,188.6 921.1,189.1 921.8,190.7 922.5,189.4 923.2,190.0 923.8,190.2 924.5,189.2 925.2,189.9 925.9,189.3 926.6,189.9 927.3,189.8 928.0,190.3 928.6,190.7 929.3,190.4 930.0,191.2 930.7,190.5 931.4,189.6 932.1,191.1 932.8,190.7 933.4,190.8 934.1,189.7 934.8,191.4 935.5,191.0 936.2,190.0 936.9,189.5 937.5,190.0 938.2,191.3 938.9,190.3 939.6,190.4 940.3,189.3 941.0,190.1 941.7,189.8 942.3,188.7 943.0,189.8 943.7,189.1 944.4,188.9 945.1,190.4 945.8,189.6 946.5,190.3 947.1,190.6 947.8,190.0 948.5,189.9 949.2,190.3 949.9,190.4 950.6,190.2 951.2,189.8 951.9,189.8 952.6,189.3 953.3,189.6 954.0,189.1 954.7,188.6 955.4,188.4 956.0,188.5 956.7,187.1 957.4,187.3 958.1,188.6 958.8,187.5 959.5,187.5 960.2,187.2 960.8,186.8 961.5,188.0 962.2,186.7 962.9,187.3 963.6,187.3 964.3,188.0 964.9,188.8 965.6,188.8 966.3,189.0 967.0,189.7 967.7,189.4 968.4,189.8 969.1,190.2 969.7,188.8 970.4,190.8 971.1,189.5 971.8,191.3 972.5,191.7 973.2,191.4 973.9,190.8 974.5,191.9 975.2,192.0 975.9,191.1 976.6,192.0 977.3,192.0 978.0,191.7 978.6,193.0 979.3,190.8 980.0,190.4 980.7,191.3 981.4,192.2 982.1,191.3 982.8,191.3 983.4,190.9 984.1,190.5 984.8,191.7 985.5,191.4 986.2,190.8 986.9,192.0 987.6,191.0 988.2,191.2 988.9,191.6 989.6,190.9 990.3,190.7 991.0,190.4 991.7,190.2 992.3,191.3 993.0,191.2 993.7,191.1 994.4,191.2 995.1,190.2 995.8,190.5 996.5,190.3 997.1,191.1 997.8,190.5 998.5,191.3 999.2,191.1 999.9,190.4 1000.6,190.8 1001.3,190.6 1001.9,189.5 1002.6,191.3 1003.3,192.5 1004.0,190.4 1004.7,191.1 1005.4,190.7 1006.0,192.0 1006.7,190.9 1007.4,191.4 1008.1,190.4 1008.8,191.1 1009.5,192.2 1010.2,192.0 1010.8,191.3 1011.5,190.7 1012.2,191.4 1012.9,192.5 1013.6,192.0 1014.3,192.0 1015.0,191.6 1015.6,192.5 1016.3,192.3 1017.0,192.7 1017.7,192.3 1018.4,191.7 1019.1,191.1 1019.7,192.0 1020.4,191.6 1021.1,191.4 1021.8,192.1 1022.5,192.1 1023.2,193.1 1023.9,191.6 1024.5,191.1 1025.2,192.9 1025.9,192.9 1026.6,191.6 1027.3,192.6 1028.0,191.5 1028.7,191.8 1029.3,192.4 1030.0,192.0 1030.7,190.3 1031.4,191.8 1032.1,191.8 1032.8,191.9 1033.4,191.6 1034.1,192.1 1034.8,193.2 1035.5,192.6 1036.2,193.0 1036.9,193.2 1037.6,192.7 1038.2,192.1 1038.9,192.6 1039.6,193.8 1040.3,192.5 1041.0,193.2 1041.7,194.3 1042.4,193.1 1043.0,193.6 1043.7,193.3 1044.4,192.8 1045.1,194.2 1045.8,192.6 1046.5,192.4 1047.1,191.8 1047.8,191.9 1048.5,193.5 1049.2,191.5 1049.9,191.7 1050.6,192.7 1051.3,192.2 1051.9,193.5 1052.6,192.1 1053.3,192.5 1054.0,192.0 1054.7,191.6 1055.4,192.6 1056.1,193.5 1056.7,192.8 1057.4,192.7 1058.1,192.1 1058.8,193.4 1059.5,193.6 1060.2,191.3 1060.8,192.5 1061.5,191.9 1062.2,192.2 1062.9,192.1 1063.6,193.2 1064.3,191.7 1065.0,192.3 1065.6,191.9 1066.3,191.6 1067.0,193.4 1067.7,192.6 1068.4,193.7 1069.1,192.8 1069.8,193.0 1070.4,192.1 1071.1,192.7 1071.8,193.8 1072.5,192.7 1073.2,192.7 1073.9,194.4 1074.5,192.7 1075.2,192.6 1075.9,192.9 1076.6,194.0 1077.3,193.0 1078.0,193.6 1078.7,193.7 1079.3,194.1 1080.0,194.2 1080.7,194.6 1081.4,193.1 1082.1,192.0 1082.8,194.6 1083.5,193.6 1084.1,193.5 1084.8,193.9 1085.5,193.4 1086.2,193.6 1086.9,194.5 1087.6,192.3 1088.2,194.1 1088.9,191.8 1089.6,193.7 1090.3,193.5 1091.0,193.2 1091.7,193.2 1092.4,193.2 1093.0,192.6 1093.7,193.5 1094.4,193.4 1095.1,193.4 1095.8,193.0 1096.5,192.3 1097.2,192.8 1097.8,191.4 1098.5,192.7 1099.2,193.0 1099.9,194.5 1100.6,193.1 1101.3,194.3 1101.9,192.7 1102.6,194.1 1103.3,192.6 1104.0,193.0 1104.7,193.1 1105.4,192.8 1106.1,193.1 1106.7,192.9 1107.4,193.6 1108.1,191.9 1108.8,193.5 1109.5,193.4 1110.2,193.9 1110.9,192.9 1111.5,192.9 1112.2,192.7 1112.9,194.4 1113.6,194.0 1114.3,193.5 1115.0,194.1 1115.6,193.5 1116.3,192.9 1117.0,194.0 1117.7,193.8 1118.4,194.3 1119.1,193.6 1119.8,192.6 1120.4,194.4 1121.1,193.8 1121.8,193.8 1122.5,192.7 1123.2,193.5 1123.9,193.4 1124.6,193.1 1125.2,193.1 1125.9,192.6 1126.6,192.7 1127.3,192.8 1128.0,193.0 1128.7,192.9 1129.3,194.7 1130.0,193.6 1130.7,193.2 1131.4,194.0 1132.1,193.3 1132.8,194.4 1133.5,193.7 1134.1,194.1 1134.8,192.8 1135.5,194.0 1136.2,193.5 1136.9,193.7 1137.6,192.9 1138.3,193.0 1138.9,194.2 1139.6,193.4 1140.3,193.6 1141.0,194.3 1141.7,194.9 1142.4,194.5 1143.0,192.5 1143.7,193.7 1144.4,193.0 1145.1,192.9 1145.8,192.7 1146.5,193.9 1147.2,193.6 1147.8,193.7 1148.5,194.6 1149.2,194.2 1149.9,193.4 1150.6,193.5 1151.3,194.4 1152.0,194.4 1152.6,195.2 1153.3,194.9 1154.0,194.7 1154.7,193.7 1155.4,193.8 1156.1,194.8 1156.7,194.5 1157.4,194.3 1158.1,194.6 1158.8,194.9 1159.5,193.6 1160.2,194.0 1160.9,195.1 1161.5,194.1 1162.2,193.6 1162.9,193.4 1163.6,195.0 1164.3,193.7 1165.0,193.8 1165.7,194.5 1166.3,194.3 1167.0,194.6 1167.7,194.8 1168.4,195.3 1169.1,195.0 1169.8,194.8 1170.4,194.4 1171.1,195.1 1171.8,194.7 1172.5,195.0 1173.2,195.5 1173.9,194.6 1174.6,196.1 1175.2,194.8 1175.9,194.4 1176.6,195.0 1177.3,194.9 1178.0,194.7 1178.7,193.4 1179.4,195.4 1180.0,193.7 1180.7,194.1 1181.4,192.2 1182.1,193.7 1182.8,193.9 1183.5,191.9 1184.1,193.6 1184.8,193.9 1185.5,193.7 1186.2,193.8 1186.9,193.9 1187.6,194.8 1188.3,192.8 1188.9,194.9 1189.6,194.0 1190.3,193.4 1191.0,193.5 1191.7,193.2 1192.4,194.1 1193.1,194.2 1193.7,193.8 1194.4,194.9 1195.1,193.7 1195.8,194.7 1196.5,193.1 1197.2,195.1 1197.8,193.8 1198.5,194.3 1199.2,193.7 1199.9,194.1 1200.6,195.2 1201.3,194.3 1202.0,195.0 1202.6,194.4 1203.3,194.6 1204.0,194.0 1204.7,194.2 1205.4,193.6 1206.1,193.8 1206.8,194.2 1207.4,194.5 1208.1,195.2 1208.8,194.8 1209.5,194.9 1210.2,194.3 1210.9,194.8 1211.5,196.3 1212.2,194.7 1212.9,194.4 1213.6,194.6 1214.3,194.1 1215.0,194.8 1215.7,194.7 1216.3,193.5 1217.0,194.9 1217.7,195.4 1218.4,194.4 1219.1,194.9 1219.8,195.5 1220.5,194.2 1221.1,195.7 1221.8,193.5 1222.5,194.8 1223.2,195.0 1223.9,195.6 1224.6,195.3 1225.2,195.9 1225.9,195.7 1226.6,194.6 1227.3,194.6 1228.0,195.5 1228.7,195.4 1229.4,194.1 1230.0,195.9 1230.7,193.6 1231.4,195.6 1232.1,195.2 1232.8,195.6 1233.5,194.6 1234.2,194.7 1234.8,195.3 1235.5,195.1 1236.2,194.6 1236.9,194.4 1237.6,195.5 1238.3,194.8 1238.9,194.2 1239.6,194.5 1240.3,195.5 1241.0,195.0 1241.7,194.2 1242.4,194.7 1243.1,194.0 1243.7,194.6 1244.4,194.9 1245.1,196.0 1245.8,194.7 1246.5,195.0 1247.2,194.2 1247.9,193.6 1248.5,194.2 1249.2,194.8 1249.9,194.8 1250.6,194.8 1251.3,194.3 1252.0,193.8 1252.6,195.0 1253.3,194.7 1254.0,194.3 1254.7,194.8 1255.4,194.4 1256.1,194.4 1256.8,193.8 1257.4,195.6 1258.1,195.9 1258.8,195.4 1259.5,195.5 1260.2,196.1 1260.9,195.0 1261.6,194.7 1262.2,195.1 1262.9,194.7 1263.6,196.3 1264.3,195.4 1265.0,195.1 1265.7,195.4 1266.3,195.1 1267.0,195.2 1267.7,195.5 1268.4,196.3 1269.1,195.1 1269.8,196.1 1270.5,195.0 1271.1,195.3 1271.8,194.8 1272.5,194.7 1273.2,194.7 1273.9,195.5 1274.6,194.6 1275.3,194.6 1275.9,194.1 1276.6,195.1 1277.3,194.7 1278.0,195.4 1278.7,195.2 1279.4,193.7 1280.0,194.7 1280.7,195.4 1281.4,194.8 1282.1,195.3 1282.8,194.4 1283.5,196.0 1284.2,195.8 1284.8,194.9 1285.5,195.3 1286.2,195.2 1286.9,194.2 1287.6,195.7 1288.3,195.2 1289.0,195.7 1289.6,193.6 1290.3,194.4 1291.0,194.9 1291.7,194.3 1292.4,195.0 1293.1,196.1 1293.7,194.3 1294.4,194.2 1295.1,194.8 1295.8,195.2 1296.5,194.3 1297.2,195.9 1297.9,195.0 1298.5,194.4 1299.2,194.9 1299.9,196.7 1300.6,195.2 1301.3,194.2 1302.0,195.5 1302.7,196.1 1303.3,193.7 1304.0,195.2 1304.7,194.8 1305.4,195.1 1306.1,195.5 1306.8,193.8 1307.4,194.4 1308.1,195.2 1308.8,195.2 1309.5,195.0 1310.2,195.5 1310.9,194.3 1311.6,193.9 1312.2,195.0 1312.9,195.3 1313.6,194.8 1314.3,194.8 1315.0,195.2 1315.7,194.6 1316.4,194.3 1317.0,195.2 1317.7,195.2 1318.4,195.7 1319.1,195.9 1319.8,195.7 1320.5,195.9 1321.1,196.0 1321.8,194.7 1322.5,194.4 1323.2,196.5 1323.9,195.7 1324.6,196.7 1325.3,194.8 1325.9,195.2 1326.6,195.5 1327.3,195.9 1328.0,194.9 1328.7,195.5 1329.4,196.2 1330.1,193.8 1330.7,196.0 1331.4,194.0 1332.1,195.7 1332.8,194.4 1333.5,193.6 1334.2,194.7 1334.8,195.2 1335.5,194.8 1336.2,195.3 1336.9,195.5 1337.6,195.2 1338.3,194.3 1339.0,196.4 1339.6,195.5 1340.3,194.7 1341.0,194.9 1341.7,194.3 1342.4,194.6 1343.1,193.6 1343.8,195.8 1344.4,195.0 1345.1,195.9 1345.8,195.6 1346.5,195.5 1347.2,195.6 1347.9,195.0 1348.5,195.5 1349.2,194.4 1349.9,193.7 1350.6,194.6 1351.3,194.9 1352.0,196.3 1352.7,195.1 1353.3,195.7 1354.0,196.0 1354.7,194.5 1355.4,195.4 1356.1,196.1 1356.8,194.1 1357.5,194.4 1358.1,195.3 1358.8,195.4 1359.5,196.2 1360.2,195.4 1360.9,195.4 1361.6,195.2 1362.2,195.0 1362.9,194.4 1363.6,196.6 1364.3,197.0 1365.0,195.6 1365.7,194.9 1366.4,194.7 1367.0,195.4 1367.7,195.3 1368.4,195.8 1369.1,195.1 1369.8,195.5 1370.5,195.3 1371.2,194.9 1371.8,194.4 1372.5,196.0 1373.2,194.6 1373.9,195.3 1374.6,194.9 1375.3,196.5 1375.9,195.7 1376.6,195.3 1377.3,195.5 1378.0,195.9 1378.7,196.9 1379.4,195.8 1380.1,195.6 1380.7,195.0 1381.4,195.1 1382.1,196.9 1382.8,195.9 1383.5,196.5 1384.2,194.0 1384.9,195.6 1385.5,194.2 1386.2,194.8 1386.9,195.5 1387.6,195.8 1388.3,195.3 1389.0,195.6 1389.6,195.1 1390.3,195.5 1391.0,193.9 1391.7,195.7 1392.4,195.0 1393.1,195.5 1393.8,196.9 1394.4,196.1 1395.1,195.2 1395.8,193.8 1396.5,195.9 1397.2,195.9 1397.9,195.0 1398.6,197.0 1399.2,195.6 1399.9,195.4 1400.6,195.9 1401.3,195.8 1402.0,195.6 1402.7,196.8 1403.3,195.4 1404.0,194.1 1404.7,195.7 1405.4,195.2 1406.1,195.2 1406.8,196.6 1407.5,196.4 1408.1,194.2 1408.8,195.0 1409.5,195.4 1410.2,194.7 1410.9,195.2 1411.6,194.5 1412.3,193.6 1412.9,194.0 1413.6,195.0 1414.3,195.2 1415.0,195.9 1415.7,195.9 1416.4,194.1 1417.0,194.5 1417.7,195.3 1418.4,196.2 1419.1,195.5 1419.8,195.7 1420.5,195.8 1421.2,195.7 1421.8,194.1 1422.5,194.7 1423.2,195.6 1423.9,194.6 1424.6,194.8 1425.3,194.8 1426.0,194.2 1426.6,194.8 1427.3,195.1 1428.0,195.4 1428.7,195.6 1429.4,194.7 1430.1,195.4 1430.7,194.4 1431.4,194.4 1432.1,195.4 1432.8,194.2 1433.5,196.1 1434.2,194.8 1434.9,194.0 1435.5,195.2 1436.2,195.2 1436.9,194.3 1437.6,194.1 1438.3,194.5 1439.0,194.7 1439.7,193.4 1440.3,194.0 1441.0,194.1 1441.7,195.3 1442.4,194.9 1443.1,194.5 1443.8,195.3 1444.4,195.1 1445.1,195.6 1445.8,195.1 1446.5,195.0 1447.2,195.9 1447.9,195.6 1448.6,195.0 1449.2,196.1 1449.9,195.6 1450.6,194.8 1451.3,195.3 1452.0,195.3 1452.7,194.9 1453.4,195.0 1454.0,196.4 1454.7,194.5 1455.4,195.1 1456.1,195.2 1456.8,195.2 1457.5,195.6 1458.1,195.1 1458.8,194.7 1459.5,193.6 1460.2,195.0 1460.9,195.2 1461.6,194.6 1462.3,194.9 1462.9,194.7 1463.6,194.8 1464.3,194.9 1465.0,196.3 1465.7,195.9 1466.4,195.4 1467.1,194.6 1467.7,194.9 1468.4,195.6 1469.1,194.9 1469.8,195.8 1470.5,194.5 1471.2,196.8 1471.8,195.4 1472.5,195.4 1473.2,195.2 1473.9,195.2 1474.6,196.1 1475.3,197.0 1476.0,195.5 1476.6,195.7 1477.3,195.6 1478.0,196.9 1478.7,196.7 1479.4,194.9 1480.1,195.6 1480.8,197.0 1481.4,195.4 1482.1,195.5 1482.8,195.7 1483.5,195.6 1484.2,195.1 1484.9,194.8 1485.5,195.0 1486.2,195.5 1486.9,194.0 1487.6,196.1 1488.3,195.1 1489.0,195.7 1489.7,195.7 1490.3,196.2 1491.0,195.9 1491.7,195.7 1492.4,196.0 1493.1,196.3 1493.8,195.7 1494.5,195.5 1495.1,195.6 1495.8,194.8 1496.5,196.8 1497.2,195.5 1497.9,195.8 1498.6,195.6 1499.2,196.3 1499.9,195.6 1500.6,195.9 1501.3,196.4 1502.0,195.7 1502.7,195.4 1503.4,195.1 1504.0,196.3 1504.7,196.0 1505.4,195.2 1506.1,195.7 1506.8,194.3 1507.5,195.0 1508.2,195.7 1508.8,195.5 1509.5,195.6 1510.2,196.3 1510.9,195.2 1511.6,195.5 1512.3,195.5 1512.9,196.4 1513.6,196.9 1514.3,194.9 1515.0,195.6 1515.7,196.1 1516.4,194.8 1517.1,196.0 1517.7,196.1 1518.4,196.0 1519.1,195.9 1519.8,195.0 1520.5,195.1 1521.2,195.4 1521.9,196.1 1522.5,194.9 1523.2,195.6 1523.9,195.2 1524.6,195.2 1525.3,195.8 1526.0,195.6 1526.6,195.1 1527.3,194.4 1528.0,194.5 1528.7,194.2 1529.4,196.3 1530.1,195.8 1530.8,195.7 1531.4,196.4 1532.1,194.9 1532.8,196.5 1533.5,196.0 1534.2,195.5 1534.9,196.4 1535.6,197.3 1536.2,196.3 1536.9,196.6 1537.6,195.6 1538.3,197.0 1539.0,197.2 1539.7,196.5 1540.3,196.7 1541.0,195.6 1541.7,195.6 1542.4,195.7 1543.1,196.2 1543.8,194.9 1544.5,196.0 1545.1,196.0 1545.8,196.1 1546.5,196.3 1547.2,194.5 1547.9,196.5 1548.6,194.4 1549.3,195.8 1549.9,193.9 1550.6,194.7 1551.3,196.2 1552.0,194.9 1552.7,195.4 1553.4,194.8 1554.0,194.9 1554.7,195.3 1555.4,196.1 1556.1,195.9 1556.8,194.6 1557.5,195.7 1558.2,196.1 1558.8,195.6 1559.5,196.9 1560.2,196.3 1560.9,196.3 1561.6,195.3 1562.3,195.1 1563.0,196.3 1563.6,195.0 1564.3,195.4 1565.0,195.4 1565.7,195.6 1566.4,196.7 1567.1,196.2 1567.7,195.2 1568.4,195.8 1569.1,195.9 1569.8,196.1 1570.5,195.8 1571.2,196.9 1571.9,195.3 1572.5,195.4 1573.2,195.4 1573.9,195.4 1574.6,195.3 1575.3,194.9 1576.0,195.3 1576.7,196.2 1577.3,195.9 1578.0,194.3 1578.7,196.0 1579.4,194.8 1580.1,195.6 1580.8,195.8 1581.4,195.0 1582.1,194.7 1582.8,195.2 1583.5,195.6 1584.2,196.7 1584.9,194.9 1585.6,195.4 1586.2,195.0 1586.9,196.0 1587.6,195.8 1588.3,196.2 1589.0,195.0 1589.7,196.6 1590.4,196.8 1591.0,195.3 1591.7,196.1 1592.4,198.0 1593.1,195.7 1593.8,195.7 1594.5,196.2 1595.1,196.4 1595.8,196.1 1596.5,195.4 1597.2,195.5 1597.9,195.4 1598.6,195.5 1599.3,195.4 1599.9,195.1 1600.6,195.2 1601.3,195.9 1602.0,195.1 1602.7,196.4 1603.4,195.6 1604.1,195.0 1604.7,194.2 1605.4,195.6 1606.1,194.7 1606.8,195.7 1607.5,195.5 1608.2,195.9 1608.8,195.3 1609.5,195.5 1610.2,196.4 1610.9,193.7 1611.6,195.7 1612.3,196.0 1613.0,195.3 1613.6,196.2 1614.3,195.1 1615.0,195.2 1615.7,195.7 1616.4,194.6 1617.1,195.1 1617.8,195.6 1618.4,196.1 1619.1,196.2 1619.8,195.2 1620.5,196.0 1621.2,195.0 1621.9,196.6 1622.5,195.5 1623.2,195.6 1623.9,195.2 1624.6,195.7 1625.3,195.4 1626.0,194.8 1626.7,197.4 1627.3,196.3 1628.0,195.9 1628.7,195.9 1629.4,195.6 1630.1,194.9 1630.8,195.7 1631.5,195.2 1632.1,196.0 1632.8,196.0 1633.5,195.8 1634.2,195.1 1634.9,197.0 1635.6,196.8 1636.2,195.4 1636.9,196.2 1637.6,196.0 1638.3,195.9 1639.0,195.9 1639.7,195.3 1640.4,195.9 1641.0,196.0 1641.7,195.8 1642.4,196.6 1643.1,195.8 1643.8,195.2 1644.5,195.3 1645.2,195.9 1645.8,194.9 1646.5,195.8 1647.2,195.9 1647.9,195.6 1648.6,195.2 1649.3,195.9 1649.9,195.3 1650.6,194.8 1651.3,195.5 1652.0,197.3 1652.7,194.5 1653.4,196.1 1654.1,195.6 1654.7,195.3 1655.4,195.2 1656.1,194.8 1656.8,195.7 1657.5,195.9 1658.2,197.1 1658.9,195.2 1659.5,196.4 1660.2,195.5 1660.9,196.6 1661.6,196.1 1662.3,194.9 1663.0,196.1 1663.6,196.3 1664.3,196.4 1665.0,196.4 1665.7,196.6 1666.4,195.8 1667.1,195.9 1667.8,195.3 1668.4,196.0 1669.1,197.0 1669.8,196.4 1670.5,196.2 1671.2,195.4 1671.9,197.2 1672.6,196.5 1673.2,195.9 1673.9,195.4 1674.6,195.9 1675.3,195.7 1676.0,196.6 1676.7,195.5 1677.3,195.1 1678.0,195.7 1678.7,195.1 1679.4,195.1"/>
</g>
<g fill="#000">
<rect x="165" y="57" width="1522" height="15"/>
<rect x="165" y="1268" width="1522" height="15"/>
<rect x="1672" y="57" width="15" height="1243"/>
<rect x="301.9" y="1283" width="15" height="17"/>
<rect x="575.9" y="1283" width="15" height="17"/>
<rect x="849.9" y="1283" width="15" height="17"/>
<rect x="1123.9" y="1283" width="15" height="17"/>
<rect x="1397.9" y="1283" width="15" height="17"/>
<rect x="438.9" y="1283" width="15" height="5"/>
<rect x="712.9" y="1283" width="15" height="5"/>
<rect x="986.9" y="1283" width="15" height="5"/>
<rect x="1260.9" y="1283" width="15" height="5"/>
<rect x="1534.9" y="1283" width="15" height="5"/>
</g>
<g font-family="Liberation Sans, Arial, sans-serif" font-weight="bold" style="font-kerning:none" fill="#000">
<text transform="translate(309.4,1397.0) scale(1,1.04)" font-size="102.4" text-anchor="middle">10</text>
<text transform="translate(583.4,1397.0) scale(1,1.04)" font-size="102.4" text-anchor="middle">20</text>
<text transform="translate(857.4,1397.0) scale(1,1.04)" font-size="102.4" text-anchor="middle">30</text>
<text transform="translate(1131.4,1397.0) scale(1,1.04)" font-size="102.4" text-anchor="middle">40</text>
<text transform="translate(1405.4,1397.0) scale(1,1.04)" font-size="102.4" text-anchor="middle">50</text>
<text transform="translate(1679.4,1397.0) scale(1,1.04)" font-size="102.4" text-anchor="middle">60</text>
<text transform="translate(925.6,1511.8) scale(1,1.04)" font-size="102.1" text-anchor="middle">2 Theta <tspan font-size="96" dx="1">(</tspan><tspan dx="1">Degree</tspan><tspan font-size="96" dx="1">)</tspan></text>
<text transform="translate(112.1,633.9) rotate(-90) scale(1,1.04)" font-size="102.7" text-anchor="middle">Intensity <tspan font-size="96.5" dx="1">(</tspan><tspan dx="1">a.u.</tspan><tspan font-size="96.5" dx="1">)</tspan></text>
<text transform="translate(1643.5,172.6) scale(1,1.04)" font-size="69" text-anchor="end">15SQDs/SPI</text>
<text transform="translate(1649.5,301.6) scale(1,1.04)" font-size="69" text-anchor="end">13SQDs/SPI</text>
<text transform="translate(1651.5,469.0) scale(1,1.04)" font-size="69" text-anchor="end">10SQDs/SPI</text>
<text transform="translate(1647.7,625.2) scale(1,1.04)" font-size="69" text-anchor="end">5SQDs/SPI</text>
<text transform="translate(1651.6,760.0) scale(1,1.04)" font-size="69" text-anchor="end">3SQDs/SPI</text>
<text transform="translate(1655.5,924.0) scale(1,1.04)" font-size="69" text-anchor="end">1SQDs/SPI</text>
<text transform="translate(1639.4,1232.8) scale(1,1.04)" font-size="69" text-anchor="end">SPI</text>
<text transform="translate(1417.5,1090.0) scale(1,1.04)" font-size="69" text-anchor="start">SnS<tspan dy="17" font-size="65">2</tspan><tspan dy="-17">*6</tspan></text>
<g>
<text transform="translate(315.2,1012.8) scale(1.15,1)" font-family="Liberation Sans, Noto Sans CJK SC, sans-serif" font-weight="500" font-size="59">（</text>
<text transform="translate(411.4,1012.8) scale(1,1.04)" font-size="63" text-anchor="start">001</text>
<text transform="translate(519.9,1012.8) scale(1.15,1)" font-family="Liberation Sans, Noto Sans CJK SC, sans-serif" font-weight="500" font-size="59">）</text>
</g>
<g>
<text transform="translate(606.1,1045.9) scale(1.15,1)" font-family="Liberation Sans, Noto Sans CJK SC, sans-serif" font-weight="500" font-size="59">（</text>
<text transform="translate(706.0,1045.9) scale(1,1.04)" font-size="63" text-anchor="start">100</text>
<text transform="translate(810.0,1045.9) scale(1.15,1)" font-family="Liberation Sans, Noto Sans CJK SC, sans-serif" font-weight="500" font-size="59">）</text>
</g>
<g>
<text transform="translate(787.7,1028.5) scale(1.15,1)" font-family="Liberation Sans, Noto Sans CJK SC, sans-serif" font-weight="500" font-size="59">（</text>
<text transform="translate(887.2,1028.5) scale(1,1.04)" font-size="63" text-anchor="start">101</text>
<text transform="translate(991.1,1028.5) scale(1.15,1)" font-family="Liberation Sans, Noto Sans CJK SC, sans-serif" font-weight="500" font-size="59">）</text>
</g>
<g>
<text transform="translate(1147.5,1052.1) scale(1.15,1)" font-family="Liberation Sans, Noto Sans CJK SC, sans-serif" font-weight="500" font-size="59">（</text>
<text transform="translate(1247.8,1052.1) scale(1,1.04)" font-size="63" text-anchor="start">110</text>
<text transform="translate(1353.6,1052.1) scale(1.15,1)" font-family="Liberation Sans, Noto Sans CJK SC, sans-serif" font-weight="500" font-size="59">）</text>
</g>
</g>
<line x1="775.9" y1="1049.2" x2="789.5" y2="1063.7" stroke="#000" stroke-width="5.5"/><polygon fill="#000" points="817.6,1093.6 782.1,1070.7 797.0,1056.7"/>
<line x1="1331.7" y1="1054.8" x2="1373.4" y2="1069.7" stroke="#000" stroke-width="5"/><polygon fill="#000" points="1411.1,1083.2 1369.9,1079.6 1377.0,1059.8"/>
</svg>
</body></html>
